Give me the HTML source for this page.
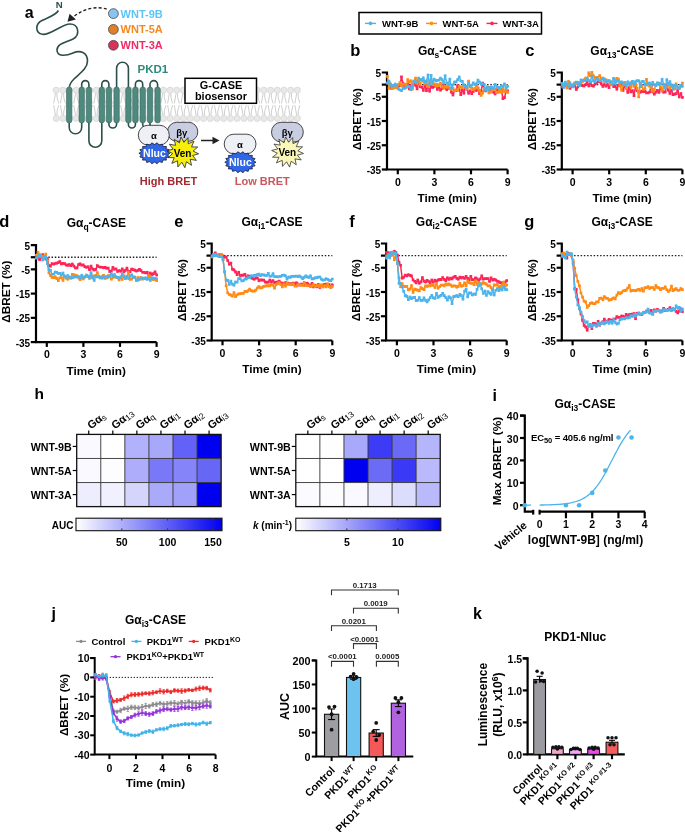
<!DOCTYPE html>
<html><head><meta charset="utf-8"><style>html,body{margin:0;padding:0;background:#fff;width:685px;height:832px;overflow:hidden}svg{display:block;will-change:transform}text{font-family:"Liberation Sans", sans-serif}</style></head>
<body><svg width="685" height="832" viewBox="0 0 685 832" font-family='"Liberation Sans", sans-serif'>
<rect width="685" height="832" fill="#fff"/>
<text x="24.80" y="17.50" font-size="16" font-weight="bold" text-anchor="start" fill="#000" >a</text>
<text x="59.10" y="8.30" font-size="9.6" font-weight="bold" text-anchor="middle" fill="#2a4d48" >N</text>
<path d="M58.4 10.5 C56 15, 48 17.5, 42 20.5 C35 24, 35 33, 42.5 34.3 C50 35.5, 62 24, 70 24 C79 24, 80 35, 73.5 38.8 C67 42.5, 57 43, 57 50 C57 57, 66 56, 73 53 C80 50, 87.5 52, 87.5 61 C87.5 69, 79 74, 74 79 C70 83, 69.3 86, 69.3 88" fill="none" stroke="#2c4f4a" stroke-width="1.6"/>
<path d="M106.7 9.2 C97 6, 85 8, 74.5 16" fill="none" stroke="#222" stroke-width="1.4" stroke-dasharray="3 2.2"/>
<polygon points="67.5,21.8 69.6,13.8 75.9,19.4" fill="#222"/>
<circle cx="113.4" cy="13.6" r="4.9" fill="#88c4f0" stroke="#444" stroke-width="0.8"/>
<text x="120.60" y="17.60" font-size="11" font-weight="bold" text-anchor="start" fill="#5bc5f5" >WNT-9B</text>
<circle cx="113.4" cy="29.4" r="4.9" fill="#e0812a" stroke="#444" stroke-width="0.8"/>
<text x="120.60" y="33.40" font-size="11" font-weight="bold" text-anchor="start" fill="#f5891f" >WNT-5A</text>
<circle cx="113.4" cy="45.3" r="4.9" fill="#d8325e" stroke="#444" stroke-width="0.8"/>
<text x="120.60" y="49.30" font-size="11" font-weight="bold" text-anchor="start" fill="#f02a68" >WNT-3A</text>
<text x="137.50" y="73.20" font-size="11.5" font-weight="bold" text-anchor="start" fill="#2e8a7e" >PKD1</text>
<path d="M55.50 93.20 L53.70 103.40 M56.90 93.20 L57.10 97.70 L58.70 103.40 M55.50 115.40 L53.70 105.20 M56.90 115.40 L57.10 110.90 L58.70 105.20 M62.20 93.20 L60.40 103.40 M63.60 93.20 L63.80 97.70 L65.40 103.40 M62.20 115.40 L60.40 105.20 M63.60 115.40 L63.80 110.90 L65.40 105.20 M68.90 93.20 L67.10 103.40 M70.30 93.20 L70.50 97.70 L72.10 103.40 M68.90 115.40 L67.10 105.20 M70.30 115.40 L70.50 110.90 L72.10 105.20 M75.60 93.20 L73.80 103.40 M77.00 93.20 L77.20 97.70 L78.80 103.40 M75.60 115.40 L73.80 105.20 M77.00 115.40 L77.20 110.90 L78.80 105.20 M82.30 93.20 L80.50 103.40 M83.70 93.20 L83.90 97.70 L85.50 103.40 M82.30 115.40 L80.50 105.20 M83.70 115.40 L83.90 110.90 L85.50 105.20 M89.00 93.20 L87.20 103.40 M90.40 93.20 L90.60 97.70 L92.20 103.40 M89.00 115.40 L87.20 105.20 M90.40 115.40 L90.60 110.90 L92.20 105.20 M95.70 93.20 L93.90 103.40 M97.10 93.20 L97.30 97.70 L98.90 103.40 M95.70 115.40 L93.90 105.20 M97.10 115.40 L97.30 110.90 L98.90 105.20 M102.40 93.20 L100.60 103.40 M103.80 93.20 L104.00 97.70 L105.60 103.40 M102.40 115.40 L100.60 105.20 M103.80 115.40 L104.00 110.90 L105.60 105.20 M109.10 93.20 L107.30 103.40 M110.50 93.20 L110.70 97.70 L112.30 103.40 M109.10 115.40 L107.30 105.20 M110.50 115.40 L110.70 110.90 L112.30 105.20 M115.80 93.20 L114.00 103.40 M117.20 93.20 L117.40 97.70 L119.00 103.40 M115.80 115.40 L114.00 105.20 M117.20 115.40 L117.40 110.90 L119.00 105.20 M122.50 93.20 L120.70 103.40 M123.90 93.20 L124.10 97.70 L125.70 103.40 M122.50 115.40 L120.70 105.20 M123.90 115.40 L124.10 110.90 L125.70 105.20 M129.20 93.20 L127.40 103.40 M130.60 93.20 L130.80 97.70 L132.40 103.40 M129.20 115.40 L127.40 105.20 M130.60 115.40 L130.80 110.90 L132.40 105.20 M135.90 93.20 L134.10 103.40 M137.30 93.20 L137.50 97.70 L139.10 103.40 M135.90 115.40 L134.10 105.20 M137.30 115.40 L137.50 110.90 L139.10 105.20 M142.60 93.20 L140.80 103.40 M144.00 93.20 L144.20 97.70 L145.80 103.40 M142.60 115.40 L140.80 105.20 M144.00 115.40 L144.20 110.90 L145.80 105.20 M149.30 93.20 L147.50 103.40 M150.70 93.20 L150.90 97.70 L152.50 103.40 M149.30 115.40 L147.50 105.20 M150.70 115.40 L150.90 110.90 L152.50 105.20 M156.00 93.20 L154.20 103.40 M157.40 93.20 L157.60 97.70 L159.20 103.40 M156.00 115.40 L154.20 105.20 M157.40 115.40 L157.60 110.90 L159.20 105.20 M162.70 93.20 L160.90 103.40 M164.10 93.20 L164.30 97.70 L165.90 103.40 M162.70 115.40 L160.90 105.20 M164.10 115.40 L164.30 110.90 L165.90 105.20 M169.40 93.20 L167.60 103.40 M170.80 93.20 L171.00 97.70 L172.60 103.40 M169.40 115.40 L167.60 105.20 M170.80 115.40 L171.00 110.90 L172.60 105.20 M176.10 93.20 L174.30 103.40 M177.50 93.20 L177.70 97.70 L179.30 103.40 M176.10 115.40 L174.30 105.20 M177.50 115.40 L177.70 110.90 L179.30 105.20 M182.80 93.20 L181.00 103.40 M184.20 93.20 L184.40 97.70 L186.00 103.40 M182.80 115.40 L181.00 105.20 M184.20 115.40 L184.40 110.90 L186.00 105.20 M189.50 93.20 L187.70 103.40 M190.90 93.20 L191.10 97.70 L192.70 103.40 M189.50 115.40 L187.70 105.20 M190.90 115.40 L191.10 110.90 L192.70 105.20 M196.20 93.20 L194.40 103.40 M197.60 93.20 L197.80 97.70 L199.40 103.40 M196.20 115.40 L194.40 105.20 M197.60 115.40 L197.80 110.90 L199.40 105.20 M202.90 93.20 L201.10 103.40 M204.30 93.20 L204.50 97.70 L206.10 103.40 M202.90 115.40 L201.10 105.20 M204.30 115.40 L204.50 110.90 L206.10 105.20 M209.60 93.20 L207.80 103.40 M211.00 93.20 L211.20 97.70 L212.80 103.40 M209.60 115.40 L207.80 105.20 M211.00 115.40 L211.20 110.90 L212.80 105.20 M216.30 93.20 L214.50 103.40 M217.70 93.20 L217.90 97.70 L219.50 103.40 M216.30 115.40 L214.50 105.20 M217.70 115.40 L217.90 110.90 L219.50 105.20 M223.00 93.20 L221.20 103.40 M224.40 93.20 L224.60 97.70 L226.20 103.40 M223.00 115.40 L221.20 105.20 M224.40 115.40 L224.60 110.90 L226.20 105.20 M229.70 93.20 L227.90 103.40 M231.10 93.20 L231.30 97.70 L232.90 103.40 M229.70 115.40 L227.90 105.20 M231.10 115.40 L231.30 110.90 L232.90 105.20 M236.40 93.20 L234.60 103.40 M237.80 93.20 L238.00 97.70 L239.60 103.40 M236.40 115.40 L234.60 105.20 M237.80 115.40 L238.00 110.90 L239.60 105.20 M243.10 93.20 L241.30 103.40 M244.50 93.20 L244.70 97.70 L246.30 103.40 M243.10 115.40 L241.30 105.20 M244.50 115.40 L244.70 110.90 L246.30 105.20 M249.80 93.20 L248.00 103.40 M251.20 93.20 L251.40 97.70 L253.00 103.40 M249.80 115.40 L248.00 105.20 M251.20 115.40 L251.40 110.90 L253.00 105.20 M256.50 93.20 L254.70 103.40 M257.90 93.20 L258.10 97.70 L259.70 103.40 M256.50 115.40 L254.70 105.20 M257.90 115.40 L258.10 110.90 L259.70 105.20 M263.20 93.20 L261.40 103.40 M264.60 93.20 L264.80 97.70 L266.40 103.40 M263.20 115.40 L261.40 105.20 M264.60 115.40 L264.80 110.90 L266.40 105.20 M269.90 93.20 L268.10 103.40 M271.30 93.20 L271.50 97.70 L273.10 103.40 M269.90 115.40 L268.10 105.20 M271.30 115.40 L271.50 110.90 L273.10 105.20 M276.60 93.20 L274.80 103.40 M278.00 93.20 L278.20 97.70 L279.80 103.40 M276.60 115.40 L274.80 105.20 M278.00 115.40 L278.20 110.90 L279.80 105.20 M283.30 93.20 L281.50 103.40 M284.70 93.20 L284.90 97.70 L286.50 103.40 M283.30 115.40 L281.50 105.20 M284.70 115.40 L284.90 110.90 L286.50 105.20 M290.00 93.20 L288.20 103.40 M291.40 93.20 L291.60 97.70 L293.20 103.40 M290.00 115.40 L288.20 105.20 M291.40 115.40 L291.60 110.90 L293.20 105.20 M296.70 93.20 L294.90 103.40 M298.10 93.20 L298.30 97.70 L299.90 103.40 M296.70 115.40 L294.90 105.20 M298.10 115.40 L298.30 110.90 L299.90 105.20" fill="none" stroke="#cbcbcb" stroke-width="0.95"/>
<g fill="#e8e8e8" stroke="#d0d0d0" stroke-width="0.6"><circle cx="56.20" cy="90.2" r="3.1"/><circle cx="56.20" cy="118.4" r="3.1"/><circle cx="62.90" cy="90.2" r="3.1"/><circle cx="62.90" cy="118.4" r="3.1"/><circle cx="69.60" cy="90.2" r="3.1"/><circle cx="69.60" cy="118.4" r="3.1"/><circle cx="76.30" cy="90.2" r="3.1"/><circle cx="76.30" cy="118.4" r="3.1"/><circle cx="83.00" cy="90.2" r="3.1"/><circle cx="83.00" cy="118.4" r="3.1"/><circle cx="89.70" cy="90.2" r="3.1"/><circle cx="89.70" cy="118.4" r="3.1"/><circle cx="96.40" cy="90.2" r="3.1"/><circle cx="96.40" cy="118.4" r="3.1"/><circle cx="103.10" cy="90.2" r="3.1"/><circle cx="103.10" cy="118.4" r="3.1"/><circle cx="109.80" cy="90.2" r="3.1"/><circle cx="109.80" cy="118.4" r="3.1"/><circle cx="116.50" cy="90.2" r="3.1"/><circle cx="116.50" cy="118.4" r="3.1"/><circle cx="123.20" cy="90.2" r="3.1"/><circle cx="123.20" cy="118.4" r="3.1"/><circle cx="129.90" cy="90.2" r="3.1"/><circle cx="129.90" cy="118.4" r="3.1"/><circle cx="136.60" cy="90.2" r="3.1"/><circle cx="136.60" cy="118.4" r="3.1"/><circle cx="143.30" cy="90.2" r="3.1"/><circle cx="143.30" cy="118.4" r="3.1"/><circle cx="150.00" cy="90.2" r="3.1"/><circle cx="150.00" cy="118.4" r="3.1"/><circle cx="156.70" cy="90.2" r="3.1"/><circle cx="156.70" cy="118.4" r="3.1"/><circle cx="163.40" cy="90.2" r="3.1"/><circle cx="163.40" cy="118.4" r="3.1"/><circle cx="170.10" cy="90.2" r="3.1"/><circle cx="170.10" cy="118.4" r="3.1"/><circle cx="176.80" cy="90.2" r="3.1"/><circle cx="176.80" cy="118.4" r="3.1"/><circle cx="183.50" cy="90.2" r="3.1"/><circle cx="183.50" cy="118.4" r="3.1"/><circle cx="190.20" cy="90.2" r="3.1"/><circle cx="190.20" cy="118.4" r="3.1"/><circle cx="196.90" cy="90.2" r="3.1"/><circle cx="196.90" cy="118.4" r="3.1"/><circle cx="203.60" cy="90.2" r="3.1"/><circle cx="203.60" cy="118.4" r="3.1"/><circle cx="210.30" cy="90.2" r="3.1"/><circle cx="210.30" cy="118.4" r="3.1"/><circle cx="217.00" cy="90.2" r="3.1"/><circle cx="217.00" cy="118.4" r="3.1"/><circle cx="223.70" cy="90.2" r="3.1"/><circle cx="223.70" cy="118.4" r="3.1"/><circle cx="230.40" cy="90.2" r="3.1"/><circle cx="230.40" cy="118.4" r="3.1"/><circle cx="237.10" cy="90.2" r="3.1"/><circle cx="237.10" cy="118.4" r="3.1"/><circle cx="243.80" cy="90.2" r="3.1"/><circle cx="243.80" cy="118.4" r="3.1"/><circle cx="250.50" cy="90.2" r="3.1"/><circle cx="250.50" cy="118.4" r="3.1"/><circle cx="257.20" cy="90.2" r="3.1"/><circle cx="257.20" cy="118.4" r="3.1"/><circle cx="263.90" cy="90.2" r="3.1"/><circle cx="263.90" cy="118.4" r="3.1"/><circle cx="270.60" cy="90.2" r="3.1"/><circle cx="270.60" cy="118.4" r="3.1"/><circle cx="277.30" cy="90.2" r="3.1"/><circle cx="277.30" cy="118.4" r="3.1"/><circle cx="284.00" cy="90.2" r="3.1"/><circle cx="284.00" cy="118.4" r="3.1"/><circle cx="290.70" cy="90.2" r="3.1"/><circle cx="290.70" cy="118.4" r="3.1"/><circle cx="297.40" cy="90.2" r="3.1"/><circle cx="297.40" cy="118.4" r="3.1"/></g>
<path d="M69.2 121.0 V127.55000000000001 A6.25 6.25 0 0 0 81.7 127.55000000000001 V121.0 M81.7 89.0 V84.19999999999999 A3.6000000000000014 3.6000000000000014 0 0 1 88.9 84.19999999999999 V89.0 M88.9 121.0 V140.85000000000002 A6.449999999999996 6.449999999999996 0 0 0 101.8 140.85000000000002 V121.0 M101.8 89.0 V84.15 A3.5500000000000043 3.5500000000000043 0 0 1 108.9 84.15 V89.0 M108.9 121.0 V124.15 A3.8499999999999943 3.8499999999999943 0 0 0 116.6 124.15 V121.0 M116.6 89.0 V68.2 A5.900000000000006 5.900000000000006 0 0 1 128.4 68.2 V89.0 M128.4 121.0 V124.5 A3.5 3.5 0 0 0 135.4 124.5 V121.0 M135.4 89.0 V84.24999999999999 A3.6499999999999915 3.6499999999999915 0 0 1 142.7 84.24999999999999 V89.0 M142.7 121.0 V124.35 A3.6500000000000057 3.6500000000000057 0 0 0 150.0 124.35 V121.0 M150.0 89.0 V84.39999999999999 A3.799999999999997 3.799999999999997 0 0 1 157.6 84.39999999999999 V89.0" fill="none" stroke="#2c4f4a" stroke-width="1.6"/>
<rect x="66.50" y="87.0" width="5.4" height="36.0" rx="2.7" fill="#4f8a7f" stroke="#37675e" stroke-width="0.6"/>
<rect x="79.00" y="87.0" width="5.4" height="36.0" rx="2.7" fill="#4f8a7f" stroke="#37675e" stroke-width="0.6"/>
<rect x="86.20" y="87.0" width="5.4" height="36.0" rx="2.7" fill="#4f8a7f" stroke="#37675e" stroke-width="0.6"/>
<rect x="99.10" y="87.0" width="5.4" height="36.0" rx="2.7" fill="#4f8a7f" stroke="#37675e" stroke-width="0.6"/>
<rect x="106.20" y="87.0" width="5.4" height="36.0" rx="2.7" fill="#4f8a7f" stroke="#37675e" stroke-width="0.6"/>
<rect x="113.90" y="87.0" width="5.4" height="36.0" rx="2.7" fill="#4f8a7f" stroke="#37675e" stroke-width="0.6"/>
<rect x="125.70" y="87.0" width="5.4" height="36.0" rx="2.7" fill="#4f8a7f" stroke="#37675e" stroke-width="0.6"/>
<rect x="132.70" y="87.0" width="5.4" height="36.0" rx="2.7" fill="#4f8a7f" stroke="#37675e" stroke-width="0.6"/>
<rect x="140.00" y="87.0" width="5.4" height="36.0" rx="2.7" fill="#4f8a7f" stroke="#37675e" stroke-width="0.6"/>
<rect x="147.30" y="87.0" width="5.4" height="36.0" rx="2.7" fill="#4f8a7f" stroke="#37675e" stroke-width="0.6"/>
<rect x="154.90" y="87.0" width="5.4" height="36.0" rx="2.7" fill="#4f8a7f" stroke="#37675e" stroke-width="0.6"/>
<rect x="185" y="78.3" width="71.5" height="25" fill="#fff" stroke="#000" stroke-width="1.5"/>
<text x="221.00" y="88.90" font-size="10.9" font-weight="bold" text-anchor="middle" fill="#000" >G-CASE</text>
<text x="221.00" y="99.90" font-size="10.9" font-weight="bold" text-anchor="middle" fill="#000" >biosensor</text>
<rect x="167.5" y="122.3" width="30.30000000000001" height="19.000000000000014" rx="9.12" ry="9.50" fill="#c9cde2" stroke="#333" stroke-width="0.9"/>
<text x="181.80" y="136.00" font-size="9.5" font-weight="bold" text-anchor="middle" fill="#000" >&#946;&#947;</text>
<rect x="138.3" y="125.3" width="31.0" height="19.700000000000003" rx="9.46" ry="9.85" fill="#eef0f6" stroke="#333" stroke-width="0.9"/>
<text x="153.80" y="138.50" font-size="9.5" font-weight="bold" text-anchor="middle" fill="#000" >&#945;</text>
<polygon points="170.10,153.30 167.60,154.83 169.16,156.93 166.02,157.70 166.45,160.11 163.05,160.04 162.30,162.48 159.05,161.57 157.21,163.74 154.50,162.10 151.79,163.74 149.95,161.57 146.70,162.48 145.95,160.04 142.55,160.11 142.98,157.70 139.84,156.93 141.40,154.83 138.90,153.30 141.40,151.77 139.84,149.67 142.98,148.90 142.55,146.49 145.95,146.56 146.70,144.12 149.95,145.03 151.79,142.86 154.50,144.50 157.21,142.86 159.05,145.03 162.30,144.12 163.05,146.56 166.45,146.49 166.02,148.90 169.16,149.67 167.60,151.77" fill="#2f66e6" stroke="#1a1a40" stroke-width="0.8"/>
<text x="154.50" y="157.30" font-size="10.5" font-weight="bold" text-anchor="middle" fill="#fff" >Nluc</text>
<polygon points="198.62,153.85 192.66,155.49 196.38,160.39 190.27,159.28 191.47,165.32 186.42,161.70 184.86,167.68 181.87,162.25 177.86,166.99 177.53,160.83 171.86,163.39 174.25,157.72 168.05,157.60 172.68,153.54 167.18,150.75 173.14,149.11 169.42,144.21 175.53,145.32 174.33,139.28 179.38,142.90 180.94,136.92 183.93,142.35 187.94,137.61 188.27,143.77 193.94,141.21 191.55,146.88 197.75,147.00 193.12,151.06" fill="#f5ef0a" stroke="#222" stroke-width="0.8"/>
<text x="182.60" y="156.60" font-size="10" font-weight="bold" text-anchor="middle" fill="#000" >Ven</text>
<line x1="201.00" y1="140.50" x2="213.50" y2="140.50" stroke="#222" stroke-width="1.5" />
<polygon points="219.5,140.5 212.5,136.8 212.5,144.2" fill="#222"/>
<rect x="224.2" y="134.2" width="31.80000000000001" height="19.600000000000023" rx="9.41" ry="9.80" fill="#eef0f6" stroke="#333" stroke-width="0.9"/>
<text x="239.80" y="147.50" font-size="9.5" font-weight="bold" text-anchor="middle" fill="#000" >&#945;</text>
<polygon points="256.00,162.20 253.50,163.73 255.06,165.83 251.92,166.60 252.35,169.01 248.95,168.94 248.20,171.38 244.95,170.47 243.11,172.64 240.40,171.00 237.69,172.64 235.85,170.47 232.60,171.38 231.85,168.94 228.45,169.01 228.88,166.60 225.74,165.83 227.30,163.73 224.80,162.20 227.30,160.67 225.74,158.57 228.88,157.80 228.45,155.39 231.85,155.46 232.60,153.02 235.85,153.93 237.69,151.76 240.40,153.40 243.11,151.76 244.95,153.93 248.20,153.02 248.95,155.46 252.35,155.39 251.92,157.80 255.06,158.57 253.50,160.67" fill="#2f66e6" stroke="#1a1a40" stroke-width="0.8"/>
<text x="240.40" y="166.20" font-size="10.5" font-weight="bold" text-anchor="middle" fill="#fff" >Nluc</text>
<rect x="271.5" y="122.3" width="31.80000000000001" height="19.700000000000003" rx="9.46" ry="9.85" fill="#c9cde2" stroke="#333" stroke-width="0.9"/>
<text x="287.30" y="135.80" font-size="9.5" font-weight="bold" text-anchor="middle" fill="#000" >&#946;&#947;</text>
<polygon points="303.52,153.52 297.36,155.12 301.25,159.93 294.97,158.84 296.28,164.77 291.12,161.21 289.59,167.08 286.57,161.75 282.50,166.41 282.23,160.36 276.43,162.88 278.95,157.31 272.56,157.19 277.38,153.22 271.68,150.48 277.84,148.88 273.95,144.07 280.23,145.16 278.92,139.23 284.08,142.79 285.61,136.92 288.63,142.25 292.70,137.59 292.97,143.64 298.77,141.12 296.25,146.69 302.64,146.81 297.82,150.78" fill="#fbf7b8" stroke="#333" stroke-width="0.8"/>
<text x="287.30" y="156.30" font-size="10" font-weight="bold" text-anchor="middle" fill="#000" >Ven</text>
<text x="168.50" y="185.40" font-size="11" font-weight="bold" text-anchor="middle" fill="#a32a30" >High BRET</text>
<text x="262.30" y="185.40" font-size="11" font-weight="bold" text-anchor="middle" fill="#c9575c" >Low BRET</text>
<rect x="359" y="12.5" width="182.5" height="21.5" fill="#fff" stroke="#000" stroke-width="1.5"/>
<line x1="365.00" y1="23.40" x2="376.00" y2="23.40" stroke="#4cb4ec" stroke-width="1.4" />
<circle cx="370.5" cy="23.4" r="1.8" fill="#4cb4ec"/>
<text x="382.00" y="27.00" font-size="9.5" font-weight="bold" text-anchor="start" fill="#000" >WNT-9B</text>
<line x1="426.00" y1="23.40" x2="437.00" y2="23.40" stroke="#ff8a14" stroke-width="1.4" />
<circle cx="431.5" cy="23.4" r="1.8" fill="#ff8a14"/>
<text x="442.50" y="27.00" font-size="9.5" font-weight="bold" text-anchor="start" fill="#000" >WNT-5A</text>
<line x1="486.50" y1="23.40" x2="497.50" y2="23.40" stroke="#ff2457" stroke-width="1.4" />
<circle cx="492.0" cy="23.4" r="1.8" fill="#ff2457"/>
<text x="502.50" y="27.00" font-size="9.5" font-weight="bold" text-anchor="start" fill="#000" >WNT-3A</text>
<path d="M381.80 72.50 H387.00 V169.50 H507.60" fill="none" stroke="#000" stroke-width="2.2"/>
<line x1="381.80" y1="84.62" x2="387.00" y2="84.62" stroke="#000" stroke-width="2.2" />
<line x1="381.80" y1="96.75" x2="387.00" y2="96.75" stroke="#000" stroke-width="2.2" />
<line x1="381.80" y1="121.00" x2="387.00" y2="121.00" stroke="#000" stroke-width="2.2" />
<line x1="381.80" y1="145.25" x2="387.00" y2="145.25" stroke="#000" stroke-width="2.2" />
<line x1="381.80" y1="169.50" x2="387.00" y2="169.50" stroke="#000" stroke-width="2.2" />
<text x="381.10" y="77.10" font-size="10" font-weight="bold" text-anchor="end" fill="#000" >5</text>
<text x="381.10" y="101.35" font-size="10" font-weight="bold" text-anchor="end" fill="#000" >-5</text>
<text x="381.10" y="125.60" font-size="10" font-weight="bold" text-anchor="end" fill="#000" >-15</text>
<text x="381.10" y="149.85" font-size="10" font-weight="bold" text-anchor="end" fill="#000" >-25</text>
<text x="381.10" y="174.10" font-size="10" font-weight="bold" text-anchor="end" fill="#000" >-35</text>
<line x1="397.80" y1="169.50" x2="397.80" y2="174.30" stroke="#000" stroke-width="2.2" />
<text x="397.80" y="185.80" font-size="10.5" font-weight="bold" text-anchor="middle" fill="#000" >0</text>
<line x1="434.40" y1="169.50" x2="434.40" y2="174.30" stroke="#000" stroke-width="2.2" />
<text x="434.40" y="185.80" font-size="10.5" font-weight="bold" text-anchor="middle" fill="#000" >3</text>
<line x1="471.00" y1="169.50" x2="471.00" y2="174.30" stroke="#000" stroke-width="2.2" />
<text x="471.00" y="185.80" font-size="10.5" font-weight="bold" text-anchor="middle" fill="#000" >6</text>
<line x1="507.60" y1="169.50" x2="507.60" y2="174.30" stroke="#000" stroke-width="2.2" />
<text x="507.60" y="185.80" font-size="10.5" font-weight="bold" text-anchor="middle" fill="#000" >9</text>
<text x="447.30" y="202.00" font-size="11.8" font-weight="bold" text-anchor="middle" fill="#000" >Time (min)</text>
<text x="361.20" y="119.10" font-size="11.8" font-weight="bold" text-anchor="middle" fill="#000" transform="rotate(-90 361.20 119.10)">&#916;BRET (%)</text>
<line x1="399.30" y1="84.62" x2="507.60" y2="84.62" stroke="#222" stroke-width="1.3" stroke-dasharray="1.5 1.75"/>
<text x="447.30" y="54.70" font-size="12" font-weight="bold" text-anchor="middle" fill="#000" >G&#945;<tspan font-size="8.5" dy="3">s</tspan><tspan dy="-3">-CASE</tspan></text>
<text x="350.20" y="55.80" font-size="16.5" font-weight="bold" text-anchor="start" fill="#000" >b</text>
<path d="M387.43 81.35V84.05M388.99 81.63V84.29M390.55 86.55V89.36M392.11 84.87V87.14M393.67 84.37V86.76M395.23 84.67V87.04M396.79 85.34V86.99M398.35 84.46V87.91M399.92 84.49V87.11M401.48 75.86V78.59M403.04 82.09V84.71M404.60 85.00V86.53M406.16 83.88V86.21M407.72 82.64V86.01M409.28 87.60V89.71M410.84 83.93V87.38M412.40 84.63V87.32M413.96 81.23V83.32M415.52 84.25V86.53M417.08 87.81V89.78M418.64 81.51V83.66M420.20 85.80V87.98M421.76 86.18V88.84M423.32 88.61V90.94M424.89 85.00V86.86M426.45 88.96V92.32M428.01 84.27V86.15M429.57 89.72V92.77M431.13 84.73V87.49M432.69 85.78V88.90M434.25 85.08V88.08M435.81 84.32V86.70M437.37 88.72V90.24M438.93 84.52V87.10M440.49 88.66V91.52M442.05 87.03V89.71M443.61 83.97V85.95M445.17 85.82V88.81M446.73 87.81V91.26M448.30 87.21V89.26M449.86 88.01V89.39M451.42 91.37V93.72M452.98 93.45V96.62M454.54 89.37V91.74M456.10 88.98V91.60M457.66 84.27V86.45M459.22 89.13V90.77M460.78 92.96V95.93M462.34 88.00V90.89M463.90 92.20V94.71M465.46 84.94V87.17M467.02 87.75V89.88M468.58 92.45V94.88M470.14 90.11V91.66M471.71 91.84V94.77M473.27 90.67V92.23M474.83 88.24V90.64M476.39 89.68V92.12M477.95 87.11V89.96M479.51 91.97V94.64M481.07 89.91V92.01M482.63 82.42V84.55M484.19 89.74V91.01M485.75 89.05V91.82M487.31 87.32V89.81M488.87 86.66V88.33M490.43 88.11V91.61M491.99 87.35V89.88M493.55 91.22V93.44M495.11 92.17V95.23M496.68 88.29V91.14M498.24 90.87V93.05M499.80 87.75V89.63M501.36 88.94V90.60M502.92 96.76V99.71M504.48 96.17V98.95M506.04 89.50V92.32M507.60 89.85V91.83" stroke="#ff2457" stroke-width="0.6" fill="none"/>
<path d="M387.43 82.78 L388.99 82.50 L390.55 88.12 L392.11 85.75 L393.67 85.45 L395.23 85.67 L396.79 86.02 L398.35 86.24 L399.92 85.46 L401.48 76.84 L403.04 83.60 L404.60 85.92 L406.16 85.56 L407.72 84.24 L409.28 88.90 L410.84 85.59 L412.40 86.09 L413.96 82.29 L415.52 85.11 L417.08 88.94 L418.64 82.24 L420.20 86.77 L421.76 87.18 L423.32 90.31 L424.89 85.85 L426.45 90.76 L428.01 85.29 L429.57 91.15 L431.13 86.47 L432.69 87.46 L434.25 86.28 L435.81 85.21 L437.37 89.43 L438.93 86.23 L440.49 90.18 L442.05 88.66 L443.61 84.99 L445.17 87.47 L446.73 89.58 L448.30 87.98 L449.86 88.74 L451.42 92.06 L452.98 95.01 L454.54 90.39 L456.10 90.54 L457.66 85.57 L459.22 89.84 L460.78 94.64 L462.34 89.73 L463.90 93.15 L465.46 86.55 L467.02 89.16 L468.58 93.20 L470.14 90.76 L471.71 93.65 L473.27 91.42 L474.83 89.14 L476.39 90.41 L477.95 88.18 L479.51 93.68 L481.07 90.83 L482.63 83.15 L484.19 90.39 L485.75 90.85 L487.31 88.65 L488.87 87.65 L490.43 89.83 L491.99 89.13 L493.55 92.09 L495.11 93.97 L496.68 89.73 L498.24 91.79 L499.80 88.73 L501.36 89.65 L502.92 98.56 L504.48 97.56 L506.04 91.24 L507.60 90.83" fill="none" stroke="#ff2457" stroke-width="1.5" stroke-linejoin="round"/>
<path d="M386.08 82.78h2.7M387.64 82.50h2.7M389.20 88.12h2.7M390.76 85.75h2.7M392.32 85.45h2.7M393.88 85.67h2.7M395.44 86.02h2.7M397.00 86.24h2.7M398.57 85.46h2.7M400.13 76.84h2.7M401.69 83.60h2.7M403.25 85.92h2.7M404.81 85.56h2.7M406.37 84.24h2.7M407.93 88.90h2.7M409.49 85.59h2.7M411.05 86.09h2.7M412.61 82.29h2.7M414.17 85.11h2.7M415.73 88.94h2.7M417.29 82.24h2.7M418.85 86.77h2.7M420.41 87.18h2.7M421.97 90.31h2.7M423.54 85.85h2.7M425.10 90.76h2.7M426.66 85.29h2.7M428.22 91.15h2.7M429.78 86.47h2.7M431.34 87.46h2.7M432.90 86.28h2.7M434.46 85.21h2.7M436.02 89.43h2.7M437.58 86.23h2.7M439.14 90.18h2.7M440.70 88.66h2.7M442.26 84.99h2.7M443.82 87.47h2.7M445.38 89.58h2.7M446.95 87.98h2.7M448.51 88.74h2.7M450.07 92.06h2.7M451.63 95.01h2.7M453.19 90.39h2.7M454.75 90.54h2.7M456.31 85.57h2.7M457.87 89.84h2.7M459.43 94.64h2.7M460.99 89.73h2.7M462.55 93.15h2.7M464.11 86.55h2.7M465.67 89.16h2.7M467.23 93.20h2.7M468.79 90.76h2.7M470.36 93.65h2.7M471.92 91.42h2.7M473.48 89.14h2.7M475.04 90.41h2.7M476.60 88.18h2.7M478.16 93.68h2.7M479.72 90.83h2.7M481.28 83.15h2.7M482.84 90.39h2.7M484.40 90.85h2.7M485.96 88.65h2.7M487.52 87.65h2.7M489.08 89.83h2.7M490.64 89.13h2.7M492.20 92.09h2.7M493.76 93.97h2.7M495.33 89.73h2.7M496.89 91.79h2.7M498.45 88.73h2.7M500.01 89.65h2.7M501.57 98.56h2.7M503.13 97.56h2.7M504.69 91.24h2.7M506.25 90.83h2.7" stroke="#ff2457" stroke-width="2.7"/>
<path d="M387.43 75.19V78.21M388.99 86.46V90.01M390.55 82.88V84.92M392.11 87.74V89.98M393.67 86.58V89.52M395.23 85.97V88.35M396.79 86.45V88.82M398.35 83.97V85.24M399.92 81.56V83.40M401.48 84.38V86.76M403.04 83.53V85.09M404.60 83.26V85.02M406.16 85.58V87.98M407.72 78.52V80.89M409.28 80.94V83.51M410.84 79.15V82.42M412.40 88.08V90.44M413.96 80.36V82.34M415.52 76.86V79.22M417.08 82.50V84.04M418.64 78.89V81.52M420.20 83.27V86.23M421.76 77.93V80.24M423.32 79.37V82.22M424.89 83.33V85.40M426.45 80.48V82.19M428.01 84.84V87.89M429.57 82.04V83.82M431.13 79.83V82.13M432.69 83.71V85.89M434.25 83.11V84.75M435.81 85.12V87.92M437.37 83.71V85.93M438.93 84.72V86.86M440.49 81.95V84.20M442.05 84.59V87.20M443.61 87.50V89.00M445.17 85.48V87.82M446.73 85.81V88.96M448.30 84.55V86.63M449.86 87.33V90.28M451.42 87.98V90.68M452.98 87.20V89.40M454.54 89.01V91.52M456.10 88.69V91.12M457.66 88.35V91.70M459.22 84.73V88.08M460.78 86.09V87.95M462.34 86.55V88.67M463.90 83.53V86.08M465.46 85.42V88.45M467.02 87.31V89.63M468.58 79.97V82.82M470.14 86.15V88.04M471.71 87.42V88.82M473.27 87.98V91.48M474.83 87.28V89.43M476.39 83.67V85.52M477.95 86.60V89.46M479.51 89.33V91.71M481.07 94.62V96.63M482.63 91.27V94.55M484.19 87.63V89.58M485.75 88.76V91.15M487.31 86.00V88.86M488.87 91.34V93.90M490.43 90.41V93.78M491.99 89.12V91.20M493.55 87.64V89.42M495.11 87.94V90.94M496.68 91.94V93.99M498.24 91.06V93.35M499.80 88.28V91.49M501.36 90.60V93.24M502.92 87.34V90.12M504.48 90.05V92.97M506.04 88.57V91.74M507.60 91.48V93.72" stroke="#ff8a14" stroke-width="0.6" fill="none"/>
<path d="M387.43 76.41 L388.99 88.20 L390.55 83.77 L392.11 88.66 L393.67 87.94 L395.23 87.44 L396.79 87.57 L398.35 84.59 L399.92 82.66 L401.48 85.87 L403.04 84.26 L404.60 84.15 L406.16 86.81 L407.72 79.50 L409.28 81.80 L410.84 80.93 L412.40 89.21 L413.96 81.67 L415.52 77.98 L417.08 83.32 L418.64 80.47 L420.20 84.50 L421.76 79.28 L423.32 81.17 L424.89 83.96 L426.45 81.21 L428.01 86.47 L429.57 82.67 L431.13 80.93 L432.69 84.57 L434.25 83.80 L435.81 86.18 L437.37 84.41 L438.93 85.56 L440.49 83.03 L442.05 86.11 L443.61 88.25 L445.17 86.18 L446.73 87.19 L448.30 86.00 L449.86 88.74 L451.42 89.47 L452.98 88.24 L454.54 90.59 L456.10 89.93 L457.66 90.12 L459.22 86.46 L460.78 87.06 L462.34 87.75 L463.90 84.65 L465.46 87.14 L467.02 88.91 L468.58 81.00 L470.14 86.93 L471.71 88.11 L473.27 89.68 L474.83 88.67 L476.39 84.64 L477.95 88.02 L479.51 90.47 L481.07 95.37 L482.63 93.02 L484.19 88.35 L485.75 90.23 L487.31 87.70 L488.87 92.80 L490.43 92.23 L491.99 90.42 L493.55 88.78 L495.11 89.26 L496.68 92.77 L498.24 92.25 L499.80 89.75 L501.36 92.06 L502.92 89.11 L504.48 91.56 L506.04 90.10 L507.60 92.36" fill="none" stroke="#ff8a14" stroke-width="1.5" stroke-linejoin="round"/>
<path d="M386.08 76.41h2.7M387.64 88.20h2.7M389.20 83.77h2.7M390.76 88.66h2.7M392.32 87.94h2.7M393.88 87.44h2.7M395.44 87.57h2.7M397.00 84.59h2.7M398.57 82.66h2.7M400.13 85.87h2.7M401.69 84.26h2.7M403.25 84.15h2.7M404.81 86.81h2.7M406.37 79.50h2.7M407.93 81.80h2.7M409.49 80.93h2.7M411.05 89.21h2.7M412.61 81.67h2.7M414.17 77.98h2.7M415.73 83.32h2.7M417.29 80.47h2.7M418.85 84.50h2.7M420.41 79.28h2.7M421.97 81.17h2.7M423.54 83.96h2.7M425.10 81.21h2.7M426.66 86.47h2.7M428.22 82.67h2.7M429.78 80.93h2.7M431.34 84.57h2.7M432.90 83.80h2.7M434.46 86.18h2.7M436.02 84.41h2.7M437.58 85.56h2.7M439.14 83.03h2.7M440.70 86.11h2.7M442.26 88.25h2.7M443.82 86.18h2.7M445.38 87.19h2.7M446.95 86.00h2.7M448.51 88.74h2.7M450.07 89.47h2.7M451.63 88.24h2.7M453.19 90.59h2.7M454.75 89.93h2.7M456.31 90.12h2.7M457.87 86.46h2.7M459.43 87.06h2.7M460.99 87.75h2.7M462.55 84.65h2.7M464.11 87.14h2.7M465.67 88.91h2.7M467.23 81.00h2.7M468.79 86.93h2.7M470.36 88.11h2.7M471.92 89.68h2.7M473.48 88.67h2.7M475.04 84.64h2.7M476.60 88.02h2.7M478.16 90.47h2.7M479.72 95.37h2.7M481.28 93.02h2.7M482.84 88.35h2.7M484.40 90.23h2.7M485.96 87.70h2.7M487.52 92.80h2.7M489.08 92.23h2.7M490.64 90.42h2.7M492.20 88.78h2.7M493.76 89.26h2.7M495.33 92.77h2.7M496.89 92.25h2.7M498.45 89.75h2.7M500.01 92.06h2.7M501.57 89.11h2.7M503.13 91.56h2.7M504.69 90.10h2.7M506.25 92.36h2.7" stroke="#ff8a14" stroke-width="2.7"/>
<path d="M387.43 81.56V84.02M388.99 80.14V82.55M390.55 83.70V86.53M392.11 84.53V86.16M393.67 84.16V86.24M395.23 82.61V85.82M396.79 84.15V85.92M398.35 87.24V90.21M399.92 88.39V91.00M401.48 89.97V91.69M403.04 86.62V89.13M404.60 87.42V89.55M406.16 86.18V88.40M407.72 84.26V86.78M409.28 86.14V88.50M410.84 87.89V91.36M412.40 86.32V89.21M413.96 79.41V82.02M415.52 80.52V83.65M417.08 80.89V83.54M418.64 77.08V79.06M420.20 78.64V80.21M421.76 78.55V80.82M423.32 76.22V78.47M424.89 80.58V83.73M426.45 79.36V82.78M428.01 73.35V76.35M429.57 83.82V85.96M431.13 74.64V76.42M432.69 81.86V84.52M434.25 78.05V80.90M435.81 79.54V81.91M437.37 79.36V81.93M438.93 78.83V81.57M440.49 77.11V78.99M442.05 78.40V81.25M443.61 82.17V84.55M445.17 74.02V77.33M446.73 81.38V83.60M448.30 82.12V85.14M449.86 78.45V80.05M451.42 87.40V89.58M452.98 83.66V85.96M454.54 80.52V82.67M456.10 81.20V82.63M457.66 78.80V80.24M459.22 75.21V78.64M460.78 80.30V82.23M462.34 80.42V82.39M463.90 84.28V86.71M465.46 85.21V87.57M467.02 86.43V88.28M468.58 82.04V84.07M470.14 84.93V87.47M471.71 84.50V86.02M473.27 81.88V84.28M474.83 82.99V85.61M476.39 82.19V85.13M477.95 79.09V81.27M479.51 80.95V83.61M481.07 83.05V85.62M482.63 82.68V84.75M484.19 83.01V85.72M485.75 88.98V90.80M487.31 85.80V88.60M488.87 88.61V91.42M490.43 85.68V88.94M491.99 86.15V88.25M493.55 87.51V89.86M495.11 82.96V86.05M496.68 85.08V88.06M498.24 85.91V88.70M499.80 86.93V88.98M501.36 85.22V86.62M502.92 85.02V87.23M504.48 83.05V84.50M506.04 87.02V89.52M507.60 85.62V87.88" stroke="#4cb4ec" stroke-width="0.6" fill="none"/>
<path d="M387.43 83.21 L388.99 81.16 L390.55 85.38 L392.11 85.41 L393.67 85.40 L395.23 84.19 L396.79 84.98 L398.35 88.82 L399.92 89.98 L401.48 90.73 L403.04 88.19 L404.60 88.44 L406.16 87.30 L407.72 85.98 L409.28 86.75 L410.84 89.56 L412.40 87.45 L413.96 81.14 L415.52 82.03 L417.08 82.30 L418.64 78.04 L420.20 79.52 L421.76 79.87 L423.32 77.81 L424.89 82.28 L426.45 81.09 L428.01 75.05 L429.57 84.45 L431.13 75.45 L432.69 83.27 L434.25 79.16 L435.81 80.89 L437.37 80.28 L438.93 80.02 L440.49 78.14 L442.05 79.65 L443.61 82.98 L445.17 75.75 L446.73 82.99 L448.30 83.49 L449.86 79.12 L451.42 88.34 L452.98 84.78 L454.54 82.07 L456.10 81.87 L457.66 79.55 L459.22 77.00 L460.78 81.01 L462.34 81.41 L463.90 85.32 L465.46 86.53 L467.02 87.27 L468.58 82.79 L470.14 86.41 L471.71 85.20 L473.27 82.94 L474.83 84.54 L476.39 83.77 L477.95 80.22 L479.51 82.16 L481.07 84.17 L482.63 83.85 L484.19 84.27 L485.75 89.67 L487.31 86.92 L488.87 90.36 L490.43 87.38 L491.99 87.08 L493.55 88.27 L495.11 84.37 L496.68 86.65 L498.24 87.41 L499.80 87.66 L501.36 85.84 L502.92 86.57 L504.48 83.77 L506.04 88.69 L507.60 86.25" fill="none" stroke="#4cb4ec" stroke-width="1.5" stroke-linejoin="round"/>
<path d="M386.08 83.21h2.7M387.64 81.16h2.7M389.20 85.38h2.7M390.76 85.41h2.7M392.32 85.40h2.7M393.88 84.19h2.7M395.44 84.98h2.7M397.00 88.82h2.7M398.57 89.98h2.7M400.13 90.73h2.7M401.69 88.19h2.7M403.25 88.44h2.7M404.81 87.30h2.7M406.37 85.98h2.7M407.93 86.75h2.7M409.49 89.56h2.7M411.05 87.45h2.7M412.61 81.14h2.7M414.17 82.03h2.7M415.73 82.30h2.7M417.29 78.04h2.7M418.85 79.52h2.7M420.41 79.87h2.7M421.97 77.81h2.7M423.54 82.28h2.7M425.10 81.09h2.7M426.66 75.05h2.7M428.22 84.45h2.7M429.78 75.45h2.7M431.34 83.27h2.7M432.90 79.16h2.7M434.46 80.89h2.7M436.02 80.28h2.7M437.58 80.02h2.7M439.14 78.14h2.7M440.70 79.65h2.7M442.26 82.98h2.7M443.82 75.75h2.7M445.38 82.99h2.7M446.95 83.49h2.7M448.51 79.12h2.7M450.07 88.34h2.7M451.63 84.78h2.7M453.19 82.07h2.7M454.75 81.87h2.7M456.31 79.55h2.7M457.87 77.00h2.7M459.43 81.01h2.7M460.99 81.41h2.7M462.55 85.32h2.7M464.11 86.53h2.7M465.67 87.27h2.7M467.23 82.79h2.7M468.79 86.41h2.7M470.36 85.20h2.7M471.92 82.94h2.7M473.48 84.54h2.7M475.04 83.77h2.7M476.60 80.22h2.7M478.16 82.16h2.7M479.72 84.17h2.7M481.28 83.85h2.7M482.84 84.27h2.7M484.40 89.67h2.7M485.96 86.92h2.7M487.52 90.36h2.7M489.08 87.38h2.7M490.64 87.08h2.7M492.20 88.27h2.7M493.76 84.37h2.7M495.33 86.65h2.7M496.89 87.41h2.7M498.45 87.66h2.7M500.01 85.84h2.7M501.57 86.57h2.7M503.13 83.77h2.7M504.69 88.69h2.7M506.25 86.25h2.7" stroke="#4cb4ec" stroke-width="2.7"/>
<path d="M556.60 72.50 H561.80 V169.50 H682.40" fill="none" stroke="#000" stroke-width="2.2"/>
<line x1="556.60" y1="84.62" x2="561.80" y2="84.62" stroke="#000" stroke-width="2.2" />
<line x1="556.60" y1="96.75" x2="561.80" y2="96.75" stroke="#000" stroke-width="2.2" />
<line x1="556.60" y1="121.00" x2="561.80" y2="121.00" stroke="#000" stroke-width="2.2" />
<line x1="556.60" y1="145.25" x2="561.80" y2="145.25" stroke="#000" stroke-width="2.2" />
<line x1="556.60" y1="169.50" x2="561.80" y2="169.50" stroke="#000" stroke-width="2.2" />
<text x="555.90" y="77.10" font-size="10" font-weight="bold" text-anchor="end" fill="#000" >5</text>
<text x="555.90" y="101.35" font-size="10" font-weight="bold" text-anchor="end" fill="#000" >-5</text>
<text x="555.90" y="125.60" font-size="10" font-weight="bold" text-anchor="end" fill="#000" >-15</text>
<text x="555.90" y="149.85" font-size="10" font-weight="bold" text-anchor="end" fill="#000" >-25</text>
<text x="555.90" y="174.10" font-size="10" font-weight="bold" text-anchor="end" fill="#000" >-35</text>
<line x1="572.60" y1="169.50" x2="572.60" y2="174.30" stroke="#000" stroke-width="2.2" />
<text x="572.60" y="185.80" font-size="10.5" font-weight="bold" text-anchor="middle" fill="#000" >0</text>
<line x1="609.20" y1="169.50" x2="609.20" y2="174.30" stroke="#000" stroke-width="2.2" />
<text x="609.20" y="185.80" font-size="10.5" font-weight="bold" text-anchor="middle" fill="#000" >3</text>
<line x1="645.80" y1="169.50" x2="645.80" y2="174.30" stroke="#000" stroke-width="2.2" />
<text x="645.80" y="185.80" font-size="10.5" font-weight="bold" text-anchor="middle" fill="#000" >6</text>
<line x1="682.40" y1="169.50" x2="682.40" y2="174.30" stroke="#000" stroke-width="2.2" />
<text x="682.40" y="185.80" font-size="10.5" font-weight="bold" text-anchor="middle" fill="#000" >9</text>
<text x="622.10" y="202.00" font-size="11.8" font-weight="bold" text-anchor="middle" fill="#000" >Time (min)</text>
<text x="536.00" y="119.10" font-size="11.8" font-weight="bold" text-anchor="middle" fill="#000" transform="rotate(-90 536.00 119.10)">&#916;BRET (%)</text>
<line x1="574.10" y1="84.62" x2="682.40" y2="84.62" stroke="#222" stroke-width="1.3" stroke-dasharray="1.5 1.75"/>
<text x="622.10" y="54.70" font-size="12" font-weight="bold" text-anchor="middle" fill="#000" >G&#945;<tspan font-size="8.5" dy="3">13</tspan><tspan dy="-3">-CASE</tspan></text>
<text x="525.20" y="55.80" font-size="16.5" font-weight="bold" text-anchor="start" fill="#000" >c</text>
<path d="M562.23 85.57V88.41M563.79 85.22V87.87M565.35 83.49V85.95M566.91 84.47V88.02M568.47 85.50V87.58M570.03 86.72V89.18M571.59 84.84V88.04M573.15 85.45V86.94M574.72 83.58V86.25M576.28 87.90V91.14M577.84 86.14V87.62M579.40 81.44V83.79M580.96 83.12V85.53M582.52 84.06V87.20M584.08 84.31V87.26M585.64 82.98V85.51M587.20 79.50V81.93M588.76 84.25V87.49M590.32 80.99V83.41M591.88 84.93V86.22M593.44 84.79V87.31M595.00 82.47V85.47M596.56 82.27V84.09M598.12 79.99V82.77M599.69 81.04V83.29M601.25 82.10V84.42M602.81 85.19V87.52M604.37 83.04V85.59M605.93 85.36V87.45M607.49 82.90V85.40M609.05 86.81V88.92M610.61 81.55V84.46M612.17 83.49V86.27M613.73 85.09V87.33M615.29 84.39V86.91M616.85 88.20V90.80M618.41 83.87V86.57M619.97 84.14V86.61M621.53 82.43V84.03M623.10 89.12V91.34M624.66 84.84V87.81M626.22 86.36V88.44M627.78 91.48V93.74M629.34 86.41V89.08M630.90 90.79V92.68M632.46 89.78V92.32M634.02 94.51V97.08M635.58 84.06V87.22M637.14 89.34V92.11M638.70 90.59V93.28M640.26 90.95V93.83M641.82 90.07V92.71M643.38 90.02V92.93M644.94 90.10V92.02M646.51 91.27V93.86M648.07 91.57V93.75M649.63 91.31V92.79M651.19 83.78V86.19M652.75 90.18V92.94M654.31 92.90V95.24M655.87 90.76V92.84M657.43 89.28V92.11M658.99 91.52V93.75M660.55 87.31V89.29M662.11 90.29V91.56M663.67 90.33V93.70M665.23 90.35V93.51M666.79 83.62V86.18M668.35 88.82V91.34M669.91 92.18V95.22M671.48 88.81V92.12M673.04 93.85V95.99M674.60 92.69V95.62M676.16 92.18V95.15M677.72 89.34V92.05M679.28 95.69V98.12M680.84 91.95V95.11M682.40 96.48V98.34" stroke="#ff2457" stroke-width="0.6" fill="none"/>
<path d="M562.23 86.97 L563.79 86.15 L565.35 85.25 L566.91 86.25 L568.47 86.92 L570.03 88.42 L571.59 86.62 L573.15 86.13 L574.72 84.96 L576.28 89.41 L577.84 87.01 L579.40 83.16 L580.96 84.79 L582.52 85.64 L584.08 85.98 L585.64 84.66 L587.20 80.92 L588.76 85.94 L590.32 82.17 L591.88 85.57 L593.44 86.11 L595.00 84.12 L596.56 83.05 L598.12 81.53 L599.69 81.66 L601.25 83.71 L602.81 86.45 L604.37 84.60 L605.93 86.25 L607.49 84.68 L609.05 87.56 L610.61 83.23 L612.17 84.62 L613.73 86.64 L615.29 86.07 L616.85 89.18 L618.41 84.99 L619.97 84.95 L621.53 83.25 L623.10 90.32 L624.66 86.11 L626.22 87.82 L627.78 92.47 L629.34 87.61 L630.90 91.98 L632.46 90.68 L634.02 95.55 L635.58 85.86 L637.14 90.76 L638.70 91.57 L640.26 92.12 L641.82 91.05 L643.38 91.58 L644.94 91.25 L646.51 92.81 L648.07 92.98 L649.63 92.01 L651.19 85.37 L652.75 91.88 L654.31 94.21 L655.87 92.12 L657.43 90.37 L658.99 92.35 L660.55 88.31 L662.11 90.93 L663.67 92.09 L665.23 91.93 L666.79 85.38 L668.35 90.13 L669.91 93.48 L671.48 90.34 L673.04 94.60 L674.60 94.12 L676.16 93.54 L677.72 90.31 L679.28 96.79 L680.84 93.65 L682.40 97.46" fill="none" stroke="#ff2457" stroke-width="1.5" stroke-linejoin="round"/>
<path d="M560.88 86.97h2.7M562.44 86.15h2.7M564.00 85.25h2.7M565.56 86.25h2.7M567.12 86.92h2.7M568.68 88.42h2.7M570.24 86.62h2.7M571.80 86.13h2.7M573.37 84.96h2.7M574.93 89.41h2.7M576.49 87.01h2.7M578.05 83.16h2.7M579.61 84.79h2.7M581.17 85.64h2.7M582.73 85.98h2.7M584.29 84.66h2.7M585.85 80.92h2.7M587.41 85.94h2.7M588.97 82.17h2.7M590.53 85.57h2.7M592.09 86.11h2.7M593.65 84.12h2.7M595.21 83.05h2.7M596.77 81.53h2.7M598.34 81.66h2.7M599.90 83.71h2.7M601.46 86.45h2.7M603.02 84.60h2.7M604.58 86.25h2.7M606.14 84.68h2.7M607.70 87.56h2.7M609.26 83.23h2.7M610.82 84.62h2.7M612.38 86.64h2.7M613.94 86.07h2.7M615.50 89.18h2.7M617.06 84.99h2.7M618.62 84.95h2.7M620.18 83.25h2.7M621.75 90.32h2.7M623.31 86.11h2.7M624.87 87.82h2.7M626.43 92.47h2.7M627.99 87.61h2.7M629.55 91.98h2.7M631.11 90.68h2.7M632.67 95.55h2.7M634.23 85.86h2.7M635.79 90.76h2.7M637.35 91.57h2.7M638.91 92.12h2.7M640.47 91.05h2.7M642.03 91.58h2.7M643.59 91.25h2.7M645.16 92.81h2.7M646.72 92.98h2.7M648.28 92.01h2.7M649.84 85.37h2.7M651.40 91.88h2.7M652.96 94.21h2.7M654.52 92.12h2.7M656.08 90.37h2.7M657.64 92.35h2.7M659.20 88.31h2.7M660.76 90.93h2.7M662.32 92.09h2.7M663.88 91.93h2.7M665.44 85.38h2.7M667.00 90.13h2.7M668.56 93.48h2.7M670.13 90.34h2.7M671.69 94.60h2.7M673.25 94.12h2.7M674.81 93.54h2.7M676.37 90.31h2.7M677.93 96.79h2.7M679.49 93.65h2.7M681.05 97.46h2.7" stroke="#ff2457" stroke-width="2.7"/>
<path d="M562.23 83.52V86.24M563.79 83.47V86.18M565.35 82.96V84.85M566.91 86.98V89.31M568.47 80.15V82.92M570.03 84.76V87.72M571.59 85.23V87.65M573.15 83.08V86.20M574.72 81.80V84.46M576.28 81.73V84.83M577.84 80.92V84.47M579.40 82.04V84.52M580.96 81.99V84.42M582.52 79.71V82.64M584.08 78.31V81.23M585.64 76.54V78.85M587.20 78.19V81.06M588.76 71.51V74.04M590.32 74.27V77.17M591.88 71.01V73.87M593.44 75.20V76.64M595.00 77.31V79.84M596.56 76.44V78.75M598.12 76.15V78.17M599.69 74.32V76.38M601.25 78.03V79.47M602.81 77.19V79.00M604.37 80.62V82.11M605.93 78.80V81.04M607.49 79.93V82.60M609.05 79.58V82.18M610.61 84.06V85.77M612.17 83.51V85.55M613.73 77.69V80.05M615.29 79.23V80.94M616.85 77.05V79.12M618.41 77.80V80.08M619.97 84.38V87.46M621.53 88.52V91.23M623.10 83.23V86.21M624.66 81.39V83.22M626.22 86.97V89.59M627.78 81.52V85.07M629.34 82.62V85.00M630.90 85.75V88.05M632.46 80.78V82.81M634.02 84.93V87.06M635.58 83.07V86.13M637.14 87.09V89.28M638.70 95.94V97.78M640.26 81.84V84.69M641.82 84.60V88.08M643.38 88.01V90.26M644.94 86.70V89.71M646.51 78.18V80.28M648.07 83.37V86.38M649.63 85.22V87.36M651.19 86.90V89.01M652.75 89.90V92.00M654.31 87.85V91.01M655.87 84.13V86.00M657.43 83.07V85.75M658.99 81.74V84.20M660.55 86.24V87.96M662.11 88.54V91.30M663.67 85.70V88.22M665.23 86.85V89.57M666.79 85.27V87.53M668.35 83.30V85.79M669.91 86.95V89.22M671.48 85.03V87.25M673.04 85.04V87.25M674.60 87.43V90.26M676.16 83.21V84.77M677.72 86.72V89.59M679.28 87.04V89.99M680.84 85.44V87.61M682.40 82.03V84.46" stroke="#ff8a14" stroke-width="0.6" fill="none"/>
<path d="M562.23 84.49 L563.79 84.87 L565.35 83.58 L566.91 87.89 L568.47 81.32 L570.03 86.15 L571.59 86.26 L573.15 84.59 L574.72 82.83 L576.28 83.39 L577.84 82.71 L579.40 83.28 L580.96 82.80 L582.52 81.45 L584.08 79.75 L585.64 78.03 L587.20 79.74 L588.76 72.93 L590.32 75.63 L591.88 72.39 L593.44 75.84 L595.00 78.45 L596.56 77.31 L598.12 77.52 L599.69 75.50 L601.25 78.70 L602.81 78.18 L604.37 81.46 L605.93 79.97 L607.49 81.28 L609.05 80.48 L610.61 84.67 L612.17 84.45 L613.73 78.43 L615.29 80.29 L616.85 78.40 L618.41 79.06 L619.97 85.70 L621.53 90.12 L623.10 84.83 L624.66 82.44 L626.22 88.30 L627.78 83.29 L629.34 83.97 L630.90 87.44 L632.46 81.52 L634.02 86.28 L635.58 84.44 L637.14 88.15 L638.70 96.82 L640.26 83.63 L641.82 86.37 L643.38 89.34 L644.94 88.50 L646.51 79.29 L648.07 85.17 L649.63 86.18 L651.19 87.65 L652.75 91.04 L654.31 89.40 L655.87 84.75 L657.43 84.01 L658.99 83.30 L660.55 87.17 L662.11 90.34 L663.67 87.04 L665.23 88.24 L666.79 86.78 L668.35 84.82 L669.91 88.20 L671.48 86.00 L673.04 86.21 L674.60 88.94 L676.16 83.86 L677.72 87.87 L679.28 88.72 L680.84 86.06 L682.40 83.16" fill="none" stroke="#ff8a14" stroke-width="1.5" stroke-linejoin="round"/>
<path d="M560.88 84.49h2.7M562.44 84.87h2.7M564.00 83.58h2.7M565.56 87.89h2.7M567.12 81.32h2.7M568.68 86.15h2.7M570.24 86.26h2.7M571.80 84.59h2.7M573.37 82.83h2.7M574.93 83.39h2.7M576.49 82.71h2.7M578.05 83.28h2.7M579.61 82.80h2.7M581.17 81.45h2.7M582.73 79.75h2.7M584.29 78.03h2.7M585.85 79.74h2.7M587.41 72.93h2.7M588.97 75.63h2.7M590.53 72.39h2.7M592.09 75.84h2.7M593.65 78.45h2.7M595.21 77.31h2.7M596.77 77.52h2.7M598.34 75.50h2.7M599.90 78.70h2.7M601.46 78.18h2.7M603.02 81.46h2.7M604.58 79.97h2.7M606.14 81.28h2.7M607.70 80.48h2.7M609.26 84.67h2.7M610.82 84.45h2.7M612.38 78.43h2.7M613.94 80.29h2.7M615.50 78.40h2.7M617.06 79.06h2.7M618.62 85.70h2.7M620.18 90.12h2.7M621.75 84.83h2.7M623.31 82.44h2.7M624.87 88.30h2.7M626.43 83.29h2.7M627.99 83.97h2.7M629.55 87.44h2.7M631.11 81.52h2.7M632.67 86.28h2.7M634.23 84.44h2.7M635.79 88.15h2.7M637.35 96.82h2.7M638.91 83.63h2.7M640.47 86.37h2.7M642.03 89.34h2.7M643.59 88.50h2.7M645.16 79.29h2.7M646.72 85.17h2.7M648.28 86.18h2.7M649.84 87.65h2.7M651.40 91.04h2.7M652.96 89.40h2.7M654.52 84.75h2.7M656.08 84.01h2.7M657.64 83.30h2.7M659.20 87.17h2.7M660.76 90.34h2.7M662.32 87.04h2.7M663.88 88.24h2.7M665.44 86.78h2.7M667.00 84.82h2.7M668.56 88.20h2.7M670.13 86.00h2.7M671.69 86.21h2.7M673.25 88.94h2.7M674.81 83.86h2.7M676.37 87.87h2.7M677.93 88.72h2.7M679.49 86.06h2.7M681.05 83.16h2.7" stroke="#ff8a14" stroke-width="2.7"/>
<path d="M562.23 81.92V84.75M563.79 86.60V88.98M565.35 81.29V83.36M566.91 82.97V86.39M568.47 85.21V88.06M570.03 81.52V84.54M571.59 84.68V87.21M573.15 85.21V88.06M574.72 82.37V85.07M576.28 81.22V83.63M577.84 82.15V84.41M579.40 83.84V86.58M580.96 78.41V80.86M582.52 78.87V81.46M584.08 78.99V81.89M585.64 78.79V81.16M587.20 77.65V79.96M588.76 79.20V81.83M590.32 81.15V82.62M591.88 75.08V76.80M593.44 79.16V82.50M595.00 79.85V83.06M596.56 77.12V78.84M598.12 78.11V80.35M599.69 79.40V81.83M601.25 79.38V81.29M602.81 77.80V79.73M604.37 78.19V80.07M605.93 80.79V82.53M607.49 79.93V82.02M609.05 79.98V81.94M610.61 80.82V82.99M612.17 81.64V84.46M613.73 77.80V79.60M615.29 82.39V84.59M616.85 79.62V82.48M618.41 80.12V81.96M619.97 81.26V83.47M621.53 80.80V83.71M623.10 81.85V84.53M624.66 83.02V85.88M626.22 84.14V86.78M627.78 80.41V83.61M629.34 83.38V85.55M630.90 81.57V83.32M632.46 80.81V82.99M634.02 83.99V86.20M635.58 80.85V82.63M637.14 79.95V81.86M638.70 79.28V81.72M640.26 85.06V88.08M641.82 80.73V82.87M643.38 79.90V83.03M644.94 84.09V86.31M646.51 83.63V85.13M648.07 81.62V84.09M649.63 81.41V84.65M651.19 83.72V86.64M652.75 80.97V83.32M654.31 83.54V85.54M655.87 83.94V87.14M657.43 81.37V83.80M658.99 82.98V85.22M660.55 82.55V85.62M662.11 77.65V80.92M663.67 82.83V85.81M665.23 86.88V88.92M666.79 79.04V80.74M668.35 83.17V85.68M669.91 81.07V83.43M671.48 83.42V86.31M673.04 87.48V89.76M674.60 84.22V85.61M676.16 84.91V86.20M677.72 85.92V88.25M679.28 86.77V89.03M680.84 84.59V86.47M682.40 85.20V87.82" stroke="#4cb4ec" stroke-width="0.6" fill="none"/>
<path d="M562.23 83.29 L563.79 87.36 L565.35 82.00 L566.91 84.68 L568.47 86.90 L570.03 82.97 L571.59 85.46 L573.15 86.92 L574.72 83.92 L576.28 82.16 L577.84 82.84 L579.40 85.63 L580.96 80.15 L582.52 80.52 L584.08 80.77 L585.64 80.51 L587.20 78.36 L588.76 80.58 L590.32 81.80 L591.88 76.13 L593.44 80.97 L595.00 81.61 L596.56 78.14 L598.12 79.60 L599.69 80.67 L601.25 80.59 L602.81 78.49 L604.37 78.83 L605.93 81.58 L607.49 80.72 L609.05 81.06 L610.61 81.70 L612.17 83.35 L613.73 78.61 L615.29 83.29 L616.85 81.18 L618.41 80.96 L619.97 82.32 L621.53 81.89 L623.10 83.12 L624.66 84.49 L626.22 85.72 L627.78 81.82 L629.34 84.19 L630.90 82.64 L632.46 81.46 L634.02 84.74 L635.58 81.58 L637.14 80.59 L638.70 80.84 L640.26 86.35 L641.82 81.69 L643.38 81.38 L644.94 84.90 L646.51 84.39 L648.07 83.42 L649.63 83.13 L651.19 85.15 L652.75 82.37 L654.31 84.69 L655.87 85.59 L657.43 82.93 L658.99 84.31 L660.55 84.11 L662.11 79.46 L663.67 84.27 L665.23 87.60 L666.79 79.69 L668.35 83.92 L669.91 81.71 L671.48 85.17 L673.04 89.09 L674.60 84.99 L676.16 85.60 L677.72 87.53 L679.28 88.10 L680.84 85.36 L682.40 86.03" fill="none" stroke="#4cb4ec" stroke-width="1.5" stroke-linejoin="round"/>
<path d="M560.88 83.29h2.7M562.44 87.36h2.7M564.00 82.00h2.7M565.56 84.68h2.7M567.12 86.90h2.7M568.68 82.97h2.7M570.24 85.46h2.7M571.80 86.92h2.7M573.37 83.92h2.7M574.93 82.16h2.7M576.49 82.84h2.7M578.05 85.63h2.7M579.61 80.15h2.7M581.17 80.52h2.7M582.73 80.77h2.7M584.29 80.51h2.7M585.85 78.36h2.7M587.41 80.58h2.7M588.97 81.80h2.7M590.53 76.13h2.7M592.09 80.97h2.7M593.65 81.61h2.7M595.21 78.14h2.7M596.77 79.60h2.7M598.34 80.67h2.7M599.90 80.59h2.7M601.46 78.49h2.7M603.02 78.83h2.7M604.58 81.58h2.7M606.14 80.72h2.7M607.70 81.06h2.7M609.26 81.70h2.7M610.82 83.35h2.7M612.38 78.61h2.7M613.94 83.29h2.7M615.50 81.18h2.7M617.06 80.96h2.7M618.62 82.32h2.7M620.18 81.89h2.7M621.75 83.12h2.7M623.31 84.49h2.7M624.87 85.72h2.7M626.43 81.82h2.7M627.99 84.19h2.7M629.55 82.64h2.7M631.11 81.46h2.7M632.67 84.74h2.7M634.23 81.58h2.7M635.79 80.59h2.7M637.35 80.84h2.7M638.91 86.35h2.7M640.47 81.69h2.7M642.03 81.38h2.7M643.59 84.90h2.7M645.16 84.39h2.7M646.72 83.42h2.7M648.28 83.13h2.7M649.84 85.15h2.7M651.40 82.37h2.7M652.96 84.69h2.7M654.52 85.59h2.7M656.08 82.93h2.7M657.64 84.31h2.7M659.20 84.11h2.7M660.76 79.46h2.7M662.32 84.27h2.7M663.88 87.60h2.7M665.44 79.69h2.7M667.00 83.92h2.7M668.56 81.71h2.7M670.13 85.17h2.7M671.69 89.09h2.7M673.25 84.99h2.7M674.81 85.60h2.7M676.37 87.53h2.7M677.93 88.10h2.7M679.49 85.36h2.7M681.05 86.03h2.7" stroke="#4cb4ec" stroke-width="2.7"/>
<path d="M30.80 245.10 H36.00 V342.10 H156.60" fill="none" stroke="#000" stroke-width="2.2"/>
<line x1="30.80" y1="257.23" x2="36.00" y2="257.23" stroke="#000" stroke-width="2.2" />
<line x1="30.80" y1="269.35" x2="36.00" y2="269.35" stroke="#000" stroke-width="2.2" />
<line x1="30.80" y1="293.60" x2="36.00" y2="293.60" stroke="#000" stroke-width="2.2" />
<line x1="30.80" y1="317.85" x2="36.00" y2="317.85" stroke="#000" stroke-width="2.2" />
<line x1="30.80" y1="342.10" x2="36.00" y2="342.10" stroke="#000" stroke-width="2.2" />
<text x="30.10" y="249.70" font-size="10" font-weight="bold" text-anchor="end" fill="#000" >5</text>
<text x="30.10" y="273.95" font-size="10" font-weight="bold" text-anchor="end" fill="#000" >-5</text>
<text x="30.10" y="298.20" font-size="10" font-weight="bold" text-anchor="end" fill="#000" >-15</text>
<text x="30.10" y="322.45" font-size="10" font-weight="bold" text-anchor="end" fill="#000" >-25</text>
<text x="30.10" y="346.70" font-size="10" font-weight="bold" text-anchor="end" fill="#000" >-35</text>
<line x1="46.80" y1="342.10" x2="46.80" y2="346.90" stroke="#000" stroke-width="2.2" />
<text x="46.80" y="358.40" font-size="10.5" font-weight="bold" text-anchor="middle" fill="#000" >0</text>
<line x1="83.40" y1="342.10" x2="83.40" y2="346.90" stroke="#000" stroke-width="2.2" />
<text x="83.40" y="358.40" font-size="10.5" font-weight="bold" text-anchor="middle" fill="#000" >3</text>
<line x1="120.00" y1="342.10" x2="120.00" y2="346.90" stroke="#000" stroke-width="2.2" />
<text x="120.00" y="358.40" font-size="10.5" font-weight="bold" text-anchor="middle" fill="#000" >6</text>
<line x1="156.60" y1="342.10" x2="156.60" y2="346.90" stroke="#000" stroke-width="2.2" />
<text x="156.60" y="358.40" font-size="10.5" font-weight="bold" text-anchor="middle" fill="#000" >9</text>
<text x="96.30" y="374.60" font-size="11.8" font-weight="bold" text-anchor="middle" fill="#000" >Time (min)</text>
<text x="10.20" y="291.70" font-size="11.8" font-weight="bold" text-anchor="middle" fill="#000" transform="rotate(-90 10.20 291.70)">&#916;BRET (%)</text>
<line x1="48.30" y1="257.23" x2="156.60" y2="257.23" stroke="#222" stroke-width="1.3" stroke-dasharray="1.5 1.75"/>
<text x="96.30" y="227.30" font-size="12" font-weight="bold" text-anchor="middle" fill="#000" >G&#945;<tspan font-size="8.5" dy="3">q</tspan><tspan dy="-3">-CASE</tspan></text>
<text x="-0.80" y="226.80" font-size="16.5" font-weight="bold" text-anchor="start" fill="#000" >d</text>
<path d="M36.43 256.79V258.69M37.99 255.09V258.13M39.55 258.00V261.10M41.11 256.63V258.61M42.67 253.83V256.18M44.23 255.13V257.93M45.79 258.05V259.93M47.35 256.99V260.38M48.92 264.08V267.30M50.48 264.50V267.60M52.04 262.80V264.91M53.60 263.17V264.85M55.16 262.85V264.43M56.72 262.20V264.57M58.28 260.89V263.81M59.84 259.92V263.46M61.40 262.25V265.07M62.96 262.40V264.15M64.52 262.82V264.52M66.08 263.43V266.49M67.64 263.71V266.52M69.20 263.28V266.25M70.76 264.97V267.09M72.32 262.48V265.75M73.89 264.53V267.23M75.45 267.01V269.40M77.01 266.78V269.37M78.57 262.92V265.79M80.13 262.76V265.61M81.69 263.78V266.08M83.25 264.13V265.68M84.81 264.94V268.22M86.37 266.46V268.85M87.93 264.99V268.18M89.49 268.67V270.97M91.05 265.24V266.63M92.61 267.20V270.37M94.17 268.68V271.67M95.73 268.27V271.06M97.30 264.11V266.58M98.86 265.83V267.70M100.42 266.16V268.38M101.98 266.34V268.37M103.54 266.76V269.24M105.10 266.26V268.46M106.66 266.86V269.88M108.22 266.90V269.74M109.78 270.47V272.93M111.34 269.90V271.77M112.90 266.23V268.19M114.46 268.59V270.78M116.02 268.08V270.07M117.58 269.99V272.75M119.14 269.56V271.80M120.71 269.96V272.79M122.27 268.04V270.06M123.83 270.93V272.78M125.39 268.75V271.52M126.95 266.78V269.59M128.51 269.57V272.42M130.07 270.42V272.99M131.63 267.78V270.45M133.19 268.40V270.80M134.75 268.92V271.85M136.31 269.54V272.66M137.87 268.73V271.40M139.43 268.01V271.04M140.99 269.03V271.43M142.55 271.50V273.40M144.11 271.77V273.36M145.68 272.13V274.24M147.24 270.74V273.99M148.80 275.15V277.41M150.36 271.68V273.87M151.92 273.01V276.46M153.48 272.80V275.43M155.04 270.65V272.93M156.60 273.13V276.55" stroke="#ff2457" stroke-width="0.6" fill="none"/>
<path d="M36.43 258.05 L37.99 256.34 L39.55 259.65 L41.11 257.56 L42.67 254.64 L44.23 256.38 L45.79 259.06 L47.35 258.58 L48.92 265.72 L50.48 266.10 L52.04 263.68 L53.60 264.21 L55.16 263.49 L56.72 263.12 L58.28 262.66 L59.84 261.66 L61.40 264.02 L62.96 263.27 L64.52 263.66 L66.08 264.79 L67.64 265.34 L69.20 264.68 L70.76 265.68 L72.32 264.19 L73.89 266.04 L75.45 267.83 L77.01 267.79 L78.57 264.70 L80.13 263.86 L81.69 265.26 L83.25 264.89 L84.81 266.64 L86.37 267.24 L87.93 266.78 L89.49 269.70 L91.05 266.00 L92.61 268.98 L94.17 269.93 L95.73 269.40 L97.30 265.72 L98.86 266.74 L100.42 267.06 L101.98 267.26 L103.54 267.53 L105.10 267.30 L106.66 268.17 L108.22 268.02 L109.78 271.68 L111.34 271.14 L112.90 267.37 L114.46 269.20 L116.02 268.89 L117.58 271.47 L119.14 270.56 L120.71 271.24 L122.27 268.77 L123.83 271.84 L125.39 270.29 L126.95 268.07 L128.51 271.28 L130.07 271.77 L131.63 269.00 L133.19 269.55 L134.75 270.10 L136.31 270.99 L137.87 270.48 L139.43 269.29 L140.99 270.65 L142.55 272.26 L144.11 272.46 L145.68 272.82 L147.24 272.29 L148.80 275.94 L150.36 273.09 L151.92 274.68 L153.48 273.67 L155.04 271.74 L156.60 274.94" fill="none" stroke="#ff2457" stroke-width="1.5" stroke-linejoin="round"/>
<path d="M35.08 258.05h2.7M36.64 256.34h2.7M38.20 259.65h2.7M39.76 257.56h2.7M41.32 254.64h2.7M42.88 256.38h2.7M44.44 259.06h2.7M46.00 258.58h2.7M47.57 265.72h2.7M49.13 266.10h2.7M50.69 263.68h2.7M52.25 264.21h2.7M53.81 263.49h2.7M55.37 263.12h2.7M56.93 262.66h2.7M58.49 261.66h2.7M60.05 264.02h2.7M61.61 263.27h2.7M63.17 263.66h2.7M64.73 264.79h2.7M66.29 265.34h2.7M67.85 264.68h2.7M69.41 265.68h2.7M70.97 264.19h2.7M72.54 266.04h2.7M74.10 267.83h2.7M75.66 267.79h2.7M77.22 264.70h2.7M78.78 263.86h2.7M80.34 265.26h2.7M81.90 264.89h2.7M83.46 266.64h2.7M85.02 267.24h2.7M86.58 266.78h2.7M88.14 269.70h2.7M89.70 266.00h2.7M91.26 268.98h2.7M92.82 269.93h2.7M94.38 269.40h2.7M95.95 265.72h2.7M97.51 266.74h2.7M99.07 267.06h2.7M100.63 267.26h2.7M102.19 267.53h2.7M103.75 267.30h2.7M105.31 268.17h2.7M106.87 268.02h2.7M108.43 271.68h2.7M109.99 271.14h2.7M111.55 267.37h2.7M113.11 269.20h2.7M114.67 268.89h2.7M116.23 271.47h2.7M117.79 270.56h2.7M119.36 271.24h2.7M120.92 268.77h2.7M122.48 271.84h2.7M124.04 270.29h2.7M125.60 268.07h2.7M127.16 271.28h2.7M128.72 271.77h2.7M130.28 269.00h2.7M131.84 269.55h2.7M133.40 270.10h2.7M134.96 270.99h2.7M136.52 270.48h2.7M138.08 269.29h2.7M139.64 270.65h2.7M141.20 272.26h2.7M142.76 272.46h2.7M144.33 272.82h2.7M145.89 272.29h2.7M147.45 275.94h2.7M149.01 273.09h2.7M150.57 274.68h2.7M152.13 273.67h2.7M153.69 271.74h2.7M155.25 274.94h2.7" stroke="#ff2457" stroke-width="2.7"/>
<path d="M36.43 253.56V256.78M37.99 250.66V254.19M39.55 254.03V255.87M41.11 253.99V257.05M42.67 255.65V258.45M44.23 255.28V258.15M45.79 252.80V255.93M47.35 259.69V262.21M48.92 271.20V273.68M50.48 274.24V277.07M52.04 275.82V278.44M53.60 276.65V278.96M55.16 275.22V278.28M56.72 276.59V279.82M58.28 279.03V281.97M59.84 276.73V278.90M61.40 276.38V278.83M62.96 278.74V281.29M64.52 275.88V278.06M66.08 277.18V279.23M67.64 278.38V280.74M69.20 276.95V278.84M70.76 276.61V279.40M72.32 273.34V275.97M73.89 273.71V275.86M75.45 273.60V276.94M77.01 274.23V276.65M78.57 276.40V279.32M80.13 277.95V280.61M81.69 275.53V278.65M83.25 277.86V280.33M84.81 275.36V278.72M86.37 273.81V277.09M87.93 275.82V277.94M89.49 277.00V279.15M91.05 273.63V276.46M92.61 275.44V278.87M94.17 275.23V277.29M95.73 274.05V277.11M97.30 271.55V273.19M98.86 274.68V278.05M100.42 276.39V278.84M101.98 274.87V278.07M103.54 273.85V276.67M105.10 277.45V279.41M106.66 276.83V278.87M108.22 274.40V276.38M109.78 274.54V277.05M111.34 278.44V280.16M112.90 276.31V278.52M114.46 275.11V277.39M116.02 276.57V278.41M117.58 276.87V279.21M119.14 279.26V280.67M120.71 276.11V278.89M122.27 277.71V280.60M123.83 274.74V277.42M125.39 276.97V279.66M126.95 275.19V278.22M128.51 270.54V274.09M130.07 278.57V280.34M131.63 278.01V279.92M133.19 275.39V277.60M134.75 275.33V278.32M136.31 278.91V281.37M137.87 275.77V278.82M139.43 277.65V281.07M140.99 276.17V279.41M142.55 277.84V280.09M144.11 276.64V279.51M145.68 277.76V280.17M147.24 277.56V279.50M148.80 274.07V276.90M150.36 274.92V277.96M151.92 277.19V279.89M153.48 278.71V280.83M155.04 277.36V280.50M156.60 279.34V281.49" stroke="#ff8a14" stroke-width="0.6" fill="none"/>
<path d="M36.43 255.27 L37.99 252.39 L39.55 254.90 L41.11 255.26 L42.67 256.70 L44.23 256.92 L45.79 254.16 L47.35 261.25 L48.92 272.83 L50.48 275.30 L52.04 277.45 L53.60 277.61 L55.16 276.84 L56.72 278.34 L58.28 280.63 L59.84 277.77 L61.40 277.58 L62.96 280.36 L64.52 276.56 L66.08 278.12 L67.64 279.13 L69.20 277.88 L70.76 278.19 L72.32 274.28 L73.89 274.82 L75.45 275.38 L77.01 275.74 L78.57 277.99 L80.13 279.56 L81.69 277.09 L83.25 278.93 L84.81 276.91 L86.37 275.53 L87.93 276.60 L89.49 278.44 L91.05 274.80 L92.61 277.14 L94.17 275.95 L95.73 275.71 L97.30 272.54 L98.86 276.40 L100.42 277.79 L101.98 276.48 L103.54 275.34 L105.10 278.44 L106.66 277.87 L108.22 275.63 L109.78 276.02 L111.34 279.24 L112.90 277.39 L114.46 276.67 L116.02 277.44 L117.58 277.69 L119.14 280.00 L120.71 277.39 L122.27 279.31 L123.83 275.74 L125.39 278.47 L126.95 276.47 L128.51 272.35 L130.07 279.34 L131.63 279.11 L133.19 276.92 L134.75 277.01 L136.31 280.26 L137.87 277.52 L139.43 279.34 L140.99 277.61 L142.55 279.04 L144.11 278.27 L145.68 278.74 L147.24 278.74 L148.80 275.69 L150.36 276.71 L151.92 278.93 L153.48 279.58 L155.04 278.90 L156.60 280.73" fill="none" stroke="#ff8a14" stroke-width="1.5" stroke-linejoin="round"/>
<path d="M35.08 255.27h2.7M36.64 252.39h2.7M38.20 254.90h2.7M39.76 255.26h2.7M41.32 256.70h2.7M42.88 256.92h2.7M44.44 254.16h2.7M46.00 261.25h2.7M47.57 272.83h2.7M49.13 275.30h2.7M50.69 277.45h2.7M52.25 277.61h2.7M53.81 276.84h2.7M55.37 278.34h2.7M56.93 280.63h2.7M58.49 277.77h2.7M60.05 277.58h2.7M61.61 280.36h2.7M63.17 276.56h2.7M64.73 278.12h2.7M66.29 279.13h2.7M67.85 277.88h2.7M69.41 278.19h2.7M70.97 274.28h2.7M72.54 274.82h2.7M74.10 275.38h2.7M75.66 275.74h2.7M77.22 277.99h2.7M78.78 279.56h2.7M80.34 277.09h2.7M81.90 278.93h2.7M83.46 276.91h2.7M85.02 275.53h2.7M86.58 276.60h2.7M88.14 278.44h2.7M89.70 274.80h2.7M91.26 277.14h2.7M92.82 275.95h2.7M94.38 275.71h2.7M95.95 272.54h2.7M97.51 276.40h2.7M99.07 277.79h2.7M100.63 276.48h2.7M102.19 275.34h2.7M103.75 278.44h2.7M105.31 277.87h2.7M106.87 275.63h2.7M108.43 276.02h2.7M109.99 279.24h2.7M111.55 277.39h2.7M113.11 276.67h2.7M114.67 277.44h2.7M116.23 277.69h2.7M117.79 280.00h2.7M119.36 277.39h2.7M120.92 279.31h2.7M122.48 275.74h2.7M124.04 278.47h2.7M125.60 276.47h2.7M127.16 272.35h2.7M128.72 279.34h2.7M130.28 279.11h2.7M131.84 276.92h2.7M133.40 277.01h2.7M134.96 280.26h2.7M136.52 277.52h2.7M138.08 279.34h2.7M139.64 277.61h2.7M141.20 279.04h2.7M142.76 278.27h2.7M144.33 278.74h2.7M145.89 278.74h2.7M147.45 275.69h2.7M149.01 276.71h2.7M150.57 278.93h2.7M152.13 279.58h2.7M153.69 278.90h2.7M155.25 280.73h2.7" stroke="#ff8a14" stroke-width="2.7"/>
<path d="M36.43 257.37V258.81M37.99 255.28V257.73M39.55 254.09V255.98M41.11 255.43V258.38M42.67 258.62V261.62M44.23 256.72V259.17M45.79 255.48V258.43M47.35 262.52V265.02M48.92 268.06V270.46M50.48 269.03V271.68M52.04 273.27V275.73M53.60 272.75V274.96M55.16 270.64V273.26M56.72 271.13V273.71M58.28 272.82V274.83M59.84 272.19V274.92M61.40 274.10V276.59M62.96 271.63V274.49M64.52 274.51V276.82M66.08 275.92V278.60M67.64 274.25V276.78M69.20 276.13V277.66M70.76 276.53V278.70M72.32 276.97V278.69M73.89 275.87V278.30M75.45 276.21V278.40M77.01 275.32V277.89M78.57 276.09V278.47M80.13 276.50V279.61M81.69 273.55V276.97M83.25 276.38V278.14M84.81 276.00V278.44M86.37 274.18V275.89M87.93 275.44V276.93M89.49 275.62V279.15M91.05 271.63V274.19M92.61 276.85V279.26M94.17 279.33V281.76M95.73 275.22V277.03M97.30 275.64V277.72M98.86 275.87V278.76M100.42 276.90V278.26M101.98 276.53V278.78M103.54 276.55V279.10M105.10 275.49V277.70M106.66 275.91V277.53M108.22 276.29V278.84M109.78 274.38V277.72M111.34 272.09V275.53M112.90 274.12V277.51M114.46 272.84V275.34M116.02 275.68V277.57M117.58 276.08V278.62M119.14 277.23V279.88M120.71 275.87V277.82M122.27 273.06V275.16M123.83 275.29V277.93M125.39 277.34V279.31M126.95 275.41V277.51M128.51 277.63V279.70M130.07 275.28V277.58M131.63 273.40V275.58M133.19 275.87V278.25M134.75 276.56V279.05M136.31 278.91V282.12M137.87 278.57V280.93M139.43 277.81V280.09M140.99 277.55V279.46M142.55 276.94V279.77M144.11 277.46V280.07M145.68 276.69V278.64M147.24 277.90V280.33M148.80 277.36V279.30M150.36 279.78V282.12M151.92 277.20V278.64M153.48 277.19V278.72M155.04 277.06V280.48M156.60 277.34V279.82" stroke="#4cb4ec" stroke-width="0.6" fill="none"/>
<path d="M36.43 257.99 L37.99 256.44 L39.55 255.16 L41.11 256.63 L42.67 259.87 L44.23 257.36 L45.79 257.16 L47.35 263.76 L48.92 269.77 L50.48 270.42 L52.04 274.24 L53.60 274.23 L55.16 272.10 L56.72 272.33 L58.28 273.49 L59.84 273.25 L61.40 274.99 L62.96 273.12 L64.52 276.17 L66.08 277.25 L67.64 275.68 L69.20 276.82 L70.76 277.87 L72.32 277.65 L73.89 277.05 L75.45 276.85 L77.01 276.33 L78.57 276.71 L80.13 277.82 L81.69 275.35 L83.25 277.11 L84.81 276.89 L86.37 275.02 L87.93 276.18 L89.49 277.36 L91.05 272.69 L92.61 278.02 L94.17 280.39 L95.73 276.11 L97.30 276.88 L98.86 277.01 L100.42 277.53 L101.98 278.11 L103.54 277.46 L105.10 276.83 L106.66 276.59 L108.22 277.26 L109.78 276.17 L111.34 273.79 L112.90 275.79 L114.46 274.62 L116.02 276.67 L117.58 277.41 L119.14 278.26 L120.71 276.96 L122.27 274.00 L123.83 276.64 L125.39 278.48 L126.95 276.51 L128.51 278.44 L130.07 276.11 L131.63 274.81 L133.19 277.23 L134.75 277.71 L136.31 280.44 L137.87 280.07 L139.43 279.07 L140.99 278.18 L142.55 278.11 L144.11 278.45 L145.68 277.92 L147.24 279.38 L148.80 278.61 L150.36 280.40 L151.92 277.86 L153.48 277.99 L155.04 278.67 L156.60 278.73" fill="none" stroke="#4cb4ec" stroke-width="1.5" stroke-linejoin="round"/>
<path d="M35.08 257.99h2.7M36.64 256.44h2.7M38.20 255.16h2.7M39.76 256.63h2.7M41.32 259.87h2.7M42.88 257.36h2.7M44.44 257.16h2.7M46.00 263.76h2.7M47.57 269.77h2.7M49.13 270.42h2.7M50.69 274.24h2.7M52.25 274.23h2.7M53.81 272.10h2.7M55.37 272.33h2.7M56.93 273.49h2.7M58.49 273.25h2.7M60.05 274.99h2.7M61.61 273.12h2.7M63.17 276.17h2.7M64.73 277.25h2.7M66.29 275.68h2.7M67.85 276.82h2.7M69.41 277.87h2.7M70.97 277.65h2.7M72.54 277.05h2.7M74.10 276.85h2.7M75.66 276.33h2.7M77.22 276.71h2.7M78.78 277.82h2.7M80.34 275.35h2.7M81.90 277.11h2.7M83.46 276.89h2.7M85.02 275.02h2.7M86.58 276.18h2.7M88.14 277.36h2.7M89.70 272.69h2.7M91.26 278.02h2.7M92.82 280.39h2.7M94.38 276.11h2.7M95.95 276.88h2.7M97.51 277.01h2.7M99.07 277.53h2.7M100.63 278.11h2.7M102.19 277.46h2.7M103.75 276.83h2.7M105.31 276.59h2.7M106.87 277.26h2.7M108.43 276.17h2.7M109.99 273.79h2.7M111.55 275.79h2.7M113.11 274.62h2.7M114.67 276.67h2.7M116.23 277.41h2.7M117.79 278.26h2.7M119.36 276.96h2.7M120.92 274.00h2.7M122.48 276.64h2.7M124.04 278.48h2.7M125.60 276.51h2.7M127.16 278.44h2.7M128.72 276.11h2.7M130.28 274.81h2.7M131.84 277.23h2.7M133.40 277.71h2.7M134.96 280.44h2.7M136.52 280.07h2.7M138.08 279.07h2.7M139.64 278.18h2.7M141.20 278.11h2.7M142.76 278.45h2.7M144.33 277.92h2.7M145.89 279.38h2.7M147.45 278.61h2.7M149.01 280.40h2.7M150.57 277.86h2.7M152.13 277.99h2.7M153.69 278.67h2.7M155.25 278.73h2.7" stroke="#4cb4ec" stroke-width="2.7"/>
<path d="M206.50 243.50 H211.70 V340.50 H332.30" fill="none" stroke="#000" stroke-width="2.2"/>
<line x1="206.50" y1="255.62" x2="211.70" y2="255.62" stroke="#000" stroke-width="2.2" />
<line x1="206.50" y1="267.75" x2="211.70" y2="267.75" stroke="#000" stroke-width="2.2" />
<line x1="206.50" y1="292.00" x2="211.70" y2="292.00" stroke="#000" stroke-width="2.2" />
<line x1="206.50" y1="316.25" x2="211.70" y2="316.25" stroke="#000" stroke-width="2.2" />
<line x1="206.50" y1="340.50" x2="211.70" y2="340.50" stroke="#000" stroke-width="2.2" />
<text x="205.80" y="248.10" font-size="10" font-weight="bold" text-anchor="end" fill="#000" >5</text>
<text x="205.80" y="272.35" font-size="10" font-weight="bold" text-anchor="end" fill="#000" >-5</text>
<text x="205.80" y="296.60" font-size="10" font-weight="bold" text-anchor="end" fill="#000" >-15</text>
<text x="205.80" y="320.85" font-size="10" font-weight="bold" text-anchor="end" fill="#000" >-25</text>
<text x="205.80" y="345.10" font-size="10" font-weight="bold" text-anchor="end" fill="#000" >-35</text>
<line x1="222.50" y1="340.50" x2="222.50" y2="345.30" stroke="#000" stroke-width="2.2" />
<text x="222.50" y="356.80" font-size="10.5" font-weight="bold" text-anchor="middle" fill="#000" >0</text>
<line x1="259.10" y1="340.50" x2="259.10" y2="345.30" stroke="#000" stroke-width="2.2" />
<text x="259.10" y="356.80" font-size="10.5" font-weight="bold" text-anchor="middle" fill="#000" >3</text>
<line x1="295.70" y1="340.50" x2="295.70" y2="345.30" stroke="#000" stroke-width="2.2" />
<text x="295.70" y="356.80" font-size="10.5" font-weight="bold" text-anchor="middle" fill="#000" >6</text>
<line x1="332.30" y1="340.50" x2="332.30" y2="345.30" stroke="#000" stroke-width="2.2" />
<text x="332.30" y="356.80" font-size="10.5" font-weight="bold" text-anchor="middle" fill="#000" >9</text>
<text x="272.00" y="373.00" font-size="11.8" font-weight="bold" text-anchor="middle" fill="#000" >Time (min)</text>
<text x="185.90" y="290.10" font-size="11.8" font-weight="bold" text-anchor="middle" fill="#000" transform="rotate(-90 185.90 290.10)">&#916;BRET (%)</text>
<line x1="224.00" y1="255.62" x2="332.30" y2="255.62" stroke="#222" stroke-width="1.3" stroke-dasharray="1.5 1.75"/>
<text x="272.00" y="225.70" font-size="12" font-weight="bold" text-anchor="middle" fill="#000" >G&#945;<tspan font-size="8.5" dy="3">i1</tspan><tspan dy="-3">-CASE</tspan></text>
<text x="174.20" y="226.80" font-size="16.5" font-weight="bold" text-anchor="start" fill="#000" >e</text>
<path d="M212.13 254.82V257.35M213.69 253.50V255.71M215.25 251.82V254.24M216.81 253.87V256.10M218.37 253.60V256.62M219.93 253.07V256.13M221.49 254.20V256.02M223.05 255.14V256.53M224.62 256.21V258.28M226.18 255.60V258.50M227.74 259.65V262.05M229.30 262.96V265.40M230.86 262.26V264.33M232.42 268.22V270.73M233.98 268.75V271.09M235.54 270.76V273.13M237.10 273.12V276.04M238.66 270.75V273.42M240.22 273.92V277.26M241.78 273.54V276.83M243.34 274.39V276.71M244.90 272.72V274.97M246.46 276.52V278.52M248.02 274.45V277.31M249.59 275.35V277.14M251.15 277.05V278.58M252.71 276.91V280.22M254.27 278.28V280.66M255.83 276.32V278.92M257.39 276.56V279.00M258.95 278.98V282.43M260.51 279.18V280.66M262.07 278.48V281.42M263.63 278.74V281.57M265.19 280.27V283.57M266.75 281.35V283.02M268.31 280.61V282.72M269.87 278.73V281.67M271.43 280.87V283.29M273.00 279.71V281.32M274.56 281.21V284.20M276.12 280.58V283.04M277.68 280.31V283.26M279.24 279.99V282.11M280.80 281.61V283.94M282.36 282.30V284.74M283.92 282.52V285.33M285.48 281.04V284.32M287.04 283.15V285.57M288.60 281.79V284.41M290.16 282.73V285.17M291.72 282.69V284.66M293.28 282.19V284.72M294.84 282.95V285.15M296.41 281.44V284.53M297.97 282.49V285.10M299.53 284.12V285.85M301.09 283.34V284.99M302.65 282.61V285.03M304.21 284.26V286.46M305.77 282.50V284.37M307.33 281.58V284.00M308.89 283.63V286.09M310.45 284.26V286.13M312.01 282.45V284.35M313.57 285.43V288.12M315.13 283.70V286.92M316.69 285.95V288.44M318.25 283.01V285.44M319.81 286.26V289.17M321.38 283.98V285.79M322.94 283.60V286.12M324.50 283.51V285.73M326.06 283.03V284.97M327.62 283.50V286.58M329.18 283.59V286.32M330.74 285.54V288.25M332.30 283.55V285.42" stroke="#ff2457" stroke-width="0.6" fill="none"/>
<path d="M212.13 255.94 L213.69 254.78 L215.25 252.87 L216.81 255.24 L218.37 254.95 L219.93 254.73 L221.49 254.90 L223.05 255.85 L224.62 257.12 L226.18 257.13 L227.74 260.60 L229.30 264.18 L230.86 263.19 L232.42 269.24 L233.98 269.94 L235.54 271.94 L237.10 274.56 L238.66 272.33 L240.22 275.49 L241.78 275.35 L243.34 275.08 L244.90 274.35 L246.46 277.52 L248.02 275.96 L249.59 276.30 L251.15 277.86 L252.71 278.48 L254.27 279.15 L255.83 278.08 L257.39 277.86 L258.95 280.77 L260.51 279.81 L262.07 280.11 L263.63 279.98 L265.19 281.80 L266.75 282.35 L268.31 282.06 L269.87 280.02 L271.43 281.95 L273.00 280.52 L274.56 282.55 L276.12 282.39 L277.68 282.03 L279.24 281.02 L280.80 282.91 L282.36 283.08 L283.92 283.99 L285.48 282.52 L287.04 283.96 L288.60 283.39 L290.16 284.01 L291.72 283.53 L293.28 282.98 L294.84 283.78 L296.41 282.74 L297.97 284.06 L299.53 285.19 L301.09 284.01 L302.65 284.37 L304.21 285.08 L305.77 283.54 L307.33 283.34 L308.89 284.97 L310.45 285.29 L312.01 283.25 L313.57 286.95 L315.13 285.24 L316.69 286.76 L318.25 284.32 L319.81 287.49 L321.38 285.07 L322.94 285.37 L324.50 284.25 L326.06 284.02 L327.62 284.90 L329.18 284.61 L330.74 286.90 L332.30 284.80" fill="none" stroke="#ff2457" stroke-width="1.5" stroke-linejoin="round"/>
<path d="M210.78 255.94h2.7M212.34 254.78h2.7M213.90 252.87h2.7M215.46 255.24h2.7M217.02 254.95h2.7M218.58 254.73h2.7M220.14 254.90h2.7M221.70 255.85h2.7M223.27 257.12h2.7M224.83 257.13h2.7M226.39 260.60h2.7M227.95 264.18h2.7M229.51 263.19h2.7M231.07 269.24h2.7M232.63 269.94h2.7M234.19 271.94h2.7M235.75 274.56h2.7M237.31 272.33h2.7M238.87 275.49h2.7M240.43 275.35h2.7M241.99 275.08h2.7M243.55 274.35h2.7M245.11 277.52h2.7M246.67 275.96h2.7M248.24 276.30h2.7M249.80 277.86h2.7M251.36 278.48h2.7M252.92 279.15h2.7M254.48 278.08h2.7M256.04 277.86h2.7M257.60 280.77h2.7M259.16 279.81h2.7M260.72 280.11h2.7M262.28 279.98h2.7M263.84 281.80h2.7M265.40 282.35h2.7M266.96 282.06h2.7M268.52 280.02h2.7M270.08 281.95h2.7M271.65 280.52h2.7M273.21 282.55h2.7M274.77 282.39h2.7M276.33 282.03h2.7M277.89 281.02h2.7M279.45 282.91h2.7M281.01 283.08h2.7M282.57 283.99h2.7M284.13 282.52h2.7M285.69 283.96h2.7M287.25 283.39h2.7M288.81 284.01h2.7M290.37 283.53h2.7M291.93 282.98h2.7M293.49 283.78h2.7M295.06 282.74h2.7M296.62 284.06h2.7M298.18 285.19h2.7M299.74 284.01h2.7M301.30 284.37h2.7M302.86 285.08h2.7M304.42 283.54h2.7M305.98 283.34h2.7M307.54 284.97h2.7M309.10 285.29h2.7M310.66 283.25h2.7M312.22 286.95h2.7M313.78 285.24h2.7M315.34 286.76h2.7M316.90 284.32h2.7M318.46 287.49h2.7M320.03 285.07h2.7M321.59 285.37h2.7M323.15 284.25h2.7M324.71 284.02h2.7M326.27 284.90h2.7M327.83 284.61h2.7M329.39 286.90h2.7M330.95 284.80h2.7" stroke="#ff2457" stroke-width="2.7"/>
<path d="M212.13 255.93V257.94M213.69 253.39V256.57M215.25 253.06V255.69M216.81 254.55V256.56M218.37 254.47V257.01M219.93 255.86V257.86M221.49 253.67V256.10M223.05 259.04V260.53M224.62 270.79V273.23M226.18 284.22V287.16M227.74 291.06V293.85M229.30 293.65V295.49M230.86 293.98V295.94M232.42 294.78V297.21M233.98 291.69V293.58M235.54 295.02V297.39M237.10 293.90V295.89M238.66 293.01V294.99M240.22 292.82V295.42M241.78 292.02V294.69M243.34 292.52V294.50M244.90 289.90V292.87M246.46 290.71V292.78M248.02 289.20V292.46M249.59 288.21V290.35M251.15 289.05V291.67M252.71 289.66V292.49M254.27 289.40V292.46M255.83 288.74V291.20M257.39 286.50V288.99M258.95 285.43V287.68M260.51 286.93V288.68M262.07 286.82V288.96M263.63 285.48V287.05M265.19 284.47V287.00M266.75 284.21V287.28M268.31 284.47V287.22M269.87 284.14V286.83M271.43 283.77V285.92M273.00 283.48V286.45M274.56 286.47V289.14M276.12 283.36V285.64M277.68 282.61V284.77M279.24 281.52V283.69M280.80 283.02V285.41M282.36 285.93V287.70M283.92 282.34V285.37M285.48 285.43V287.72M287.04 281.25V284.51M288.60 283.02V285.56M290.16 283.77V285.52M291.72 282.92V286.19M293.28 283.00V285.53M294.84 285.41V287.03M296.41 285.64V287.07M297.97 283.76V286.04M299.53 283.35V285.15M301.09 284.44V286.25M302.65 283.72V286.71M304.21 281.64V283.81M305.77 283.95V286.35M307.33 284.51V287.16M308.89 284.18V286.98M310.45 285.27V287.82M312.01 284.49V286.95M313.57 283.70V286.04M315.13 285.19V287.60M316.69 284.12V287.05M318.25 283.60V286.69M319.81 284.73V287.93M321.38 283.93V286.15M322.94 285.50V288.36M324.50 284.09V286.48M326.06 286.25V287.67M327.62 283.26V284.64M329.18 286.10V287.63M330.74 286.79V288.97M332.30 285.10V288.23" stroke="#ff8a14" stroke-width="0.6" fill="none"/>
<path d="M212.13 256.96 L213.69 255.13 L215.25 254.33 L216.81 255.31 L218.37 255.92 L219.93 256.76 L221.49 254.66 L223.05 259.82 L224.62 271.78 L226.18 285.75 L227.74 292.80 L229.30 294.30 L230.86 295.12 L232.42 296.19 L233.98 292.58 L235.54 296.77 L237.10 294.94 L238.66 293.86 L240.22 293.70 L241.78 293.23 L243.34 293.33 L244.90 291.24 L246.46 291.61 L248.02 290.85 L249.59 289.09 L251.15 290.58 L252.71 291.08 L254.27 291.18 L255.83 290.17 L257.39 287.99 L258.95 286.64 L260.51 287.91 L262.07 287.70 L263.63 286.39 L265.19 286.05 L266.75 285.95 L268.31 285.55 L269.87 285.83 L271.43 284.53 L273.00 285.10 L274.56 288.03 L276.12 284.71 L277.68 283.71 L279.24 282.59 L280.80 284.60 L282.36 286.78 L283.92 284.13 L285.48 286.10 L287.04 282.91 L288.60 284.07 L290.16 284.74 L291.72 284.57 L293.28 283.86 L294.84 286.05 L296.41 286.26 L297.97 284.57 L299.53 284.32 L301.09 285.27 L302.65 285.37 L304.21 282.37 L305.77 285.20 L307.33 285.76 L308.89 285.76 L310.45 286.65 L312.01 285.87 L313.57 284.81 L315.13 286.66 L316.69 285.84 L318.25 285.25 L319.81 286.50 L321.38 285.05 L322.94 286.84 L324.50 285.71 L326.06 286.93 L327.62 283.97 L329.18 286.72 L330.74 287.53 L332.30 286.45" fill="none" stroke="#ff8a14" stroke-width="1.5" stroke-linejoin="round"/>
<path d="M210.78 256.96h2.7M212.34 255.13h2.7M213.90 254.33h2.7M215.46 255.31h2.7M217.02 255.92h2.7M218.58 256.76h2.7M220.14 254.66h2.7M221.70 259.82h2.7M223.27 271.78h2.7M224.83 285.75h2.7M226.39 292.80h2.7M227.95 294.30h2.7M229.51 295.12h2.7M231.07 296.19h2.7M232.63 292.58h2.7M234.19 296.77h2.7M235.75 294.94h2.7M237.31 293.86h2.7M238.87 293.70h2.7M240.43 293.23h2.7M241.99 293.33h2.7M243.55 291.24h2.7M245.11 291.61h2.7M246.67 290.85h2.7M248.24 289.09h2.7M249.80 290.58h2.7M251.36 291.08h2.7M252.92 291.18h2.7M254.48 290.17h2.7M256.04 287.99h2.7M257.60 286.64h2.7M259.16 287.91h2.7M260.72 287.70h2.7M262.28 286.39h2.7M263.84 286.05h2.7M265.40 285.95h2.7M266.96 285.55h2.7M268.52 285.83h2.7M270.08 284.53h2.7M271.65 285.10h2.7M273.21 288.03h2.7M274.77 284.71h2.7M276.33 283.71h2.7M277.89 282.59h2.7M279.45 284.60h2.7M281.01 286.78h2.7M282.57 284.13h2.7M284.13 286.10h2.7M285.69 282.91h2.7M287.25 284.07h2.7M288.81 284.74h2.7M290.37 284.57h2.7M291.93 283.86h2.7M293.49 286.05h2.7M295.06 286.26h2.7M296.62 284.57h2.7M298.18 284.32h2.7M299.74 285.27h2.7M301.30 285.37h2.7M302.86 282.37h2.7M304.42 285.20h2.7M305.98 285.76h2.7M307.54 285.76h2.7M309.10 286.65h2.7M310.66 285.87h2.7M312.22 284.81h2.7M313.78 286.66h2.7M315.34 285.84h2.7M316.90 285.25h2.7M318.46 286.50h2.7M320.03 285.05h2.7M321.59 286.84h2.7M323.15 285.71h2.7M324.71 286.93h2.7M326.27 283.97h2.7M327.83 286.72h2.7M329.39 287.53h2.7M330.95 286.45h2.7" stroke="#ff8a14" stroke-width="2.7"/>
<path d="M212.13 255.17V257.36M213.69 252.60V256.08M215.25 255.11V257.02M216.81 254.54V256.88M218.37 255.18V257.86M219.93 255.48V257.51M221.49 255.85V257.37M223.05 257.84V260.29M224.62 270.59V272.83M226.18 279.02V281.62M227.74 279.54V281.89M229.30 282.89V286.04M230.86 279.97V282.93M232.42 283.04V285.49M233.98 283.68V286.67M235.54 280.42V282.86M237.10 281.43V283.45M238.66 277.09V279.93M240.22 277.60V280.35M241.78 279.99V281.67M243.34 279.97V281.28M244.90 277.68V279.90M246.46 277.48V280.61M248.02 275.83V279.23M249.59 276.44V278.93M251.15 274.20V277.29M252.71 274.87V277.36M254.27 274.65V276.37M255.83 273.52V276.51M257.39 273.66V276.14M258.95 273.00V274.76M260.51 274.92V276.48M262.07 273.49V276.25M263.63 274.00V276.54M265.19 273.84V276.60M266.75 273.70V277.04M268.31 272.06V274.17M269.87 275.11V277.97M271.43 274.90V277.00M273.00 272.56V274.80M274.56 275.88V278.02M276.12 275.89V278.13M277.68 276.14V277.69M279.24 275.20V277.50M280.80 274.79V277.67M282.36 274.01V276.87M283.92 274.22V276.59M285.48 274.44V276.96M287.04 277.31V279.72M288.60 275.52V277.95M290.16 275.67V278.09M291.72 275.77V277.66M293.28 274.54V277.19M294.84 275.23V277.77M296.41 275.10V277.25M297.97 275.95V277.72M299.53 274.59V277.13M301.09 276.29V277.84M302.65 277.12V279.70M304.21 275.64V278.86M305.77 275.08V277.52M307.33 275.19V278.52M308.89 275.85V278.89M310.45 274.29V277.19M312.01 277.51V279.75M313.57 277.94V280.19M315.13 276.45V278.45M316.69 276.14V278.87M318.25 275.88V278.65M319.81 275.53V278.26M321.38 277.54V280.34M322.94 278.85V281.26M324.50 278.26V281.14M326.06 276.99V279.77M327.62 277.94V281.07M329.18 278.88V281.38M330.74 280.00V281.89M332.30 277.87V280.58" stroke="#4cb4ec" stroke-width="0.6" fill="none"/>
<path d="M212.13 256.21 L213.69 254.27 L215.25 255.77 L216.81 255.30 L218.37 256.17 L219.93 256.75 L221.49 256.47 L223.05 259.50 L224.62 271.78 L226.18 280.04 L227.74 280.41 L229.30 284.30 L230.86 281.20 L232.42 284.19 L233.98 285.04 L235.54 282.12 L237.10 282.20 L238.66 278.68 L240.22 278.57 L241.78 280.96 L243.34 280.64 L244.90 279.17 L246.46 278.96 L248.02 277.65 L249.59 277.56 L251.15 275.82 L252.71 275.83 L254.27 275.39 L255.83 275.34 L257.39 274.59 L258.95 274.15 L260.51 275.56 L262.07 274.50 L263.63 274.91 L265.19 275.48 L266.75 275.51 L268.31 273.25 L269.87 276.27 L271.43 276.16 L273.00 273.62 L274.56 276.72 L276.12 276.53 L277.68 276.96 L279.24 276.52 L280.80 276.47 L282.36 275.25 L283.92 275.08 L285.48 275.83 L287.04 279.08 L288.60 277.17 L290.16 277.30 L291.72 276.45 L293.28 276.27 L294.84 276.43 L296.41 276.00 L297.97 276.57 L299.53 276.11 L301.09 277.17 L302.65 278.57 L304.21 277.35 L305.77 275.81 L307.33 276.92 L308.89 277.46 L310.45 275.78 L312.01 278.83 L313.57 278.71 L315.13 277.78 L316.69 277.53 L318.25 277.11 L319.81 277.20 L321.38 279.13 L322.94 280.15 L324.50 280.00 L326.06 278.75 L327.62 279.36 L329.18 280.32 L330.74 280.71 L332.30 278.98" fill="none" stroke="#4cb4ec" stroke-width="1.5" stroke-linejoin="round"/>
<path d="M210.78 256.21h2.7M212.34 254.27h2.7M213.90 255.77h2.7M215.46 255.30h2.7M217.02 256.17h2.7M218.58 256.75h2.7M220.14 256.47h2.7M221.70 259.50h2.7M223.27 271.78h2.7M224.83 280.04h2.7M226.39 280.41h2.7M227.95 284.30h2.7M229.51 281.20h2.7M231.07 284.19h2.7M232.63 285.04h2.7M234.19 282.12h2.7M235.75 282.20h2.7M237.31 278.68h2.7M238.87 278.57h2.7M240.43 280.96h2.7M241.99 280.64h2.7M243.55 279.17h2.7M245.11 278.96h2.7M246.67 277.65h2.7M248.24 277.56h2.7M249.80 275.82h2.7M251.36 275.83h2.7M252.92 275.39h2.7M254.48 275.34h2.7M256.04 274.59h2.7M257.60 274.15h2.7M259.16 275.56h2.7M260.72 274.50h2.7M262.28 274.91h2.7M263.84 275.48h2.7M265.40 275.51h2.7M266.96 273.25h2.7M268.52 276.27h2.7M270.08 276.16h2.7M271.65 273.62h2.7M273.21 276.72h2.7M274.77 276.53h2.7M276.33 276.96h2.7M277.89 276.52h2.7M279.45 276.47h2.7M281.01 275.25h2.7M282.57 275.08h2.7M284.13 275.83h2.7M285.69 279.08h2.7M287.25 277.17h2.7M288.81 277.30h2.7M290.37 276.45h2.7M291.93 276.27h2.7M293.49 276.43h2.7M295.06 276.00h2.7M296.62 276.57h2.7M298.18 276.11h2.7M299.74 277.17h2.7M301.30 278.57h2.7M302.86 277.35h2.7M304.42 275.81h2.7M305.98 276.92h2.7M307.54 277.46h2.7M309.10 275.78h2.7M310.66 278.83h2.7M312.22 278.71h2.7M313.78 277.78h2.7M315.34 277.53h2.7M316.90 277.11h2.7M318.46 277.20h2.7M320.03 279.13h2.7M321.59 280.15h2.7M323.15 280.00h2.7M324.71 278.75h2.7M326.27 279.36h2.7M327.83 280.32h2.7M329.39 280.71h2.7M330.95 278.98h2.7" stroke="#4cb4ec" stroke-width="2.7"/>
<path d="M380.90 243.50 H386.10 V340.50 H506.70" fill="none" stroke="#000" stroke-width="2.2"/>
<line x1="380.90" y1="255.62" x2="386.10" y2="255.62" stroke="#000" stroke-width="2.2" />
<line x1="380.90" y1="267.75" x2="386.10" y2="267.75" stroke="#000" stroke-width="2.2" />
<line x1="380.90" y1="292.00" x2="386.10" y2="292.00" stroke="#000" stroke-width="2.2" />
<line x1="380.90" y1="316.25" x2="386.10" y2="316.25" stroke="#000" stroke-width="2.2" />
<line x1="380.90" y1="340.50" x2="386.10" y2="340.50" stroke="#000" stroke-width="2.2" />
<text x="380.20" y="248.10" font-size="10" font-weight="bold" text-anchor="end" fill="#000" >5</text>
<text x="380.20" y="272.35" font-size="10" font-weight="bold" text-anchor="end" fill="#000" >-5</text>
<text x="380.20" y="296.60" font-size="10" font-weight="bold" text-anchor="end" fill="#000" >-15</text>
<text x="380.20" y="320.85" font-size="10" font-weight="bold" text-anchor="end" fill="#000" >-25</text>
<text x="380.20" y="345.10" font-size="10" font-weight="bold" text-anchor="end" fill="#000" >-35</text>
<line x1="396.90" y1="340.50" x2="396.90" y2="345.30" stroke="#000" stroke-width="2.2" />
<text x="396.90" y="356.80" font-size="10.5" font-weight="bold" text-anchor="middle" fill="#000" >0</text>
<line x1="433.50" y1="340.50" x2="433.50" y2="345.30" stroke="#000" stroke-width="2.2" />
<text x="433.50" y="356.80" font-size="10.5" font-weight="bold" text-anchor="middle" fill="#000" >3</text>
<line x1="470.10" y1="340.50" x2="470.10" y2="345.30" stroke="#000" stroke-width="2.2" />
<text x="470.10" y="356.80" font-size="10.5" font-weight="bold" text-anchor="middle" fill="#000" >6</text>
<line x1="506.70" y1="340.50" x2="506.70" y2="345.30" stroke="#000" stroke-width="2.2" />
<text x="506.70" y="356.80" font-size="10.5" font-weight="bold" text-anchor="middle" fill="#000" >9</text>
<text x="446.40" y="373.00" font-size="11.8" font-weight="bold" text-anchor="middle" fill="#000" >Time (min)</text>
<text x="360.30" y="290.10" font-size="11.8" font-weight="bold" text-anchor="middle" fill="#000" transform="rotate(-90 360.30 290.10)">&#916;BRET (%)</text>
<line x1="398.40" y1="255.62" x2="506.70" y2="255.62" stroke="#222" stroke-width="1.3" stroke-dasharray="1.5 1.75"/>
<text x="446.40" y="225.70" font-size="12" font-weight="bold" text-anchor="middle" fill="#000" >G&#945;<tspan font-size="8.5" dy="3">i2</tspan><tspan dy="-3">-CASE</tspan></text>
<text x="349.20" y="226.80" font-size="16.5" font-weight="bold" text-anchor="start" fill="#000" >f</text>
<path d="M386.53 251.71V253.83M388.09 250.88V253.88M389.65 253.30V255.68M391.21 251.50V254.42M392.77 252.64V255.92M394.33 249.62V252.04M395.89 250.96V253.51M397.45 254.30V256.14M399.02 260.99V262.92M400.58 264.08V266.79M402.14 276.91V279.36M403.70 276.15V278.90M405.26 274.18V276.52M406.82 274.41V276.41M408.38 272.94V275.65M409.94 273.56V277.10M411.50 274.22V277.56M413.06 278.73V280.96M414.62 280.21V282.98M416.18 282.24V283.66M417.74 278.41V281.76M419.30 281.68V284.92M420.86 280.65V283.51M422.42 276.36V279.20M423.99 280.52V282.35M425.55 280.58V283.46M427.11 279.16V281.71M428.67 279.72V282.62M430.23 281.69V283.18M431.79 278.54V281.38M433.35 281.07V283.38M434.91 279.47V281.10M436.47 280.53V282.34M438.03 278.42V280.98M439.59 278.66V281.04M441.15 278.38V280.31M442.71 276.19V279.05M444.27 278.08V281.02M445.83 279.58V281.58M447.40 276.34V279.22M448.96 278.02V280.31M450.52 277.01V279.52M452.08 277.77V280.18M453.64 275.91V278.61M455.20 275.36V277.60M456.76 276.69V279.28M458.32 278.39V280.59M459.88 276.42V278.84M461.44 276.88V279.52M463.00 275.99V278.03M464.56 277.08V279.75M466.12 275.25V277.82M467.68 277.36V280.19M469.24 279.19V281.58M470.81 275.77V277.62M472.37 278.93V280.39M473.93 278.45V281.47M475.49 276.83V278.91M477.05 277.57V280.09M478.61 279.22V281.28M480.17 277.36V280.29M481.73 274.70V277.33M483.29 277.42V280.37M484.85 277.95V279.55M486.41 276.90V279.41M487.97 277.66V280.07M489.53 280.56V282.94M491.09 276.88V278.83M492.65 278.91V280.98M494.21 277.73V280.41M495.78 278.50V281.57M497.34 280.36V282.67M498.90 280.28V282.78M500.46 281.31V283.49M502.02 281.87V284.64M503.58 282.10V284.42M505.14 281.36V283.78M506.70 279.30V282.28" stroke="#ff2457" stroke-width="0.6" fill="none"/>
<path d="M386.53 252.40 L388.09 252.61 L389.65 254.03 L391.21 252.62 L392.77 254.31 L394.33 251.35 L395.89 252.53 L397.45 255.07 L399.02 262.31 L400.58 265.23 L402.14 278.11 L403.70 277.11 L405.26 275.09 L406.82 275.80 L408.38 274.76 L409.94 275.36 L411.50 275.91 L413.06 279.82 L414.62 281.24 L416.18 282.89 L417.74 280.18 L419.30 283.14 L420.86 281.89 L422.42 277.50 L423.99 281.21 L425.55 281.89 L427.11 280.28 L428.67 281.50 L430.23 282.54 L431.79 280.20 L433.35 282.14 L434.91 280.22 L436.47 281.42 L438.03 280.07 L439.59 279.38 L441.15 279.67 L442.71 277.61 L444.27 279.47 L445.83 280.70 L447.40 277.85 L448.96 279.48 L450.52 278.07 L452.08 278.84 L453.64 277.09 L455.20 276.39 L456.76 278.30 L458.32 279.21 L459.88 277.19 L461.44 277.82 L463.00 277.24 L464.56 278.31 L466.12 276.45 L467.68 278.42 L469.24 280.00 L470.81 276.40 L472.37 279.62 L473.93 279.77 L475.49 277.81 L477.05 278.75 L478.61 280.25 L480.17 279.01 L481.73 275.74 L483.29 279.24 L484.85 278.57 L486.41 278.60 L487.97 278.50 L489.53 281.30 L491.09 277.76 L492.65 280.24 L494.21 279.27 L495.78 280.04 L497.34 281.06 L498.90 281.88 L500.46 282.63 L502.02 283.12 L503.58 283.17 L505.14 282.12 L506.70 280.67" fill="none" stroke="#ff2457" stroke-width="1.5" stroke-linejoin="round"/>
<path d="M385.18 252.40h2.7M386.74 252.61h2.7M388.30 254.03h2.7M389.86 252.62h2.7M391.42 254.31h2.7M392.98 251.35h2.7M394.54 252.53h2.7M396.10 255.07h2.7M397.67 262.31h2.7M399.23 265.23h2.7M400.79 278.11h2.7M402.35 277.11h2.7M403.91 275.09h2.7M405.47 275.80h2.7M407.03 274.76h2.7M408.59 275.36h2.7M410.15 275.91h2.7M411.71 279.82h2.7M413.27 281.24h2.7M414.83 282.89h2.7M416.39 280.18h2.7M417.95 283.14h2.7M419.51 281.89h2.7M421.07 277.50h2.7M422.64 281.21h2.7M424.20 281.89h2.7M425.76 280.28h2.7M427.32 281.50h2.7M428.88 282.54h2.7M430.44 280.20h2.7M432.00 282.14h2.7M433.56 280.22h2.7M435.12 281.42h2.7M436.68 280.07h2.7M438.24 279.38h2.7M439.80 279.67h2.7M441.36 277.61h2.7M442.92 279.47h2.7M444.48 280.70h2.7M446.05 277.85h2.7M447.61 279.48h2.7M449.17 278.07h2.7M450.73 278.84h2.7M452.29 277.09h2.7M453.85 276.39h2.7M455.41 278.30h2.7M456.97 279.21h2.7M458.53 277.19h2.7M460.09 277.82h2.7M461.65 277.24h2.7M463.21 278.31h2.7M464.77 276.45h2.7M466.33 278.42h2.7M467.89 280.00h2.7M469.46 276.40h2.7M471.02 279.62h2.7M472.58 279.77h2.7M474.14 277.81h2.7M475.70 278.75h2.7M477.26 280.25h2.7M478.82 279.01h2.7M480.38 275.74h2.7M481.94 279.24h2.7M483.50 278.57h2.7M485.06 278.60h2.7M486.62 278.50h2.7M488.18 281.30h2.7M489.74 277.76h2.7M491.30 280.24h2.7M492.86 279.27h2.7M494.43 280.04h2.7M495.99 281.06h2.7M497.55 281.88h2.7M499.11 282.63h2.7M500.67 283.12h2.7M502.23 283.17h2.7M503.79 282.12h2.7M505.35 280.67h2.7" stroke="#ff2457" stroke-width="2.7"/>
<path d="M386.53 254.36V256.93M388.09 254.35V257.81M389.65 254.16V256.67M391.21 254.76V256.46M392.77 251.13V253.89M394.33 259.02V261.42M395.89 254.06V257.07M397.45 262.59V264.70M399.02 277.01V279.29M400.58 285.04V288.09M402.14 282.34V285.28M403.70 285.39V287.07M405.26 284.90V287.23M406.82 285.24V287.47M408.38 288.26V290.99M409.94 287.77V290.28M411.50 284.40V286.77M413.06 291.24V293.75M414.62 287.95V290.20M416.18 287.97V291.49M417.74 289.22V291.88M419.30 290.26V291.91M420.86 285.95V288.46M422.42 287.13V290.35M423.99 288.24V290.75M425.55 285.19V286.99M427.11 285.26V287.99M428.67 284.59V287.25M430.23 284.70V287.17M431.79 283.48V285.81M433.35 283.64V286.55M434.91 286.23V289.21M436.47 282.66V285.20M438.03 287.19V288.93M439.59 285.22V287.97M441.15 283.74V286.59M442.71 283.63V286.07M444.27 284.15V286.96M445.83 282.94V285.41M447.40 283.19V285.64M448.96 282.36V285.48M450.52 283.99V286.23M452.08 284.61V287.13M453.64 284.34V286.64M455.20 285.10V287.65M456.76 285.27V288.49M458.32 284.75V287.40M459.88 282.18V284.66M461.44 284.55V287.60M463.00 284.47V287.02M464.56 281.73V284.41M466.12 283.99V287.19M467.68 280.15V282.21M469.24 280.77V283.62M470.81 281.98V284.12M472.37 282.22V283.87M473.93 283.17V285.47M475.49 279.42V281.52M477.05 282.96V285.87M478.61 281.33V283.14M480.17 282.47V284.58M481.73 283.26V284.98M483.29 281.09V284.41M484.85 282.49V284.53M486.41 282.74V285.90M487.97 284.53V287.07M489.53 284.22V287.32M491.09 286.09V288.92M492.65 287.86V290.11M494.21 283.39V285.80M495.78 284.12V286.24M497.34 283.18V285.74M498.90 285.98V288.28M500.46 285.35V287.80M502.02 283.47V286.27M503.58 281.50V283.75M505.14 284.73V288.04M506.70 283.63V286.12" stroke="#ff8a14" stroke-width="0.6" fill="none"/>
<path d="M386.53 255.91 L388.09 256.01 L389.65 255.57 L391.21 255.69 L392.77 252.07 L394.33 259.70 L395.89 255.52 L397.45 263.31 L399.02 277.87 L400.58 286.61 L402.14 283.60 L403.70 286.28 L405.26 286.56 L406.82 286.35 L408.38 289.93 L409.94 289.06 L411.50 285.59 L413.06 292.42 L414.62 289.08 L416.18 289.70 L417.74 290.13 L419.30 290.90 L420.86 287.65 L422.42 288.54 L423.99 289.59 L425.55 285.84 L427.11 286.43 L428.67 285.66 L430.23 285.80 L431.79 285.00 L433.35 285.40 L434.91 287.42 L436.47 283.96 L438.03 288.05 L439.59 286.75 L441.15 285.14 L442.71 285.07 L444.27 285.81 L445.83 283.76 L447.40 284.88 L448.96 284.04 L450.52 284.92 L452.08 286.34 L453.64 285.74 L455.20 285.89 L456.76 287.09 L458.32 286.31 L459.88 283.31 L461.44 286.14 L463.00 285.65 L464.56 282.82 L466.12 285.65 L467.68 281.14 L469.24 282.56 L470.81 283.39 L472.37 282.99 L473.93 284.59 L475.49 280.83 L477.05 284.41 L478.61 282.24 L480.17 283.38 L481.73 284.09 L483.29 282.67 L484.85 283.30 L486.41 284.15 L487.97 285.82 L489.53 285.76 L491.09 287.56 L492.65 289.45 L494.21 284.92 L495.78 285.16 L497.34 284.41 L498.90 287.29 L500.46 286.39 L502.02 285.20 L503.58 282.11 L505.14 286.41 L506.70 285.01" fill="none" stroke="#ff8a14" stroke-width="1.5" stroke-linejoin="round"/>
<path d="M385.18 255.91h2.7M386.74 256.01h2.7M388.30 255.57h2.7M389.86 255.69h2.7M391.42 252.07h2.7M392.98 259.70h2.7M394.54 255.52h2.7M396.10 263.31h2.7M397.67 277.87h2.7M399.23 286.61h2.7M400.79 283.60h2.7M402.35 286.28h2.7M403.91 286.56h2.7M405.47 286.35h2.7M407.03 289.93h2.7M408.59 289.06h2.7M410.15 285.59h2.7M411.71 292.42h2.7M413.27 289.08h2.7M414.83 289.70h2.7M416.39 290.13h2.7M417.95 290.90h2.7M419.51 287.65h2.7M421.07 288.54h2.7M422.64 289.59h2.7M424.20 285.84h2.7M425.76 286.43h2.7M427.32 285.66h2.7M428.88 285.80h2.7M430.44 285.00h2.7M432.00 285.40h2.7M433.56 287.42h2.7M435.12 283.96h2.7M436.68 288.05h2.7M438.24 286.75h2.7M439.80 285.14h2.7M441.36 285.07h2.7M442.92 285.81h2.7M444.48 283.76h2.7M446.05 284.88h2.7M447.61 284.04h2.7M449.17 284.92h2.7M450.73 286.34h2.7M452.29 285.74h2.7M453.85 285.89h2.7M455.41 287.09h2.7M456.97 286.31h2.7M458.53 283.31h2.7M460.09 286.14h2.7M461.65 285.65h2.7M463.21 282.82h2.7M464.77 285.65h2.7M466.33 281.14h2.7M467.89 282.56h2.7M469.46 283.39h2.7M471.02 282.99h2.7M472.58 284.59h2.7M474.14 280.83h2.7M475.70 284.41h2.7M477.26 282.24h2.7M478.82 283.38h2.7M480.38 284.09h2.7M481.94 282.67h2.7M483.50 283.30h2.7M485.06 284.15h2.7M486.62 285.82h2.7M488.18 285.76h2.7M489.74 287.56h2.7M491.30 289.45h2.7M492.86 284.92h2.7M494.43 285.16h2.7M495.99 284.41h2.7M497.55 287.29h2.7M499.11 286.39h2.7M500.67 285.20h2.7M502.23 282.11h2.7M503.79 286.41h2.7M505.35 285.01h2.7" stroke="#ff8a14" stroke-width="2.7"/>
<path d="M386.53 256.50V259.71M388.09 253.64V255.74M389.65 256.36V259.63M391.21 252.04V254.83M392.77 251.21V254.43M394.33 252.40V254.98M395.89 251.61V254.41M397.45 262.55V264.73M399.02 282.36V284.86M400.58 281.79V285.01M402.14 286.27V287.64M403.70 289.73V292.96M405.26 293.72V297.13M406.82 294.65V297.21M408.38 298.90V301.08M409.94 295.47V297.74M411.50 296.81V299.45M413.06 296.75V298.73M414.62 296.49V298.04M416.18 299.83V301.18M417.74 299.44V301.66M419.30 296.03V299.13M420.86 299.23V301.86M422.42 299.74V302.14M423.99 296.71V298.57M425.55 299.31V301.22M427.11 300.48V303.05M428.67 299.25V300.71M430.23 296.97V299.43M431.79 294.32V296.98M433.35 296.63V299.06M434.91 296.90V299.67M436.47 292.71V295.18M438.03 296.45V298.88M439.59 295.03V297.91M441.15 294.55V296.03M442.71 292.74V294.49M444.27 294.08V296.86M445.83 295.93V298.44M447.40 298.35V300.94M448.96 295.16V297.68M450.52 296.62V299.28M452.08 301.83V304.72M453.64 294.94V297.24M455.20 294.60V297.53M456.76 294.27V297.31M458.32 295.55V297.89M459.88 293.01V295.30M461.44 294.76V296.67M463.00 298.17V300.47M464.56 289.96V291.76M466.12 287.72V290.88M467.68 295.61V297.93M469.24 291.96V294.70M470.81 291.82V294.45M472.37 294.13V296.42M473.93 292.43V295.04M475.49 293.44V295.81M477.05 287.71V291.03M478.61 285.19V286.56M480.17 282.23V285.01M481.73 286.97V289.88M483.29 291.89V294.38M484.85 289.44V292.40M486.41 294.80V296.26M487.97 290.81V292.63M489.53 291.36V294.91M491.09 292.71V295.55M492.65 288.36V291.41M494.21 293.30V296.69M495.78 288.66V291.81M497.34 287.70V289.50M498.90 289.56V291.64M500.46 287.07V289.39M502.02 289.16V291.50M503.58 285.91V287.28M505.14 288.73V289.96M506.70 288.85V291.08" stroke="#4cb4ec" stroke-width="0.6" fill="none"/>
<path d="M386.53 258.27 L388.09 254.52 L389.65 257.99 L391.21 253.45 L392.77 252.71 L394.33 253.63 L395.89 253.18 L397.45 263.42 L399.02 283.39 L400.58 283.30 L402.14 287.00 L403.70 291.47 L405.26 295.54 L406.82 296.42 L408.38 299.73 L409.94 296.99 L411.50 298.56 L413.06 297.60 L414.62 297.32 L416.18 300.54 L417.74 300.23 L419.30 297.58 L420.86 300.34 L422.42 300.49 L423.99 297.82 L425.55 300.38 L427.11 301.99 L428.67 299.87 L430.23 297.67 L431.79 295.43 L433.35 297.96 L434.91 298.39 L436.47 293.37 L438.03 297.48 L439.59 296.14 L441.15 295.36 L442.71 293.40 L444.27 295.71 L445.83 297.66 L447.40 300.13 L448.96 296.84 L450.52 297.93 L452.08 303.61 L453.64 296.57 L455.20 296.30 L456.76 295.53 L458.32 296.54 L459.88 294.33 L461.44 295.54 L463.00 299.12 L464.56 291.06 L466.12 289.16 L467.68 296.97 L469.24 292.94 L470.81 292.96 L472.37 294.83 L473.93 294.12 L475.49 294.42 L477.05 289.47 L478.61 285.82 L480.17 283.91 L481.73 288.73 L483.29 293.51 L484.85 291.22 L486.41 295.41 L487.97 291.52 L489.53 293.13 L491.09 294.45 L492.65 289.90 L494.21 294.91 L495.78 290.27 L497.34 288.69 L498.90 290.68 L500.46 288.59 L502.02 290.01 L503.58 286.57 L505.14 289.33 L506.70 289.57" fill="none" stroke="#4cb4ec" stroke-width="1.5" stroke-linejoin="round"/>
<path d="M385.18 258.27h2.7M386.74 254.52h2.7M388.30 257.99h2.7M389.86 253.45h2.7M391.42 252.71h2.7M392.98 253.63h2.7M394.54 253.18h2.7M396.10 263.42h2.7M397.67 283.39h2.7M399.23 283.30h2.7M400.79 287.00h2.7M402.35 291.47h2.7M403.91 295.54h2.7M405.47 296.42h2.7M407.03 299.73h2.7M408.59 296.99h2.7M410.15 298.56h2.7M411.71 297.60h2.7M413.27 297.32h2.7M414.83 300.54h2.7M416.39 300.23h2.7M417.95 297.58h2.7M419.51 300.34h2.7M421.07 300.49h2.7M422.64 297.82h2.7M424.20 300.38h2.7M425.76 301.99h2.7M427.32 299.87h2.7M428.88 297.67h2.7M430.44 295.43h2.7M432.00 297.96h2.7M433.56 298.39h2.7M435.12 293.37h2.7M436.68 297.48h2.7M438.24 296.14h2.7M439.80 295.36h2.7M441.36 293.40h2.7M442.92 295.71h2.7M444.48 297.66h2.7M446.05 300.13h2.7M447.61 296.84h2.7M449.17 297.93h2.7M450.73 303.61h2.7M452.29 296.57h2.7M453.85 296.30h2.7M455.41 295.53h2.7M456.97 296.54h2.7M458.53 294.33h2.7M460.09 295.54h2.7M461.65 299.12h2.7M463.21 291.06h2.7M464.77 289.16h2.7M466.33 296.97h2.7M467.89 292.94h2.7M469.46 292.96h2.7M471.02 294.83h2.7M472.58 294.12h2.7M474.14 294.42h2.7M475.70 289.47h2.7M477.26 285.82h2.7M478.82 283.91h2.7M480.38 288.73h2.7M481.94 293.51h2.7M483.50 291.22h2.7M485.06 295.41h2.7M486.62 291.52h2.7M488.18 293.13h2.7M489.74 294.45h2.7M491.30 289.90h2.7M492.86 294.91h2.7M494.43 290.27h2.7M495.99 288.69h2.7M497.55 290.68h2.7M499.11 288.59h2.7M500.67 290.01h2.7M502.23 286.57h2.7M503.79 289.33h2.7M505.35 289.57h2.7" stroke="#4cb4ec" stroke-width="2.7"/>
<path d="M556.60 243.50 H561.80 V340.50 H682.40" fill="none" stroke="#000" stroke-width="2.2"/>
<line x1="556.60" y1="255.62" x2="561.80" y2="255.62" stroke="#000" stroke-width="2.2" />
<line x1="556.60" y1="267.75" x2="561.80" y2="267.75" stroke="#000" stroke-width="2.2" />
<line x1="556.60" y1="292.00" x2="561.80" y2="292.00" stroke="#000" stroke-width="2.2" />
<line x1="556.60" y1="316.25" x2="561.80" y2="316.25" stroke="#000" stroke-width="2.2" />
<line x1="556.60" y1="340.50" x2="561.80" y2="340.50" stroke="#000" stroke-width="2.2" />
<text x="555.90" y="248.10" font-size="10" font-weight="bold" text-anchor="end" fill="#000" >5</text>
<text x="555.90" y="272.35" font-size="10" font-weight="bold" text-anchor="end" fill="#000" >-5</text>
<text x="555.90" y="296.60" font-size="10" font-weight="bold" text-anchor="end" fill="#000" >-15</text>
<text x="555.90" y="320.85" font-size="10" font-weight="bold" text-anchor="end" fill="#000" >-25</text>
<text x="555.90" y="345.10" font-size="10" font-weight="bold" text-anchor="end" fill="#000" >-35</text>
<line x1="572.60" y1="340.50" x2="572.60" y2="345.30" stroke="#000" stroke-width="2.2" />
<text x="572.60" y="356.80" font-size="10.5" font-weight="bold" text-anchor="middle" fill="#000" >0</text>
<line x1="609.20" y1="340.50" x2="609.20" y2="345.30" stroke="#000" stroke-width="2.2" />
<text x="609.20" y="356.80" font-size="10.5" font-weight="bold" text-anchor="middle" fill="#000" >3</text>
<line x1="645.80" y1="340.50" x2="645.80" y2="345.30" stroke="#000" stroke-width="2.2" />
<text x="645.80" y="356.80" font-size="10.5" font-weight="bold" text-anchor="middle" fill="#000" >6</text>
<line x1="682.40" y1="340.50" x2="682.40" y2="345.30" stroke="#000" stroke-width="2.2" />
<text x="682.40" y="356.80" font-size="10.5" font-weight="bold" text-anchor="middle" fill="#000" >9</text>
<text x="622.10" y="373.00" font-size="11.8" font-weight="bold" text-anchor="middle" fill="#000" >Time (min)</text>
<text x="536.00" y="290.10" font-size="11.8" font-weight="bold" text-anchor="middle" fill="#000" transform="rotate(-90 536.00 290.10)">&#916;BRET (%)</text>
<line x1="574.10" y1="255.62" x2="682.40" y2="255.62" stroke="#222" stroke-width="1.3" stroke-dasharray="1.5 1.75"/>
<text x="622.10" y="225.70" font-size="12" font-weight="bold" text-anchor="middle" fill="#000" >G&#945;<tspan font-size="8.5" dy="3">i3</tspan><tspan dy="-3">-CASE</tspan></text>
<text x="524.20" y="226.80" font-size="16.5" font-weight="bold" text-anchor="start" fill="#000" >g</text>
<path d="M562.23 255.97V257.76M563.79 253.72V256.41M565.35 253.82V255.64M566.91 256.34V259.39M568.47 251.67V254.20M570.03 252.75V256.08M571.59 255.08V256.97M573.15 260.93V263.33M574.72 287.14V290.17M576.28 287.75V290.44M577.84 299.05V300.99M579.40 307.56V309.65M580.96 312.99V314.95M582.52 319.11V321.98M584.08 323.53V326.42M585.64 326.23V328.36M587.20 329.23V331.77M588.76 324.15V326.41M590.32 323.21V325.66M591.88 327.61V329.62M593.44 321.98V324.14M595.00 322.38V324.53M596.56 324.02V325.69M598.12 319.86V322.27M599.69 324.40V326.30M601.25 322.23V324.89M602.81 320.32V322.67M604.37 318.20V320.30M605.93 321.11V323.43M607.49 319.82V322.59M609.05 318.45V320.53M610.61 319.41V321.47M612.17 319.73V322.30M613.73 317.47V320.91M615.29 317.88V320.33M616.85 315.77V318.05M618.41 315.90V318.57M619.97 316.74V319.26M621.53 314.51V317.60M623.10 315.19V317.05M624.66 316.50V318.25M626.22 313.84V315.21M627.78 314.78V317.11M629.34 312.96V315.71M630.90 313.47V316.02M632.46 313.48V315.19M634.02 312.00V314.53M635.58 316.92V320.21M637.14 312.25V314.88M638.70 311.85V314.81M640.26 313.40V314.91M641.82 312.85V316.13M643.38 311.41V314.35M644.94 310.96V313.42M646.51 310.20V312.72M648.07 308.97V311.73M649.63 311.50V313.13M651.19 309.24V312.05M652.75 313.22V315.06M654.31 309.24V311.19M655.87 310.49V312.59M657.43 308.23V310.55M658.99 309.65V311.54M660.55 310.15V313.58M662.11 309.26V311.64M663.67 307.51V309.41M665.23 308.74V312.15M666.79 309.15V311.41M668.35 308.33V310.56M669.91 306.86V309.19M671.48 308.24V311.54M673.04 308.27V310.61M674.60 308.18V310.33M676.16 309.68V312.89M677.72 311.91V313.88M679.28 309.83V312.67M680.84 307.35V309.69M682.40 309.81V313.31" stroke="#ff2457" stroke-width="0.6" fill="none"/>
<path d="M562.23 256.83 L563.79 254.96 L565.35 254.46 L566.91 258.04 L568.47 253.48 L570.03 254.45 L571.59 255.71 L573.15 262.46 L574.72 288.53 L576.28 289.31 L577.84 299.73 L579.40 308.39 L580.96 313.93 L582.52 320.38 L584.08 325.32 L585.64 326.85 L587.20 330.24 L588.76 325.76 L590.32 324.71 L591.88 328.60 L593.44 323.24 L595.00 323.58 L596.56 324.78 L598.12 321.29 L599.69 325.25 L601.25 323.09 L602.81 321.88 L604.37 319.16 L605.93 322.36 L607.49 321.06 L609.05 319.25 L610.61 320.21 L612.17 320.72 L613.73 319.15 L615.29 318.98 L616.85 316.59 L618.41 317.45 L619.97 317.74 L621.53 316.02 L623.10 316.15 L624.66 317.41 L626.22 314.45 L627.78 315.98 L629.34 314.64 L630.90 314.28 L632.46 314.18 L634.02 313.53 L635.58 318.70 L637.14 313.23 L638.70 313.58 L640.26 314.18 L641.82 314.45 L643.38 312.81 L644.94 312.53 L646.51 311.06 L648.07 310.59 L649.63 312.43 L651.19 310.34 L652.75 314.08 L654.31 309.89 L655.87 311.17 L657.43 309.43 L658.99 310.57 L660.55 311.84 L662.11 310.78 L663.67 308.37 L665.23 310.40 L666.79 310.03 L668.35 309.40 L669.91 307.70 L671.48 309.79 L673.04 309.47 L674.60 309.57 L676.16 311.35 L677.72 312.79 L679.28 311.03 L680.84 308.80 L682.40 311.57" fill="none" stroke="#ff2457" stroke-width="1.5" stroke-linejoin="round"/>
<path d="M560.88 256.83h2.7M562.44 254.96h2.7M564.00 254.46h2.7M565.56 258.04h2.7M567.12 253.48h2.7M568.68 254.45h2.7M570.24 255.71h2.7M571.80 262.46h2.7M573.37 288.53h2.7M574.93 289.31h2.7M576.49 299.73h2.7M578.05 308.39h2.7M579.61 313.93h2.7M581.17 320.38h2.7M582.73 325.32h2.7M584.29 326.85h2.7M585.85 330.24h2.7M587.41 325.76h2.7M588.97 324.71h2.7M590.53 328.60h2.7M592.09 323.24h2.7M593.65 323.58h2.7M595.21 324.78h2.7M596.77 321.29h2.7M598.34 325.25h2.7M599.90 323.09h2.7M601.46 321.88h2.7M603.02 319.16h2.7M604.58 322.36h2.7M606.14 321.06h2.7M607.70 319.25h2.7M609.26 320.21h2.7M610.82 320.72h2.7M612.38 319.15h2.7M613.94 318.98h2.7M615.50 316.59h2.7M617.06 317.45h2.7M618.62 317.74h2.7M620.18 316.02h2.7M621.75 316.15h2.7M623.31 317.41h2.7M624.87 314.45h2.7M626.43 315.98h2.7M627.99 314.64h2.7M629.55 314.28h2.7M631.11 314.18h2.7M632.67 313.53h2.7M634.23 318.70h2.7M635.79 313.23h2.7M637.35 313.58h2.7M638.91 314.18h2.7M640.47 314.45h2.7M642.03 312.81h2.7M643.59 312.53h2.7M645.16 311.06h2.7M646.72 310.59h2.7M648.28 312.43h2.7M649.84 310.34h2.7M651.40 314.08h2.7M652.96 309.89h2.7M654.52 311.17h2.7M656.08 309.43h2.7M657.64 310.57h2.7M659.20 311.84h2.7M660.76 310.78h2.7M662.32 308.37h2.7M663.88 310.40h2.7M665.44 310.03h2.7M667.00 309.40h2.7M668.56 307.70h2.7M670.13 309.79h2.7M671.69 309.47h2.7M673.25 309.57h2.7M674.81 311.35h2.7M676.37 312.79h2.7M677.93 311.03h2.7M679.49 308.80h2.7M681.05 311.57h2.7" stroke="#ff2457" stroke-width="2.7"/>
<path d="M562.23 252.66V254.62M563.79 251.57V254.70M565.35 254.39V257.83M566.91 253.76V256.35M568.47 254.02V255.79M570.03 252.47V255.11M571.59 254.38V257.33M573.15 258.76V261.95M574.72 266.98V269.57M576.28 275.02V277.04M577.84 279.68V282.26M579.40 284.02V286.46M580.96 291.93V294.53M582.52 295.61V298.38M584.08 300.24V302.09M585.64 301.19V303.36M587.20 306.86V308.25M588.76 304.22V306.84M590.32 302.78V304.53M591.88 301.02V303.97M593.44 302.67V304.37M595.00 302.52V304.63M596.56 300.99V302.61M598.12 300.53V303.44M599.69 297.19V299.76M601.25 297.10V299.87M602.81 298.67V301.35M604.37 296.01V298.04M605.93 296.51V299.47M607.49 297.48V299.16M609.05 298.35V301.97M610.61 298.70V300.70M612.17 297.25V300.52M613.73 297.32V299.22M615.29 297.95V299.56M616.85 293.61V296.25M618.41 291.65V294.03M619.97 292.53V294.45M621.53 291.60V293.41M623.10 289.38V292.01M624.66 288.82V292.00M626.22 288.87V291.82M627.78 286.94V288.65M629.34 284.09V286.18M630.90 289.13V292.65M632.46 289.21V291.01M634.02 288.75V291.44M635.58 288.93V291.89M637.14 288.40V291.74M638.70 288.48V290.28M640.26 289.25V291.22M641.82 286.85V289.44M643.38 290.28V292.00M644.94 286.87V289.25M646.51 286.89V289.06M648.07 285.85V288.20M649.63 286.80V290.11M651.19 286.91V289.01M652.75 286.15V288.65M654.31 288.03V290.47M655.87 284.39V287.35M657.43 285.79V288.41M658.99 286.91V289.59M660.55 288.68V290.75M662.11 287.15V289.32M663.67 287.24V289.24M665.23 285.68V288.27M666.79 288.12V290.95M668.35 290.48V292.31M669.91 289.20V290.82M671.48 285.23V287.28M673.04 288.82V292.10M674.60 287.87V290.79M676.16 287.67V289.81M677.72 288.82V292.08M679.28 289.37V291.79M680.84 286.72V289.57M682.40 288.42V290.39" stroke="#ff8a14" stroke-width="0.6" fill="none"/>
<path d="M562.23 253.91 L563.79 253.03 L565.35 256.07 L566.91 254.56 L568.47 254.74 L570.03 253.73 L571.59 255.63 L573.15 260.30 L574.72 268.41 L576.28 275.65 L577.84 281.42 L579.40 285.83 L580.96 293.02 L582.52 297.08 L584.08 301.19 L585.64 301.97 L587.20 307.49 L588.76 305.69 L590.32 303.41 L591.88 302.74 L593.44 303.60 L595.00 303.73 L596.56 301.93 L598.12 301.88 L599.69 298.41 L601.25 298.06 L602.81 299.63 L604.37 296.63 L605.93 298.17 L607.49 298.35 L609.05 300.16 L610.61 299.60 L612.17 298.86 L613.73 297.96 L615.29 298.86 L616.85 295.06 L618.41 292.51 L619.97 293.53 L621.53 292.57 L623.10 291.00 L624.66 290.56 L626.22 290.13 L627.78 288.00 L629.34 285.50 L630.90 290.86 L632.46 290.29 L634.02 290.52 L635.58 290.70 L637.14 290.08 L638.70 289.27 L640.26 290.38 L641.82 288.58 L643.38 291.18 L644.94 287.66 L646.51 287.74 L648.07 286.61 L649.63 288.36 L651.19 287.59 L652.75 287.64 L654.31 289.47 L655.87 285.71 L657.43 287.40 L658.99 287.83 L660.55 289.57 L662.11 288.27 L663.67 288.49 L665.23 286.85 L666.79 289.75 L668.35 291.37 L669.91 290.04 L671.48 286.21 L673.04 290.58 L674.60 289.59 L676.16 288.51 L677.72 290.27 L679.28 290.26 L680.84 288.49 L682.40 289.66" fill="none" stroke="#ff8a14" stroke-width="1.5" stroke-linejoin="round"/>
<path d="M560.88 253.91h2.7M562.44 253.03h2.7M564.00 256.07h2.7M565.56 254.56h2.7M567.12 254.74h2.7M568.68 253.73h2.7M570.24 255.63h2.7M571.80 260.30h2.7M573.37 268.41h2.7M574.93 275.65h2.7M576.49 281.42h2.7M578.05 285.83h2.7M579.61 293.02h2.7M581.17 297.08h2.7M582.73 301.19h2.7M584.29 301.97h2.7M585.85 307.49h2.7M587.41 305.69h2.7M588.97 303.41h2.7M590.53 302.74h2.7M592.09 303.60h2.7M593.65 303.73h2.7M595.21 301.93h2.7M596.77 301.88h2.7M598.34 298.41h2.7M599.90 298.06h2.7M601.46 299.63h2.7M603.02 296.63h2.7M604.58 298.17h2.7M606.14 298.35h2.7M607.70 300.16h2.7M609.26 299.60h2.7M610.82 298.86h2.7M612.38 297.96h2.7M613.94 298.86h2.7M615.50 295.06h2.7M617.06 292.51h2.7M618.62 293.53h2.7M620.18 292.57h2.7M621.75 291.00h2.7M623.31 290.56h2.7M624.87 290.13h2.7M626.43 288.00h2.7M627.99 285.50h2.7M629.55 290.86h2.7M631.11 290.29h2.7M632.67 290.52h2.7M634.23 290.70h2.7M635.79 290.08h2.7M637.35 289.27h2.7M638.91 290.38h2.7M640.47 288.58h2.7M642.03 291.18h2.7M643.59 287.66h2.7M645.16 287.74h2.7M646.72 286.61h2.7M648.28 288.36h2.7M649.84 287.59h2.7M651.40 287.64h2.7M652.96 289.47h2.7M654.52 285.71h2.7M656.08 287.40h2.7M657.64 287.83h2.7M659.20 289.57h2.7M660.76 288.27h2.7M662.32 288.49h2.7M663.88 286.85h2.7M665.44 289.75h2.7M667.00 291.37h2.7M668.56 290.04h2.7M670.13 286.21h2.7M671.69 290.58h2.7M673.25 289.59h2.7M674.81 288.51h2.7M676.37 290.27h2.7M677.93 290.26h2.7M679.49 288.49h2.7M681.05 289.66h2.7" stroke="#ff8a14" stroke-width="2.7"/>
<path d="M562.23 254.16V256.94M563.79 255.66V258.05M565.35 256.26V258.82M566.91 251.32V253.06M568.47 253.40V255.87M570.03 253.02V254.87M571.59 252.55V255.12M573.15 263.01V265.61M574.72 287.79V290.13M576.28 295.93V298.68M577.84 304.08V306.10M579.40 306.71V309.00M580.96 310.64V312.96M582.52 315.49V317.01M584.08 319.75V321.75M585.64 321.29V324.24M587.20 320.69V323.09M588.76 325.89V327.40M590.32 323.89V325.77M591.88 325.43V328.10M593.44 324.20V326.23M595.00 324.26V325.89M596.56 325.13V327.18M598.12 322.01V324.67M599.69 324.28V326.38M601.25 321.90V325.17M602.81 320.66V324.03M604.37 323.07V325.20M605.93 320.36V322.96M607.49 320.16V323.05M609.05 322.68V324.03M610.61 320.26V322.02M612.17 321.79V324.94M613.73 318.13V321.67M615.29 321.59V323.32M616.85 323.28V325.71M618.41 322.66V323.99M619.97 318.26V321.43M621.53 317.95V319.89M623.10 317.60V319.85M624.66 317.52V319.94M626.22 316.09V318.84M627.78 317.04V319.60M629.34 317.01V318.73M630.90 314.88V317.08M632.46 315.26V317.37M634.02 313.30V315.41M635.58 314.38V317.74M637.14 313.42V315.60M638.70 311.99V314.22M640.26 313.22V315.07M641.82 312.63V314.52M643.38 310.74V314.11M644.94 311.74V313.95M646.51 311.00V312.63M648.07 308.06V310.60M649.63 312.11V314.54M651.19 312.15V313.87M652.75 312.69V315.59M654.31 309.94V312.30M655.87 309.08V312.13M657.43 309.51V311.37M658.99 309.61V312.22M660.55 310.61V312.77M662.11 310.89V313.29M663.67 308.26V311.33M665.23 308.33V311.08M666.79 309.51V312.12M668.35 308.60V310.98M669.91 308.20V310.78M671.48 310.06V311.99M673.04 306.88V309.42M674.60 308.94V311.54M676.16 304.51V306.88M677.72 306.65V309.91M679.28 306.36V308.74M680.84 310.59V312.08M682.40 307.50V310.90" stroke="#4cb4ec" stroke-width="0.6" fill="none"/>
<path d="M562.23 255.59 L563.79 256.56 L565.35 257.88 L566.91 252.11 L568.47 254.72 L570.03 253.72 L571.59 253.82 L573.15 264.05 L574.72 289.21 L576.28 296.95 L577.84 304.95 L579.40 307.68 L580.96 312.21 L582.52 316.33 L584.08 320.51 L585.64 322.49 L587.20 321.84 L588.76 326.52 L590.32 324.87 L591.88 326.99 L593.44 324.98 L595.00 325.06 L596.56 326.47 L598.12 323.53 L599.69 324.96 L601.25 323.67 L602.81 322.28 L604.37 324.00 L605.93 321.87 L607.49 321.93 L609.05 323.31 L610.61 321.39 L612.17 323.13 L613.73 319.87 L615.29 322.50 L616.85 323.97 L618.41 323.30 L619.97 319.68 L621.53 319.21 L623.10 318.25 L624.66 318.96 L626.22 317.89 L627.78 317.82 L629.34 317.68 L630.90 315.70 L632.46 316.46 L634.02 314.67 L635.58 316.18 L637.14 314.28 L638.70 312.92 L640.26 314.21 L641.82 313.83 L643.38 312.55 L644.94 312.62 L646.51 311.82 L648.07 309.13 L649.63 312.80 L651.19 313.06 L652.75 313.89 L654.31 311.05 L655.87 310.88 L657.43 310.53 L658.99 310.85 L660.55 311.93 L662.11 311.51 L663.67 309.70 L665.23 309.96 L666.79 310.34 L668.35 310.30 L669.91 309.57 L671.48 310.69 L673.04 308.27 L674.60 309.86 L676.16 305.93 L677.72 308.20 L679.28 307.44 L680.84 311.31 L682.40 309.13" fill="none" stroke="#4cb4ec" stroke-width="1.5" stroke-linejoin="round"/>
<path d="M560.88 255.59h2.7M562.44 256.56h2.7M564.00 257.88h2.7M565.56 252.11h2.7M567.12 254.72h2.7M568.68 253.72h2.7M570.24 253.82h2.7M571.80 264.05h2.7M573.37 289.21h2.7M574.93 296.95h2.7M576.49 304.95h2.7M578.05 307.68h2.7M579.61 312.21h2.7M581.17 316.33h2.7M582.73 320.51h2.7M584.29 322.49h2.7M585.85 321.84h2.7M587.41 326.52h2.7M588.97 324.87h2.7M590.53 326.99h2.7M592.09 324.98h2.7M593.65 325.06h2.7M595.21 326.47h2.7M596.77 323.53h2.7M598.34 324.96h2.7M599.90 323.67h2.7M601.46 322.28h2.7M603.02 324.00h2.7M604.58 321.87h2.7M606.14 321.93h2.7M607.70 323.31h2.7M609.26 321.39h2.7M610.82 323.13h2.7M612.38 319.87h2.7M613.94 322.50h2.7M615.50 323.97h2.7M617.06 323.30h2.7M618.62 319.68h2.7M620.18 319.21h2.7M621.75 318.25h2.7M623.31 318.96h2.7M624.87 317.89h2.7M626.43 317.82h2.7M627.99 317.68h2.7M629.55 315.70h2.7M631.11 316.46h2.7M632.67 314.67h2.7M634.23 316.18h2.7M635.79 314.28h2.7M637.35 312.92h2.7M638.91 314.21h2.7M640.47 313.83h2.7M642.03 312.55h2.7M643.59 312.62h2.7M645.16 311.82h2.7M646.72 309.13h2.7M648.28 312.80h2.7M649.84 313.06h2.7M651.40 313.89h2.7M652.96 311.05h2.7M654.52 310.88h2.7M656.08 310.53h2.7M657.64 310.85h2.7M659.20 311.93h2.7M660.76 311.51h2.7M662.32 309.70h2.7M663.88 309.96h2.7M665.44 310.34h2.7M667.00 310.30h2.7M668.56 309.57h2.7M670.13 310.69h2.7M671.69 308.27h2.7M673.25 309.86h2.7M674.81 305.93h2.7M676.37 308.20h2.7M677.93 307.44h2.7M679.49 311.31h2.7M681.05 309.13h2.7" stroke="#4cb4ec" stroke-width="2.7"/>
<text x="34.40" y="398.80" font-size="15.5" font-weight="bold" text-anchor="start" fill="#000" >h</text>
<rect x="76.70" y="434.40" width="24.07" height="24.07" fill="#f9f9ff"/>
<rect x="100.77" y="434.40" width="24.07" height="24.07" fill="#ffffff"/>
<rect x="124.84" y="434.40" width="24.07" height="24.07" fill="#b1b1fc"/>
<rect x="148.91" y="434.40" width="24.07" height="24.07" fill="#a8a8fb"/>
<rect x="172.98" y="434.40" width="24.07" height="24.07" fill="#6262f9"/>
<rect x="197.05" y="434.40" width="24.07" height="24.07" fill="#0000f0"/>
<rect x="76.70" y="458.47" width="24.07" height="24.07" fill="#f9f9ff"/>
<rect x="100.77" y="458.47" width="24.07" height="24.07" fill="#fdfdff"/>
<rect x="124.84" y="458.47" width="24.07" height="24.07" fill="#adadfc"/>
<rect x="148.91" y="458.47" width="24.07" height="24.07" fill="#7878f9"/>
<rect x="172.98" y="458.47" width="24.07" height="24.07" fill="#8585f9"/>
<rect x="197.05" y="458.47" width="24.07" height="24.07" fill="#6767f6"/>
<rect x="76.70" y="482.54" width="24.07" height="24.07" fill="#ededfe"/>
<rect x="100.77" y="482.54" width="24.07" height="24.07" fill="#f0f0fe"/>
<rect x="124.84" y="482.54" width="24.07" height="24.07" fill="#d5d5fc"/>
<rect x="148.91" y="482.54" width="24.07" height="24.07" fill="#aaaafb"/>
<rect x="172.98" y="482.54" width="24.07" height="24.07" fill="#a1a1fa"/>
<rect x="197.05" y="482.54" width="24.07" height="24.07" fill="#0000f0"/>
<path d="M100.77 434.4 V506.61 M124.84 434.4 V506.61 M148.91 434.4 V506.61 M172.98 434.4 V506.61 M197.05 434.4 V506.61 M76.7 458.47 H221.12 M76.7 482.54 H221.12" stroke="#333" stroke-width="0.9" fill="none"/>
<rect x="76.7" y="434.4" width="144.42" height="72.21" fill="none" stroke="#111" stroke-width="1.3"/>
<line x1="72.70" y1="446.44" x2="76.70" y2="446.44" stroke="#000" stroke-width="1.2" />
<text x="71.70" y="451.04" font-size="10.7" font-weight="bold" text-anchor="end" fill="#000" >WNT-9B</text>
<line x1="72.70" y1="470.50" x2="76.70" y2="470.50" stroke="#000" stroke-width="1.2" />
<text x="71.70" y="475.11" font-size="10.7" font-weight="bold" text-anchor="end" fill="#000" >WNT-5A</text>
<line x1="72.70" y1="494.57" x2="76.70" y2="494.57" stroke="#000" stroke-width="1.2" />
<text x="71.70" y="499.18" font-size="10.7" font-weight="bold" text-anchor="end" fill="#000" >WNT-3A</text>
<line x1="88.73" y1="430.40" x2="88.73" y2="434.40" stroke="#000" stroke-width="1.2" />
<text x="91.03" y="429.40" font-size="11" font-weight="bold" transform="rotate(-38 91.03 429.40)">G&#945;<tspan font-size="8.5" font-weight="normal" dy="1.5">s</tspan></text>
<line x1="112.81" y1="430.40" x2="112.81" y2="434.40" stroke="#000" stroke-width="1.2" />
<text x="115.11" y="429.40" font-size="11" font-weight="bold" transform="rotate(-38 115.11 429.40)">G&#945;<tspan font-size="8.5" font-weight="normal" dy="1.5">13</tspan></text>
<line x1="136.88" y1="430.40" x2="136.88" y2="434.40" stroke="#000" stroke-width="1.2" />
<text x="139.18" y="429.40" font-size="11" font-weight="bold" transform="rotate(-38 139.18 429.40)">G&#945;<tspan font-size="8.5" font-weight="normal" dy="1.5">q</tspan></text>
<line x1="160.94" y1="430.40" x2="160.94" y2="434.40" stroke="#000" stroke-width="1.2" />
<text x="163.25" y="429.40" font-size="11" font-weight="bold" transform="rotate(-38 163.25 429.40)">G&#945;<tspan font-size="8.5" font-weight="normal" dy="1.5">i1</tspan></text>
<line x1="185.01" y1="430.40" x2="185.01" y2="434.40" stroke="#000" stroke-width="1.2" />
<text x="187.31" y="429.40" font-size="11" font-weight="bold" transform="rotate(-38 187.31 429.40)">G&#945;<tspan font-size="8.5" font-weight="normal" dy="1.5">i2</tspan></text>
<line x1="209.08" y1="430.40" x2="209.08" y2="434.40" stroke="#000" stroke-width="1.2" />
<text x="211.38" y="429.40" font-size="11" font-weight="bold" transform="rotate(-38 211.38 429.40)">G&#945;<tspan font-size="8.5" font-weight="normal" dy="1.5">i3</tspan></text>
<rect x="295.80" y="434.40" width="24.07" height="24.07" fill="#ffffff"/>
<rect x="319.87" y="434.40" width="24.07" height="24.07" fill="#fefeff"/>
<rect x="343.94" y="434.40" width="24.07" height="24.07" fill="#a9a9fb"/>
<rect x="368.01" y="434.40" width="24.07" height="24.07" fill="#3c3cf6"/>
<rect x="392.08" y="434.40" width="24.07" height="24.07" fill="#6a6af6"/>
<rect x="416.15" y="434.40" width="24.07" height="24.07" fill="#b5b5fc"/>
<rect x="295.80" y="458.47" width="24.07" height="24.07" fill="#ffffff"/>
<rect x="319.87" y="458.47" width="24.07" height="24.07" fill="#ffffff"/>
<rect x="343.94" y="458.47" width="24.07" height="24.07" fill="#0000f0"/>
<rect x="368.01" y="458.47" width="24.07" height="24.07" fill="#6b6bf6"/>
<rect x="392.08" y="458.47" width="24.07" height="24.07" fill="#3939f6"/>
<rect x="416.15" y="458.47" width="24.07" height="24.07" fill="#b9b9fc"/>
<rect x="295.80" y="482.54" width="24.07" height="24.07" fill="#fafaff"/>
<rect x="319.87" y="482.54" width="24.07" height="24.07" fill="#fcfcff"/>
<rect x="343.94" y="482.54" width="24.07" height="24.07" fill="#f9f9ff"/>
<rect x="368.01" y="482.54" width="24.07" height="24.07" fill="#eeeefe"/>
<rect x="392.08" y="482.54" width="24.07" height="24.07" fill="#dcdcfd"/>
<rect x="416.15" y="482.54" width="24.07" height="24.07" fill="#b9b9fc"/>
<path d="M319.87 434.4 V506.61 M343.94 434.4 V506.61 M368.01 434.4 V506.61 M392.08 434.4 V506.61 M416.15 434.4 V506.61 M295.8 458.47 H440.22 M295.8 482.54 H440.22" stroke="#333" stroke-width="0.9" fill="none"/>
<rect x="295.8" y="434.4" width="144.42" height="72.21" fill="none" stroke="#111" stroke-width="1.3"/>
<line x1="291.80" y1="446.44" x2="295.80" y2="446.44" stroke="#000" stroke-width="1.2" />
<text x="290.80" y="451.04" font-size="10.7" font-weight="bold" text-anchor="end" fill="#000" >WNT-9B</text>
<line x1="291.80" y1="470.50" x2="295.80" y2="470.50" stroke="#000" stroke-width="1.2" />
<text x="290.80" y="475.11" font-size="10.7" font-weight="bold" text-anchor="end" fill="#000" >WNT-5A</text>
<line x1="291.80" y1="494.57" x2="295.80" y2="494.57" stroke="#000" stroke-width="1.2" />
<text x="290.80" y="499.18" font-size="10.7" font-weight="bold" text-anchor="end" fill="#000" >WNT-3A</text>
<line x1="307.84" y1="430.40" x2="307.84" y2="434.40" stroke="#000" stroke-width="1.2" />
<text x="310.14" y="429.40" font-size="11" font-weight="bold" transform="rotate(-38 310.14 429.40)">G&#945;<tspan font-size="8.5" font-weight="normal" dy="1.5">s</tspan></text>
<line x1="331.91" y1="430.40" x2="331.91" y2="434.40" stroke="#000" stroke-width="1.2" />
<text x="334.21" y="429.40" font-size="11" font-weight="bold" transform="rotate(-38 334.21 429.40)">G&#945;<tspan font-size="8.5" font-weight="normal" dy="1.5">13</tspan></text>
<line x1="355.98" y1="430.40" x2="355.98" y2="434.40" stroke="#000" stroke-width="1.2" />
<text x="358.28" y="429.40" font-size="11" font-weight="bold" transform="rotate(-38 358.28 429.40)">G&#945;<tspan font-size="8.5" font-weight="normal" dy="1.5">q</tspan></text>
<line x1="380.05" y1="430.40" x2="380.05" y2="434.40" stroke="#000" stroke-width="1.2" />
<text x="382.35" y="429.40" font-size="11" font-weight="bold" transform="rotate(-38 382.35 429.40)">G&#945;<tspan font-size="8.5" font-weight="normal" dy="1.5">i1</tspan></text>
<line x1="404.12" y1="430.40" x2="404.12" y2="434.40" stroke="#000" stroke-width="1.2" />
<text x="406.42" y="429.40" font-size="11" font-weight="bold" transform="rotate(-38 406.42 429.40)">G&#945;<tspan font-size="8.5" font-weight="normal" dy="1.5">i2</tspan></text>
<line x1="428.19" y1="430.40" x2="428.19" y2="434.40" stroke="#000" stroke-width="1.2" />
<text x="430.49" y="429.40" font-size="11" font-weight="bold" transform="rotate(-38 430.49 429.40)">G&#945;<tspan font-size="8.5" font-weight="normal" dy="1.5">i3</tspan></text>
<defs><linearGradient id="cb" x1="0" x2="1" y1="0" y2="0"><stop offset="0" stop-color="#ffffff"/><stop offset="1" stop-color="#0000f0"/></linearGradient></defs>
<rect x="76" y="518.2" width="146" height="12.5" fill="url(#cb)" stroke="#111" stroke-width="1.1"/>
<line x1="121.80" y1="518.20" x2="121.80" y2="520.50" stroke="#333" stroke-width="1" />
<line x1="121.80" y1="528.40" x2="121.80" y2="530.70" stroke="#333" stroke-width="1" />
<text x="121.80" y="545.50" font-size="10.5" font-weight="bold" text-anchor="middle" fill="#000" >50</text>
<line x1="167.60" y1="518.20" x2="167.60" y2="520.50" stroke="#333" stroke-width="1" />
<line x1="167.60" y1="528.40" x2="167.60" y2="530.70" stroke="#333" stroke-width="1" />
<text x="167.60" y="545.50" font-size="10.5" font-weight="bold" text-anchor="middle" fill="#000" >100</text>
<line x1="213.00" y1="518.20" x2="213.00" y2="520.50" stroke="#333" stroke-width="1" />
<line x1="213.00" y1="528.40" x2="213.00" y2="530.70" stroke="#333" stroke-width="1" />
<text x="213.00" y="545.50" font-size="10.5" font-weight="bold" text-anchor="middle" fill="#000" >150</text>
<rect x="295.8" y="518.2" width="145.0" height="12.5" fill="url(#cb)" stroke="#111" stroke-width="1.1"/>
<line x1="346.80" y1="518.20" x2="346.80" y2="520.50" stroke="#333" stroke-width="1" />
<line x1="346.80" y1="528.40" x2="346.80" y2="530.70" stroke="#333" stroke-width="1" />
<text x="346.80" y="545.50" font-size="10.5" font-weight="bold" text-anchor="middle" fill="#000" >5</text>
<line x1="397.90" y1="518.20" x2="397.90" y2="520.50" stroke="#333" stroke-width="1" />
<line x1="397.90" y1="528.40" x2="397.90" y2="530.70" stroke="#333" stroke-width="1" />
<text x="397.90" y="545.50" font-size="10.5" font-weight="bold" text-anchor="middle" fill="#000" >10</text>
<text x="73.50" y="528.80" font-size="10" font-weight="bold" text-anchor="end" fill="#000" >AUC</text>
<text x="292" y="528.8" font-size="10" font-weight="bold" text-anchor="end"><tspan font-style="italic">k</tspan> (min<tspan font-size="7" dy="-3.5">-1</tspan><tspan dy="3.5">)</tspan></text>
<text x="492.40" y="400.90" font-size="16" font-weight="bold" text-anchor="start" fill="#000" >i</text>
<text x="585.00" y="407.50" font-size="12" font-weight="bold" text-anchor="middle" fill="#000" >G&#945;<tspan font-size="8.5" dy="3">i3</tspan><tspan dy="-3">-CASE</tspan></text>
<path d="M520.0 415.60 H524.8 V511.6 H533.2" fill="none" stroke="#000" stroke-width="2.2"/>
<line x1="520.00" y1="505.20" x2="524.80" y2="505.20" stroke="#000" stroke-width="2.2" />
<text x="518.50" y="509.70" font-size="10.5" font-weight="bold" text-anchor="end" fill="#000" >0</text>
<line x1="520.00" y1="482.80" x2="524.80" y2="482.80" stroke="#000" stroke-width="2.2" />
<text x="518.50" y="487.30" font-size="10.5" font-weight="bold" text-anchor="end" fill="#000" >10</text>
<line x1="520.00" y1="460.40" x2="524.80" y2="460.40" stroke="#000" stroke-width="2.2" />
<text x="518.50" y="464.90" font-size="10.5" font-weight="bold" text-anchor="end" fill="#000" >20</text>
<line x1="520.00" y1="438.00" x2="524.80" y2="438.00" stroke="#000" stroke-width="2.2" />
<text x="518.50" y="442.50" font-size="10.5" font-weight="bold" text-anchor="end" fill="#000" >30</text>
<line x1="520.00" y1="415.60" x2="524.80" y2="415.60" stroke="#000" stroke-width="2.2" />
<text x="518.50" y="420.10" font-size="10.5" font-weight="bold" text-anchor="end" fill="#000" >40</text>
<line x1="533.20" y1="509.80" x2="533.20" y2="514.60" stroke="#000" stroke-width="2.2" />
<line x1="539.60" y1="509.80" x2="539.60" y2="514.60" stroke="#000" stroke-width="2.2" />
<line x1="539.60" y1="511.60" x2="645.00" y2="511.60" stroke="#000" stroke-width="2.2" />
<text x="539.70" y="528.30" font-size="10.5" font-weight="bold" text-anchor="middle" fill="#000" >0</text>
<line x1="565.95" y1="511.60" x2="565.95" y2="518.30" stroke="#000" stroke-width="2.2" />
<text x="565.95" y="528.30" font-size="10.5" font-weight="bold" text-anchor="middle" fill="#000" >1</text>
<line x1="592.20" y1="511.60" x2="592.20" y2="518.30" stroke="#000" stroke-width="2.2" />
<text x="592.20" y="528.30" font-size="10.5" font-weight="bold" text-anchor="middle" fill="#000" >2</text>
<line x1="618.45" y1="511.60" x2="618.45" y2="518.30" stroke="#000" stroke-width="2.2" />
<text x="618.45" y="528.30" font-size="10.5" font-weight="bold" text-anchor="middle" fill="#000" >3</text>
<line x1="644.70" y1="511.60" x2="644.70" y2="518.30" stroke="#000" stroke-width="2.2" />
<text x="644.70" y="528.30" font-size="10.5" font-weight="bold" text-anchor="middle" fill="#000" >4</text>
<text x="585.50" y="544.30" font-size="12" font-weight="bold" text-anchor="middle" fill="#000" >log[WNT-9B] (ng/ml)</text>
<text x="500.60" y="461.00" font-size="11.8" font-weight="bold" text-anchor="middle" fill="#000" transform="rotate(-90 500.6 461)">Max &#916;BRET (%)</text>
<text x="527.80" y="526.50" font-size="11" font-weight="bold" text-anchor="end" fill="#000" transform="rotate(-40 527.8 526.5)">Vehicle</text>
<text x="531.00" y="441.30" font-size="9.5" font-weight="bold" text-anchor="start" fill="#000" letter-spacing="-0.1">EC<tspan font-size="7.5" dy="2">50</tspan><tspan dy="-2"> = 405.6 ng/ml</tspan></text>
<path d="M539.70 505.04 L541.00 505.02 L542.30 505.00 L543.59 504.98 L544.89 504.95 L546.19 504.92 L547.49 504.89 L548.78 504.85 L550.08 504.81 L551.38 504.76 L552.68 504.71 L553.97 504.65 L555.27 504.58 L556.57 504.51 L557.87 504.42 L559.16 504.33 L560.46 504.23 L561.76 504.11 L563.06 503.98 L564.35 503.84 L565.65 503.67 L566.95 503.49 L568.25 503.29 L569.54 503.07 L570.84 502.82 L572.14 502.54 L573.44 502.23 L574.73 501.88 L576.03 501.50 L577.33 501.08 L578.62 500.60 L579.92 500.08 L581.22 499.50 L582.52 498.87 L583.82 498.16 L585.11 497.39 L586.41 496.54 L587.71 495.61 L589.00 494.59 L590.30 493.48 L591.60 492.27 L592.90 490.95 L594.20 489.54 L595.49 488.01 L596.79 486.37 L598.09 484.63 L599.38 482.77 L600.68 480.80 L601.98 478.73 L603.28 476.56 L604.58 474.29 L605.87 471.95 L607.17 469.54 L608.47 467.07 L609.77 464.56 L611.06 462.02 L612.36 459.47 L613.66 456.93 L614.96 454.41 L616.25 451.93 L617.55 449.50 L618.85 447.13 L620.14 444.85 L621.44 442.65 L622.74 440.55 L624.04 438.56 L625.34 436.67 L626.63 434.89 L627.93 433.22 L629.23 431.67 L630.53 430.22" fill="none" stroke="#4cb4ec" stroke-width="1.3"/>
<line x1="524.80" y1="505.10" x2="531.00" y2="505.10" stroke="#4cb4ec" stroke-width="1.3" />
<circle cx="524.80" cy="505.20" r="2.3" fill="#4cb4ec"/>
<circle cx="565.95" cy="505.20" r="2.3" fill="#4cb4ec"/>
<circle cx="579.08" cy="505.20" r="2.3" fill="#4cb4ec"/>
<circle cx="592.20" cy="492.88" r="2.3" fill="#4cb4ec"/>
<circle cx="605.33" cy="470.48" r="2.3" fill="#4cb4ec"/>
<circle cx="618.45" cy="437.55" r="2.3" fill="#4cb4ec"/>
<circle cx="631.58" cy="437.55" r="2.3" fill="#4cb4ec"/>
<text x="51.50" y="619.20" font-size="16" font-weight="bold" text-anchor="start" fill="#000" >j</text>
<text x="155.50" y="624.00" font-size="12" font-weight="bold" text-anchor="middle" fill="#000" >G&#945;<tspan font-size="8.5" dy="3">i3</tspan><tspan dy="-3">-CASE</tspan></text>
<line x1="76.00" y1="641.40" x2="86.00" y2="641.40" stroke="#8a8a8e" stroke-width="1.3" />
<circle cx="81" cy="641.4" r="1.6" fill="#8a8a8e"/>
<text x="91.50" y="645.00" font-size="9.5" font-weight="bold" text-anchor="start" fill="#000" >Control</text>
<line x1="131.40" y1="641.40" x2="141.40" y2="641.40" stroke="#3fb2ea" stroke-width="1.3" />
<circle cx="136.4" cy="641.4" r="1.6" fill="#3fb2ea"/>
<text x="146.70" y="645.00" font-size="9.5" font-weight="bold" text-anchor="start" fill="#000" >PKD1<tspan font-size="7" dy="-3.5">WT</tspan></text>
<line x1="188.70" y1="641.40" x2="198.70" y2="641.40" stroke="#ec2a2a" stroke-width="1.3" />
<circle cx="193.7" cy="641.4" r="1.6" fill="#ec2a2a"/>
<text x="204.60" y="645.00" font-size="9.5" font-weight="bold" text-anchor="start" fill="#000" >PKD1<tspan font-size="7" dy="-3.5">KO</tspan></text>
<line x1="110.50" y1="656.70" x2="120.50" y2="656.70" stroke="#9333d8" stroke-width="1.3" />
<circle cx="115.5" cy="656.7" r="1.6" fill="#9333d8"/>
<text x="126.40" y="660.30" font-size="9.5" font-weight="bold" text-anchor="start" fill="#000" >PKD1<tspan font-size="7" dy="-3.5">KO</tspan><tspan dy="3.5">+PKD1</tspan><tspan font-size="7" dy="-3.5">WT</tspan></text>
<path d="M90.2 658.10 H94.7 V754.60 H215.6" fill="none" stroke="#000" stroke-width="2"/>
<line x1="90.20" y1="658.10" x2="94.70" y2="658.10" stroke="#000" stroke-width="2" />
<text x="89.50" y="662.10" font-size="10.5" font-weight="bold" text-anchor="end" fill="#000" >10</text>
<line x1="90.20" y1="677.40" x2="94.70" y2="677.40" stroke="#000" stroke-width="2" />
<text x="89.50" y="681.40" font-size="10.5" font-weight="bold" text-anchor="end" fill="#000" >0</text>
<line x1="90.20" y1="696.70" x2="94.70" y2="696.70" stroke="#000" stroke-width="2" />
<text x="89.50" y="700.70" font-size="10.5" font-weight="bold" text-anchor="end" fill="#000" >-10</text>
<line x1="90.20" y1="716.00" x2="94.70" y2="716.00" stroke="#000" stroke-width="2" />
<text x="89.50" y="720.00" font-size="10.5" font-weight="bold" text-anchor="end" fill="#000" >-20</text>
<line x1="90.20" y1="735.30" x2="94.70" y2="735.30" stroke="#000" stroke-width="2" />
<text x="89.50" y="739.30" font-size="10.5" font-weight="bold" text-anchor="end" fill="#000" >-30</text>
<line x1="90.20" y1="754.60" x2="94.70" y2="754.60" stroke="#000" stroke-width="2" />
<text x="89.50" y="758.60" font-size="10.5" font-weight="bold" text-anchor="end" fill="#000" >-40</text>
<line x1="109.40" y1="754.60" x2="109.40" y2="759.10" stroke="#000" stroke-width="2" />
<text x="109.40" y="771.60" font-size="10.5" font-weight="bold" text-anchor="middle" fill="#000" >0</text>
<line x1="135.95" y1="754.60" x2="135.95" y2="759.10" stroke="#000" stroke-width="2" />
<text x="135.95" y="771.60" font-size="10.5" font-weight="bold" text-anchor="middle" fill="#000" >2</text>
<line x1="162.50" y1="754.60" x2="162.50" y2="759.10" stroke="#000" stroke-width="2" />
<text x="162.50" y="771.60" font-size="10.5" font-weight="bold" text-anchor="middle" fill="#000" >4</text>
<line x1="189.05" y1="754.60" x2="189.05" y2="759.10" stroke="#000" stroke-width="2" />
<text x="189.05" y="771.60" font-size="10.5" font-weight="bold" text-anchor="middle" fill="#000" >6</text>
<line x1="215.60" y1="754.60" x2="215.60" y2="759.10" stroke="#000" stroke-width="2" />
<text x="215.60" y="771.60" font-size="10.5" font-weight="bold" text-anchor="middle" fill="#000" >8</text>
<text x="155.50" y="787.00" font-size="11.8" font-weight="bold" text-anchor="middle" fill="#000" >Time (min)</text>
<text x="68.30" y="705.00" font-size="11.8" font-weight="bold" text-anchor="middle" fill="#000" transform="rotate(-90 68.3 705)">&#916;BRET (%)</text>
<line x1="94.7" y1="677.4" x2="214.5" y2="677.4" stroke="#000" stroke-width="1" stroke-dasharray="1.2 1.8"/>
<path d="M95.46 674.91V678.06M94.26 674.91h2.4M94.26 678.06h2.4M99.05 674.52V677.96M97.85 674.52h2.4M97.85 677.96h2.4M102.64 676.34V679.16M101.44 676.34h2.4M101.44 679.16h2.4M106.23 676.67V679.18M105.03 676.67h2.4M105.03 679.18h2.4M109.81 690.60V694.83M108.61 690.60h2.4M108.61 694.83h2.4M113.40 700.08V703.00M112.20 700.08h2.4M112.20 703.00h2.4M116.99 698.50V702.56M115.79 698.50h2.4M115.79 702.56h2.4M120.58 698.48V701.35M119.38 698.48h2.4M119.38 701.35h2.4M124.17 695.99V700.44M122.97 695.99h2.4M122.97 700.44h2.4M127.76 694.34V698.63M126.56 694.34h2.4M126.56 698.63h2.4M131.35 692.80V696.81M130.15 692.80h2.4M130.15 696.81h2.4M134.93 692.60V696.62M133.73 692.60h2.4M133.73 696.62h2.4M138.52 692.52V696.16M137.32 692.52h2.4M137.32 696.16h2.4M142.11 691.91V695.86M140.91 691.91h2.4M140.91 695.86h2.4M145.70 691.92V694.60M144.50 691.92h2.4M144.50 694.60h2.4M149.29 691.79V695.21M148.09 691.79h2.4M148.09 695.21h2.4M152.88 690.62V694.77M151.68 690.62h2.4M151.68 694.77h2.4M156.46 690.78V693.63M155.26 690.78h2.4M155.26 693.63h2.4M160.05 688.80V693.16M158.85 688.80h2.4M158.85 693.16h2.4M163.64 689.67V693.95M162.44 689.67h2.4M162.44 693.95h2.4M167.23 689.23V692.51M166.03 689.23h2.4M166.03 692.51h2.4M170.82 690.33V693.53M169.62 690.33h2.4M169.62 693.53h2.4M174.41 688.73V692.11M173.21 688.73h2.4M173.21 692.11h2.4M177.99 689.10V692.34M176.79 689.10h2.4M176.79 692.34h2.4M181.58 688.82V693.33M180.38 688.82h2.4M180.38 693.33h2.4M185.17 689.01V692.25M183.97 689.01h2.4M183.97 692.25h2.4M188.76 688.67V691.16M187.56 688.67h2.4M187.56 691.16h2.4M192.35 689.02V691.65M191.15 689.02h2.4M191.15 691.65h2.4M195.94 687.06V690.99M194.74 687.06h2.4M194.74 690.99h2.4M199.52 686.03V690.53M198.32 686.03h2.4M198.32 690.53h2.4M203.11 686.19V689.65M201.91 686.19h2.4M201.91 689.65h2.4M206.70 686.37V689.83M205.50 686.37h2.4M205.50 689.83h2.4M210.29 688.40V691.97M209.09 688.40h2.4M209.09 691.97h2.4" stroke="#ec2a2a" stroke-width="0.8" fill="none"/>
<path d="M95.46 676.49 L99.05 676.24 L102.64 677.75 L106.23 677.93 L109.81 692.71 L113.40 701.54 L116.99 700.53 L120.58 699.91 L124.17 698.22 L127.76 696.49 L131.35 694.80 L134.93 694.61 L138.52 694.34 L142.11 693.89 L145.70 693.26 L149.29 693.50 L152.88 692.69 L156.46 692.20 L160.05 690.98 L163.64 691.81 L167.23 690.87 L170.82 691.93 L174.41 690.42 L177.99 690.72 L181.58 691.08 L185.17 690.63 L188.76 689.91 L192.35 690.33 L195.94 689.02 L199.52 688.28 L203.11 687.92 L206.70 688.10 L210.29 690.19" fill="none" stroke="#ec2a2a" stroke-width="1.5"/>
<path d="M94.16 676.49h2.6M97.75 676.24h2.6M101.34 677.75h2.6M104.93 677.93h2.6M108.51 692.71h2.6M112.10 701.54h2.6M115.69 700.53h2.6M119.28 699.91h2.6M122.87 698.22h2.6M126.46 696.49h2.6M130.05 694.80h2.6M133.63 694.61h2.6M137.22 694.34h2.6M140.81 693.89h2.6M144.40 693.26h2.6M147.99 693.50h2.6M151.58 692.69h2.6M155.16 692.20h2.6M158.75 690.98h2.6M162.34 691.81h2.6M165.93 690.87h2.6M169.52 691.93h2.6M173.11 690.42h2.6M176.69 690.72h2.6M180.28 691.08h2.6M183.87 690.63h2.6M187.46 689.91h2.6M191.05 690.33h2.6M194.64 689.02h2.6M198.22 688.28h2.6M201.81 687.92h2.6M205.40 688.10h2.6M208.99 690.19h2.6" stroke="#ec2a2a" stroke-width="2.6"/>
<path d="M95.46 673.95V679.36M94.26 673.95h2.4M94.26 679.36h2.4M99.05 674.91V679.54M97.85 674.91h2.4M97.85 679.54h2.4M102.64 673.15V676.48M101.44 673.15h2.4M101.44 676.48h2.4M106.23 674.45V679.53M105.03 674.45h2.4M105.03 679.53h2.4M109.81 692.56V697.24M108.61 692.56h2.4M108.61 697.24h2.4M113.40 709.29V712.73M112.20 709.29h2.4M112.20 712.73h2.4M116.99 710.18V713.28M115.79 710.18h2.4M115.79 713.28h2.4M120.58 708.35V712.68M119.38 708.35h2.4M119.38 712.68h2.4M124.17 707.10V710.16M122.97 707.10h2.4M122.97 710.16h2.4M127.76 706.08V711.41M126.56 706.08h2.4M126.56 711.41h2.4M131.35 705.15V709.42M130.15 705.15h2.4M130.15 709.42h2.4M134.93 705.29V709.58M133.73 705.29h2.4M133.73 709.58h2.4M138.52 705.93V709.94M137.32 705.93h2.4M137.32 709.94h2.4M142.11 704.65V709.31M140.91 704.65h2.4M140.91 709.31h2.4M145.70 703.37V708.68M144.50 703.37h2.4M144.50 708.68h2.4M149.29 704.33V708.09M148.09 704.33h2.4M148.09 708.09h2.4M152.88 702.58V706.51M151.68 702.58h2.4M151.68 706.51h2.4M156.46 702.15V706.61M155.26 702.15h2.4M155.26 706.61h2.4M160.05 701.33V705.06M158.85 701.33h2.4M158.85 705.06h2.4M163.64 702.00V706.49M162.44 702.00h2.4M162.44 706.49h2.4M167.23 701.56V705.92M166.03 701.56h2.4M166.03 705.92h2.4M170.82 701.08V705.16M169.62 701.08h2.4M169.62 705.16h2.4M174.41 700.61V705.29M173.21 700.61h2.4M173.21 705.29h2.4M177.99 701.86V706.18M176.79 701.86h2.4M176.79 706.18h2.4M181.58 700.36V703.55M180.38 700.36h2.4M180.38 703.55h2.4M185.17 700.46V705.97M183.97 700.46h2.4M183.97 705.97h2.4M188.76 699.72V703.60M187.56 699.72h2.4M187.56 703.60h2.4M192.35 700.71V704.78M191.15 700.71h2.4M191.15 704.78h2.4M195.94 700.89V704.89M194.74 700.89h2.4M194.74 704.89h2.4M199.52 700.85V706.19M198.32 700.85h2.4M198.32 706.19h2.4M203.11 700.04V705.43M201.91 700.04h2.4M201.91 705.43h2.4M206.70 698.64V702.92M205.50 698.64h2.4M205.50 702.92h2.4M210.29 700.75V704.74M209.09 700.75h2.4M209.09 704.74h2.4" stroke="#8a8a8e" stroke-width="0.8" fill="none"/>
<path d="M95.46 676.66 L99.05 677.22 L102.64 674.81 L106.23 676.99 L109.81 694.90 L113.40 711.01 L116.99 711.73 L120.58 710.51 L124.17 708.63 L127.76 708.75 L131.35 707.28 L134.93 707.43 L138.52 707.93 L142.11 706.98 L145.70 706.03 L149.29 706.21 L152.88 704.54 L156.46 704.38 L160.05 703.20 L163.64 704.24 L167.23 703.74 L170.82 703.12 L174.41 702.95 L177.99 704.02 L181.58 701.96 L185.17 703.21 L188.76 701.66 L192.35 702.75 L195.94 702.89 L199.52 703.52 L203.11 702.73 L206.70 700.78 L210.29 702.75" fill="none" stroke="#8a8a8e" stroke-width="1.5"/>
<path d="M94.16 676.66h2.6M97.75 677.22h2.6M101.34 674.81h2.6M104.93 676.99h2.6M108.51 694.90h2.6M112.10 711.01h2.6M115.69 711.73h2.6M119.28 710.51h2.6M122.87 708.63h2.6M126.46 708.75h2.6M130.05 707.28h2.6M133.63 707.43h2.6M137.22 707.93h2.6M140.81 706.98h2.6M144.40 706.03h2.6M147.99 706.21h2.6M151.58 704.54h2.6M155.16 704.38h2.6M158.75 703.20h2.6M162.34 704.24h2.6M165.93 703.74h2.6M169.52 703.12h2.6M173.11 702.95h2.6M176.69 704.02h2.6M180.28 701.96h2.6M183.87 703.21h2.6M187.46 701.66h2.6M191.05 702.75h2.6M194.64 702.89h2.6M198.22 703.52h2.6M201.81 702.73h2.6M205.40 700.78h2.6M208.99 702.75h2.6" stroke="#8a8a8e" stroke-width="2.6"/>
<path d="M95.46 673.70V678.17M94.26 673.70h2.4M94.26 678.17h2.4M99.05 676.37V680.48M97.85 676.37h2.4M97.85 680.48h2.4M102.64 675.44V680.05M101.44 675.44h2.4M101.44 680.05h2.4M106.23 676.70V680.14M105.03 676.70h2.4M105.03 680.14h2.4M109.81 694.88V698.31M108.61 694.88h2.4M108.61 698.31h2.4M113.40 710.93V714.73M112.20 710.93h2.4M112.20 714.73h2.4M116.99 716.18V721.23M115.79 716.18h2.4M115.79 721.23h2.4M120.58 719.88V723.35M119.38 719.88h2.4M119.38 723.35h2.4M124.17 719.33V722.59M122.97 719.33h2.4M122.97 722.59h2.4M127.76 716.76V719.99M126.56 716.76h2.4M126.56 719.99h2.4M131.35 715.49V718.56M130.15 715.49h2.4M130.15 718.56h2.4M134.93 713.24V716.91M133.73 713.24h2.4M133.73 716.91h2.4M138.52 711.80V716.23M137.32 711.80h2.4M137.32 716.23h2.4M142.11 710.16V715.22M140.91 710.16h2.4M140.91 715.22h2.4M145.70 711.70V715.51M144.50 711.70h2.4M144.50 715.51h2.4M149.29 712.36V716.27M148.09 712.36h2.4M148.09 716.27h2.4M152.88 711.74V715.45M151.68 711.74h2.4M151.68 715.45h2.4M156.46 709.60V713.35M155.26 709.60h2.4M155.26 713.35h2.4M160.05 708.01V712.97M158.85 708.01h2.4M158.85 712.97h2.4M163.64 707.15V711.52M162.44 707.15h2.4M162.44 711.52h2.4M167.23 707.15V710.78M166.03 707.15h2.4M166.03 710.78h2.4M170.82 708.04V711.29M169.62 708.04h2.4M169.62 711.29h2.4M174.41 706.45V711.42M173.21 706.45h2.4M173.21 711.42h2.4M177.99 706.52V711.29M176.79 706.52h2.4M176.79 711.29h2.4M181.58 704.69V709.77M180.38 704.69h2.4M180.38 709.77h2.4M185.17 705.92V709.50M183.97 705.92h2.4M183.97 709.50h2.4M188.76 705.12V709.48M187.56 705.12h2.4M187.56 709.48h2.4M192.35 705.07V710.38M191.15 705.07h2.4M191.15 710.38h2.4M195.94 705.47V709.95M194.74 705.47h2.4M194.74 709.95h2.4M199.52 704.30V709.68M198.32 704.30h2.4M198.32 709.68h2.4M203.11 704.67V708.07M201.91 704.67h2.4M201.91 708.07h2.4M206.70 702.83V708.28M205.50 702.83h2.4M205.50 708.28h2.4M210.29 704.89V708.00M209.09 704.89h2.4M209.09 708.00h2.4" stroke="#9333d8" stroke-width="0.8" fill="none"/>
<path d="M95.46 675.93 L99.05 678.43 L102.64 677.74 L106.23 678.42 L109.81 696.60 L113.40 712.83 L116.99 718.70 L120.58 721.61 L124.17 720.96 L127.76 718.38 L131.35 717.03 L134.93 715.07 L138.52 714.02 L142.11 712.69 L145.70 713.61 L149.29 714.32 L152.88 713.60 L156.46 711.47 L160.05 710.49 L163.64 709.33 L167.23 708.96 L170.82 709.67 L174.41 708.93 L177.99 708.91 L181.58 707.23 L185.17 707.71 L188.76 707.30 L192.35 707.72 L195.94 707.71 L199.52 706.99 L203.11 706.37 L206.70 705.56 L210.29 706.45" fill="none" stroke="#9333d8" stroke-width="1.5"/>
<path d="M94.16 675.93h2.6M97.75 678.43h2.6M101.34 677.74h2.6M104.93 678.42h2.6M108.51 696.60h2.6M112.10 712.83h2.6M115.69 718.70h2.6M119.28 721.61h2.6M122.87 720.96h2.6M126.46 718.38h2.6M130.05 717.03h2.6M133.63 715.07h2.6M137.22 714.02h2.6M140.81 712.69h2.6M144.40 713.61h2.6M147.99 714.32h2.6M151.58 713.60h2.6M155.16 711.47h2.6M158.75 710.49h2.6M162.34 709.33h2.6M165.93 708.96h2.6M169.52 709.67h2.6M173.11 708.93h2.6M176.69 708.91h2.6M180.28 707.23h2.6M183.87 707.71h2.6M187.46 707.30h2.6M191.05 707.72h2.6M194.64 707.71h2.6M198.22 706.99h2.6M201.81 706.37h2.6M205.40 705.56h2.6M208.99 706.45h2.6" stroke="#9333d8" stroke-width="2.6"/>
<path d="M95.46 673.76V675.77M94.26 673.76h2.4M94.26 675.77h2.4M99.05 675.51V677.56M97.85 675.51h2.4M97.85 677.56h2.4M102.64 674.07V677.04M101.44 674.07h2.4M101.44 677.04h2.4M106.23 673.62V676.81M105.03 673.62h2.4M105.03 676.81h2.4M109.81 699.21V702.43M108.61 699.21h2.4M108.61 702.43h2.4M113.40 719.33V722.83M112.20 719.33h2.4M112.20 722.83h2.4M116.99 726.40V729.68M115.79 726.40h2.4M115.79 729.68h2.4M120.58 730.15V732.48M119.38 730.15h2.4M119.38 732.48h2.4M124.17 731.73V734.83M122.97 731.73h2.4M122.97 734.83h2.4M127.76 732.41V735.81M126.56 732.41h2.4M126.56 735.81h2.4M131.35 734.14V736.18M130.15 734.14h2.4M130.15 736.18h2.4M134.93 734.11V736.80M133.73 734.11h2.4M133.73 736.80h2.4M138.52 733.97V736.11M137.32 733.97h2.4M137.32 736.11h2.4M142.11 731.96V734.08M140.91 731.96h2.4M140.91 734.08h2.4M145.70 730.66V733.33M144.50 730.66h2.4M144.50 733.33h2.4M149.29 729.57V732.55M148.09 729.57h2.4M148.09 732.55h2.4M152.88 730.08V733.55M151.68 730.08h2.4M151.68 733.55h2.4M156.46 728.79V730.89M155.26 728.79h2.4M155.26 730.89h2.4M160.05 727.69V730.41M158.85 727.69h2.4M158.85 730.41h2.4M163.64 727.23V730.74M162.44 727.23h2.4M162.44 730.74h2.4M167.23 726.70V729.84M166.03 726.70h2.4M166.03 729.84h2.4M170.82 724.49V727.24M169.62 724.49h2.4M169.62 727.24h2.4M174.41 724.66V726.94M173.21 724.66h2.4M173.21 726.94h2.4M177.99 723.82V726.73M176.79 723.82h2.4M176.79 726.73h2.4M181.58 723.39V725.70M180.38 723.39h2.4M180.38 725.70h2.4M185.17 722.50V725.44M183.97 722.50h2.4M183.97 725.44h2.4M188.76 722.78V725.72M187.56 722.78h2.4M187.56 725.72h2.4M192.35 722.31V724.84M191.15 722.31h2.4M191.15 724.84h2.4M195.94 722.85V726.03M194.74 722.85h2.4M194.74 726.03h2.4M199.52 722.67V725.22M198.32 722.67h2.4M198.32 725.22h2.4M203.11 721.21V723.86M201.91 721.21h2.4M201.91 723.86h2.4M206.70 722.07V725.31M205.50 722.07h2.4M205.50 725.31h2.4M210.29 721.52V723.82M209.09 721.52h2.4M209.09 723.82h2.4" stroke="#3fb2ea" stroke-width="0.8" fill="none"/>
<path d="M95.46 674.76 L99.05 676.53 L102.64 675.55 L106.23 675.21 L109.81 700.82 L113.40 721.08 L116.99 728.04 L120.58 731.32 L124.17 733.28 L127.76 734.11 L131.35 735.16 L134.93 735.46 L138.52 735.04 L142.11 733.02 L145.70 732.00 L149.29 731.06 L152.88 731.81 L156.46 729.84 L160.05 729.05 L163.64 728.99 L167.23 728.27 L170.82 725.87 L174.41 725.80 L177.99 725.28 L181.58 724.55 L185.17 723.97 L188.76 724.25 L192.35 723.57 L195.94 724.44 L199.52 723.95 L203.11 722.53 L206.70 723.69 L210.29 722.67" fill="none" stroke="#3fb2ea" stroke-width="1.5"/>
<path d="M94.16 674.76h2.6M97.75 676.53h2.6M101.34 675.55h2.6M104.93 675.21h2.6M108.51 700.82h2.6M112.10 721.08h2.6M115.69 728.04h2.6M119.28 731.32h2.6M122.87 733.28h2.6M126.46 734.11h2.6M130.05 735.16h2.6M133.63 735.46h2.6M137.22 735.04h2.6M140.81 733.02h2.6M144.40 732.00h2.6M147.99 731.06h2.6M151.58 731.81h2.6M155.16 729.84h2.6M158.75 729.05h2.6M162.34 728.99h2.6M165.93 728.27h2.6M169.52 725.87h2.6M173.11 725.80h2.6M176.69 725.28h2.6M180.28 724.55h2.6M183.87 723.97h2.6M187.46 724.25h2.6M191.05 723.57h2.6M194.64 724.44h2.6M198.22 723.95h2.6M201.81 722.53h2.6M205.40 723.69h2.6M208.99 722.67h2.6" stroke="#3fb2ea" stroke-width="2.6"/>
<path d="M311.8 660.40 H316.3 V756.6 H413.3" fill="none" stroke="#000" stroke-width="2"/>
<line x1="311.80" y1="756.60" x2="316.30" y2="756.60" stroke="#000" stroke-width="2" />
<text x="310.50" y="760.80" font-size="10.8" font-weight="bold" text-anchor="end" fill="#000" >0</text>
<line x1="311.80" y1="732.55" x2="316.30" y2="732.55" stroke="#000" stroke-width="2" />
<text x="310.50" y="736.75" font-size="10.8" font-weight="bold" text-anchor="end" fill="#000" >50</text>
<line x1="311.80" y1="708.50" x2="316.30" y2="708.50" stroke="#000" stroke-width="2" />
<text x="310.50" y="712.70" font-size="10.8" font-weight="bold" text-anchor="end" fill="#000" >100</text>
<line x1="311.80" y1="684.45" x2="316.30" y2="684.45" stroke="#000" stroke-width="2" />
<text x="310.50" y="688.65" font-size="10.8" font-weight="bold" text-anchor="end" fill="#000" >150</text>
<line x1="311.80" y1="660.40" x2="316.30" y2="660.40" stroke="#000" stroke-width="2" />
<text x="310.50" y="664.60" font-size="10.8" font-weight="bold" text-anchor="end" fill="#000" >200</text>
<text x="288.80" y="706.50" font-size="12.5" font-weight="bold" text-anchor="middle" fill="#000" transform="rotate(-90 288.8 706.5)">AUC</text>
<rect x="324.50" y="714.27" width="14.2" height="42.33" fill="#9d9da2" stroke="#111" stroke-width="1.1"/>
<line x1="331.60" y1="708.98" x2="331.60" y2="719.56" stroke="#000" stroke-width="1.1" />
<line x1="328.10" y1="708.98" x2="335.10" y2="708.98" stroke="#000" stroke-width="1.1" />
<line x1="328.10" y1="719.56" x2="335.10" y2="719.56" stroke="#000" stroke-width="1.1" />
<line x1="331.60" y1="756.60" x2="331.60" y2="761.10" stroke="#000" stroke-width="2" />
<circle cx="329.00" cy="707.06" r="1.9" fill="#111"/>
<circle cx="334.50" cy="706.58" r="1.9" fill="#111"/>
<circle cx="331.60" cy="714.27" r="1.9" fill="#111"/>
<circle cx="331.60" cy="729.66" r="1.9" fill="#111"/>
<rect x="346.50" y="677.48" width="14.2" height="79.12" fill="#6cc3f0" stroke="#111" stroke-width="1.1"/>
<line x1="353.60" y1="675.79" x2="353.60" y2="679.16" stroke="#000" stroke-width="1.1" />
<line x1="350.10" y1="675.79" x2="357.10" y2="675.79" stroke="#000" stroke-width="1.1" />
<line x1="350.10" y1="679.16" x2="357.10" y2="679.16" stroke="#000" stroke-width="1.1" />
<line x1="353.60" y1="756.60" x2="353.60" y2="761.10" stroke="#000" stroke-width="2" />
<circle cx="350.60" cy="676.75" r="1.9" fill="#111"/>
<circle cx="353.60" cy="673.87" r="1.9" fill="#111"/>
<circle cx="356.60" cy="677.24" r="1.9" fill="#111"/>
<circle cx="353.60" cy="679.16" r="1.9" fill="#111"/>
<rect x="369.10" y="733.03" width="14.2" height="23.57" fill="#f45858" stroke="#111" stroke-width="1.1"/>
<line x1="376.20" y1="729.66" x2="376.20" y2="736.40" stroke="#000" stroke-width="1.1" />
<line x1="372.70" y1="729.66" x2="379.70" y2="729.66" stroke="#000" stroke-width="1.1" />
<line x1="372.70" y1="736.40" x2="379.70" y2="736.40" stroke="#000" stroke-width="1.1" />
<line x1="376.20" y1="756.60" x2="376.20" y2="761.10" stroke="#000" stroke-width="2" />
<circle cx="376.20" cy="722.93" r="1.9" fill="#111"/>
<circle cx="373.20" cy="731.59" r="1.9" fill="#111"/>
<circle cx="379.20" cy="734.96" r="1.9" fill="#111"/>
<circle cx="376.20" cy="740.01" r="1.9" fill="#111"/>
<rect x="391.30" y="703.21" width="14.2" height="53.39" fill="#b062e0" stroke="#111" stroke-width="1.1"/>
<line x1="398.40" y1="699.84" x2="398.40" y2="706.58" stroke="#000" stroke-width="1.1" />
<line x1="394.90" y1="699.84" x2="401.90" y2="699.84" stroke="#000" stroke-width="1.1" />
<line x1="394.90" y1="706.58" x2="401.90" y2="706.58" stroke="#000" stroke-width="1.1" />
<line x1="398.40" y1="756.60" x2="398.40" y2="761.10" stroke="#000" stroke-width="2" />
<circle cx="395.40" cy="697.92" r="1.9" fill="#111"/>
<circle cx="401.40" cy="697.92" r="1.9" fill="#111"/>
<circle cx="398.40" cy="702.25" r="1.9" fill="#111"/>
<circle cx="398.40" cy="712.35" r="1.9" fill="#111"/>
<text x="335.60" y="770.90" font-size="10.5" font-weight="bold" text-anchor="end" fill="#000" transform="rotate(-45 335.60 770.90)">Control</text>
<text x="357.60" y="770.90" font-size="10.5" font-weight="bold" text-anchor="end" fill="#000" transform="rotate(-45 357.60 770.90)">PKD1<tspan font-size="7.5" dx="1" dy="-4.5">WT</tspan></text>
<text x="380.20" y="770.90" font-size="10.5" font-weight="bold" text-anchor="end" fill="#000" transform="rotate(-45 380.20 770.90)">PKD1<tspan font-size="7.5" dx="1" dy="-4.5">KO</tspan></text>
<text x="402.40" y="770.90" font-size="10.5" font-weight="bold" text-anchor="end" fill="#000" transform="rotate(-45 402.40 770.90)">PKD1<tspan font-size="7.5" dx="1" dy="-4.5">KO</tspan><tspan dx="1" dy="4.5">+PKD1</tspan><tspan font-size="7.5" dx="1" dy="-4.5">WT</tspan></text>
<path d="M331.5 595.3 V590 H398.3 V595.3" fill="none" stroke="#333" stroke-width="1.1"/>
<text x="364.70" y="588.00" font-size="7.9" font-weight="bold" text-anchor="middle" fill="#222" >0.1713</text>
<path d="M353.5 613.5999999999999 V608.3 H398.3 V613.5999999999999" fill="none" stroke="#333" stroke-width="1.1"/>
<text x="375.70" y="606.30" font-size="7.9" font-weight="bold" text-anchor="middle" fill="#222" >0.0019</text>
<path d="M331.5 631.0999999999999 V625.8 H376.4 V631.0999999999999" fill="none" stroke="#333" stroke-width="1.1"/>
<text x="353.80" y="623.80" font-size="7.9" font-weight="bold" text-anchor="middle" fill="#222" >0.0201</text>
<path d="M353.5 648.9 V643.6 H376.4 V648.9" fill="none" stroke="#333" stroke-width="1.1"/>
<text x="364.50" y="641.60" font-size="7.9" font-weight="bold" text-anchor="middle" fill="#222" >&lt;0.0001</text>
<path d="M331.5 666.6999999999999 V661.4 H353.5 V666.6999999999999" fill="none" stroke="#333" stroke-width="1.1"/>
<text x="342.30" y="659.40" font-size="7.9" font-weight="bold" text-anchor="middle" fill="#222" >&lt;0.0001</text>
<path d="M376.4 666.6999999999999 V661.4 H398.3 V666.6999999999999" fill="none" stroke="#333" stroke-width="1.1"/>
<text x="387.30" y="659.40" font-size="7.9" font-weight="bold" text-anchor="middle" fill="#222" >0.0005</text>
<text x="473.00" y="619.20" font-size="16" font-weight="bold" text-anchor="start" fill="#000" >k</text>
<text x="575.20" y="641.20" font-size="12" font-weight="bold" text-anchor="middle" fill="#000" >PKD1-Nluc</text>
<path d="M522.8000000000001 658.40 H527.6 V754.4 H624.8" fill="none" stroke="#000" stroke-width="2.2"/>
<line x1="522.80" y1="754.40" x2="527.60" y2="754.40" stroke="#000" stroke-width="2.2" />
<text x="522.20" y="758.70" font-size="10.5" font-weight="bold" text-anchor="end" fill="#000" >0.0</text>
<line x1="522.80" y1="722.40" x2="527.60" y2="722.40" stroke="#000" stroke-width="2.2" />
<text x="522.20" y="726.70" font-size="10.5" font-weight="bold" text-anchor="end" fill="#000" >0.5</text>
<line x1="522.80" y1="690.40" x2="527.60" y2="690.40" stroke="#000" stroke-width="2.2" />
<text x="522.20" y="694.70" font-size="10.5" font-weight="bold" text-anchor="end" fill="#000" >1.0</text>
<line x1="522.80" y1="658.40" x2="527.60" y2="658.40" stroke="#000" stroke-width="2.2" />
<text x="522.20" y="662.70" font-size="10.5" font-weight="bold" text-anchor="end" fill="#000" >1.5</text>
<text x="487.30" y="704.60" font-size="12" font-weight="bold" text-anchor="middle" fill="#000" transform="rotate(-90 487.3 704.6)">Luminescence</text>
<text x="502.50" y="704.60" font-size="12" font-weight="bold" text-anchor="middle" fill="#000" transform="rotate(-90 502.5 704.6)">(RLU, x10<tspan font-size="8.5" dy="-4.5">6</tspan><tspan dy="4.5">)</tspan></text>
<rect x="533.70" y="679.52" width="11.8" height="74.88" fill="#9a9aa0" stroke="#111" stroke-width="1.1"/>
<line x1="539.60" y1="676.32" x2="539.60" y2="682.72" stroke="#000" stroke-width="1.1" />
<line x1="536.60" y1="676.32" x2="542.60" y2="676.32" stroke="#000" stroke-width="1.1" />
<line x1="539.60" y1="754.40" x2="539.60" y2="759.20" stroke="#000" stroke-width="2.2" />
<circle cx="537.10" cy="671.20" r="1.75" fill="#111"/>
<circle cx="542.10" cy="673.12" r="1.75" fill="#111"/>
<circle cx="535.60" cy="682.08" r="1.75" fill="#111"/>
<circle cx="540.60" cy="680.80" r="1.75" fill="#111"/>
<circle cx="543.60" cy="681.44" r="1.75" fill="#111"/>
<rect x="551.50" y="748.77" width="11.8" height="5.63" fill="#f5a3cb" stroke="#111" stroke-width="1.1"/>
<line x1="557.40" y1="748.13" x2="557.40" y2="749.41" stroke="#000" stroke-width="1.1" />
<line x1="554.40" y1="748.13" x2="560.40" y2="748.13" stroke="#000" stroke-width="1.1" />
<line x1="557.40" y1="754.40" x2="557.40" y2="759.20" stroke="#000" stroke-width="2.2" />
<circle cx="552.90" cy="747.36" r="1.75" fill="#111"/>
<circle cx="555.90" cy="746.72" r="1.75" fill="#111"/>
<circle cx="558.90" cy="746.72" r="1.75" fill="#111"/>
<circle cx="561.90" cy="747.36" r="1.75" fill="#111"/>
<circle cx="557.40" cy="748.96" r="1.75" fill="#111"/>
<rect x="569.50" y="749.60" width="11.8" height="4.80" fill="#f5a5f5" stroke="#111" stroke-width="1.1"/>
<line x1="575.40" y1="748.96" x2="575.40" y2="750.24" stroke="#000" stroke-width="1.1" />
<line x1="572.40" y1="748.96" x2="578.40" y2="748.96" stroke="#000" stroke-width="1.1" />
<line x1="575.40" y1="754.40" x2="575.40" y2="759.20" stroke="#000" stroke-width="2.2" />
<circle cx="570.90" cy="749.60" r="1.75" fill="#111"/>
<circle cx="573.40" cy="748.32" r="1.75" fill="#111"/>
<circle cx="575.40" cy="748.32" r="1.75" fill="#111"/>
<circle cx="577.40" cy="748.32" r="1.75" fill="#111"/>
<circle cx="579.90" cy="749.60" r="1.75" fill="#111"/>
<rect x="587.70" y="748.96" width="11.8" height="5.44" fill="#ee46ee" stroke="#111" stroke-width="1.1"/>
<line x1="593.60" y1="748.32" x2="593.60" y2="749.60" stroke="#000" stroke-width="1.1" />
<line x1="590.60" y1="748.32" x2="596.60" y2="748.32" stroke="#000" stroke-width="1.1" />
<line x1="593.60" y1="754.40" x2="593.60" y2="759.20" stroke="#000" stroke-width="2.2" />
<circle cx="589.10" cy="748.00" r="1.75" fill="#111"/>
<circle cx="592.10" cy="747.36" r="1.75" fill="#111"/>
<circle cx="595.10" cy="747.36" r="1.75" fill="#111"/>
<circle cx="598.10" cy="748.00" r="1.75" fill="#111"/>
<circle cx="593.60" cy="749.28" r="1.75" fill="#111"/>
<rect x="606.10" y="742.24" width="11.8" height="12.16" fill="#f25c5c" stroke="#111" stroke-width="1.1"/>
<line x1="612.00" y1="740.32" x2="612.00" y2="744.16" stroke="#000" stroke-width="1.1" />
<line x1="609.00" y1="740.32" x2="615.00" y2="740.32" stroke="#000" stroke-width="1.1" />
<line x1="612.00" y1="754.40" x2="612.00" y2="759.20" stroke="#000" stroke-width="2.2" />
<circle cx="608.00" cy="737.76" r="1.75" fill="#111"/>
<circle cx="612.00" cy="737.76" r="1.75" fill="#111"/>
<circle cx="616.00" cy="737.76" r="1.75" fill="#111"/>
<circle cx="610.00" cy="744.80" r="1.75" fill="#111"/>
<circle cx="614.00" cy="744.80" r="1.75" fill="#111"/>
<text x="543.10" y="768.90" font-size="10.5" font-weight="bold" text-anchor="end" fill="#000" transform="rotate(-45 543.10 768.90)">Control</text>
<text x="560.90" y="768.90" font-size="10.5" font-weight="bold" text-anchor="end" fill="#000" transform="rotate(-45 560.90 768.90)">PKD1<tspan font-size="7.5" dx="2" dy="-5">KO #1</tspan></text>
<text x="578.90" y="768.90" font-size="10.5" font-weight="bold" text-anchor="end" fill="#000" transform="rotate(-45 578.90 768.90)">PKD1<tspan font-size="7.5" dx="2" dy="-5">KO #2</tspan></text>
<text x="597.10" y="768.90" font-size="10.5" font-weight="bold" text-anchor="end" fill="#000" transform="rotate(-45 597.10 768.90)">PKD1<tspan font-size="7.5" dx="2" dy="-5">KO #3</tspan></text>
<text x="615.50" y="768.90" font-size="10.5" font-weight="bold" text-anchor="end" fill="#000" transform="rotate(-45 615.50 768.90)">PKD1<tspan font-size="7.5" dx="2" dy="-5">KO #1-3</tspan></text>
</svg></body></html>
